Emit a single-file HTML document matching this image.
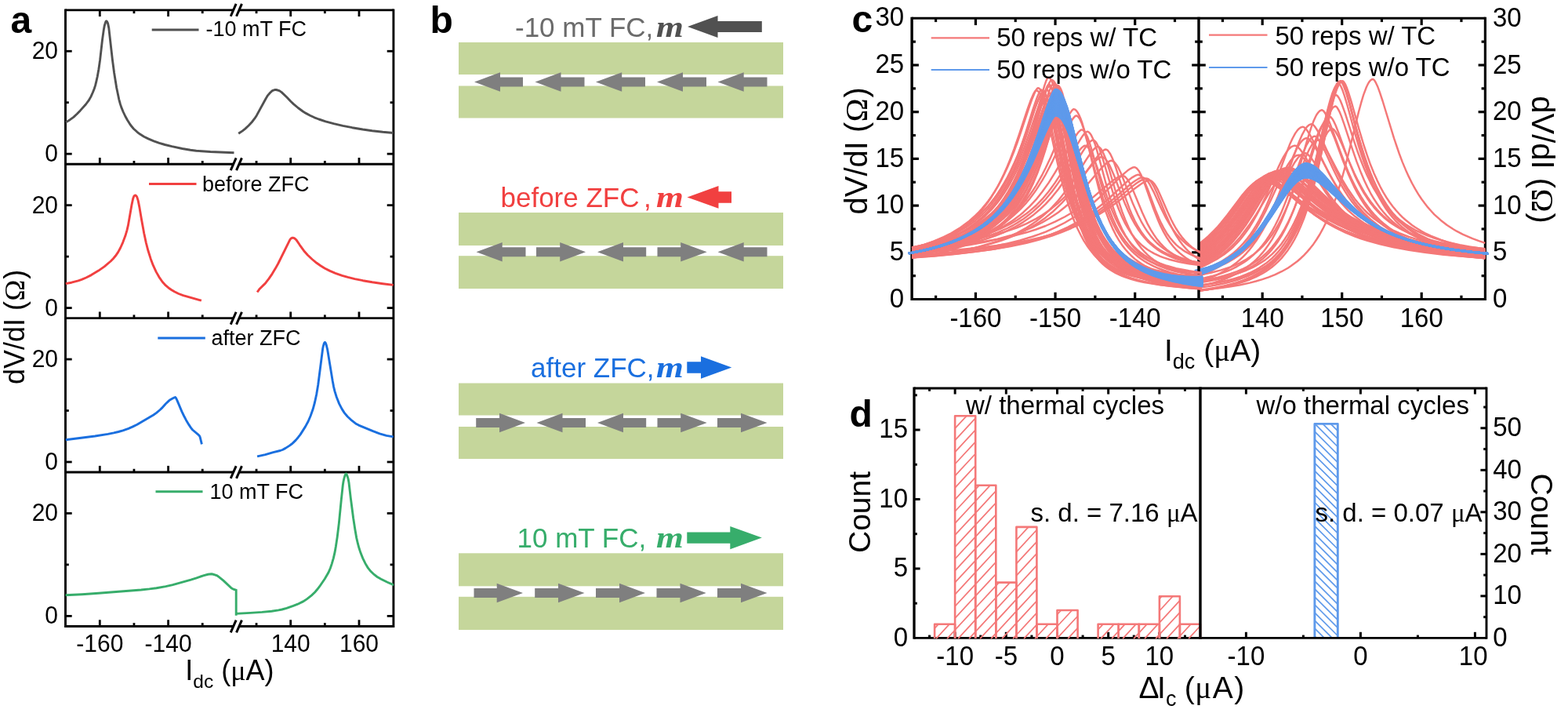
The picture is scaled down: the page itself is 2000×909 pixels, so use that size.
<!DOCTYPE html>
<html lang="en">
<head>
<meta charset="utf-8">
<title>Figure</title>
<style>
html,body{margin:0;padding:0;background:#fff;}
body{width:2000px;height:909px;overflow:hidden;}
svg{display:block;}
path{fill:none;}
</style>
</head>
<body>
<svg width="2000" height="909" viewBox="0 0 2000 909" font-family='"Liberation Sans", sans-serif'>
<rect x="0" y="0" width="2000" height="909" fill="#ffffff"/>
<g id="panel-a">
<line x1="83.50" y1="11.42" x2="83.50" y2="799.92" stroke="#000" stroke-width="2.9" stroke-linecap="butt" />
<line x1="501.90" y1="11.42" x2="501.90" y2="799.92" stroke="#000" stroke-width="2.9" stroke-linecap="butt" />
<line x1="83.50" y1="12.87" x2="297.70" y2="12.87" stroke="#000" stroke-width="2.9" stroke-linecap="butt" />
<line x1="305.00" y1="12.87" x2="501.90" y2="12.87" stroke="#000" stroke-width="2.9" stroke-linecap="butt" />
<line x1="294.25" y1="20.77" x2="301.15" y2="4.97" stroke="#000" stroke-width="3.0" stroke-linecap="butt" />
<line x1="301.55" y1="20.77" x2="308.45" y2="4.97" stroke="#000" stroke-width="3.0" stroke-linecap="butt" />
<line x1="83.50" y1="209.27" x2="297.70" y2="209.27" stroke="#000" stroke-width="2.9" stroke-linecap="butt" />
<line x1="305.00" y1="209.27" x2="501.90" y2="209.27" stroke="#000" stroke-width="2.9" stroke-linecap="butt" />
<line x1="294.25" y1="217.17" x2="301.15" y2="201.37" stroke="#000" stroke-width="3.0" stroke-linecap="butt" />
<line x1="301.55" y1="217.17" x2="308.45" y2="201.37" stroke="#000" stroke-width="3.0" stroke-linecap="butt" />
<line x1="83.50" y1="405.67" x2="297.70" y2="405.67" stroke="#000" stroke-width="2.9" stroke-linecap="butt" />
<line x1="305.00" y1="405.67" x2="501.90" y2="405.67" stroke="#000" stroke-width="2.9" stroke-linecap="butt" />
<line x1="294.25" y1="413.57" x2="301.15" y2="397.77" stroke="#000" stroke-width="3.0" stroke-linecap="butt" />
<line x1="301.55" y1="413.57" x2="308.45" y2="397.77" stroke="#000" stroke-width="3.0" stroke-linecap="butt" />
<line x1="83.50" y1="602.07" x2="297.70" y2="602.07" stroke="#000" stroke-width="2.9" stroke-linecap="butt" />
<line x1="305.00" y1="602.07" x2="501.90" y2="602.07" stroke="#000" stroke-width="2.9" stroke-linecap="butt" />
<line x1="294.25" y1="609.97" x2="301.15" y2="594.17" stroke="#000" stroke-width="3.0" stroke-linecap="butt" />
<line x1="301.55" y1="609.97" x2="308.45" y2="594.17" stroke="#000" stroke-width="3.0" stroke-linecap="butt" />
<line x1="83.50" y1="798.47" x2="297.70" y2="798.47" stroke="#000" stroke-width="2.9" stroke-linecap="butt" />
<line x1="305.00" y1="798.47" x2="501.90" y2="798.47" stroke="#000" stroke-width="2.9" stroke-linecap="butt" />
<line x1="294.25" y1="806.37" x2="301.15" y2="790.57" stroke="#000" stroke-width="3.0" stroke-linecap="butt" />
<line x1="301.55" y1="806.37" x2="308.45" y2="790.57" stroke="#000" stroke-width="3.0" stroke-linecap="butt" />
<line x1="127.30" y1="209.27" x2="127.30" y2="201.07" stroke="#000" stroke-width="2.8" stroke-linecap="butt" />
<line x1="214.60" y1="209.27" x2="214.60" y2="201.07" stroke="#000" stroke-width="2.8" stroke-linecap="butt" />
<line x1="370.70" y1="209.27" x2="370.70" y2="201.07" stroke="#000" stroke-width="2.8" stroke-linecap="butt" />
<line x1="458.00" y1="209.27" x2="458.00" y2="201.07" stroke="#000" stroke-width="2.8" stroke-linecap="butt" />
<line x1="170.95" y1="209.27" x2="170.95" y2="204.97" stroke="#000" stroke-width="2.8" stroke-linecap="butt" />
<line x1="258.25" y1="209.27" x2="258.25" y2="204.97" stroke="#000" stroke-width="2.8" stroke-linecap="butt" />
<line x1="327.05" y1="209.27" x2="327.05" y2="204.97" stroke="#000" stroke-width="2.8" stroke-linecap="butt" />
<line x1="414.35" y1="209.27" x2="414.35" y2="204.97" stroke="#000" stroke-width="2.8" stroke-linecap="butt" />
<line x1="83.50" y1="65.24" x2="91.70" y2="65.24" stroke="#000" stroke-width="2.8" stroke-linecap="butt" />
<line x1="501.90" y1="65.24" x2="493.70" y2="65.24" stroke="#000" stroke-width="2.8" stroke-linecap="butt" />
<line x1="83.50" y1="196.18" x2="91.70" y2="196.18" stroke="#000" stroke-width="2.8" stroke-linecap="butt" />
<line x1="501.90" y1="196.18" x2="493.70" y2="196.18" stroke="#000" stroke-width="2.8" stroke-linecap="butt" />
<line x1="83.50" y1="130.71" x2="87.80" y2="130.71" stroke="#000" stroke-width="2.8" stroke-linecap="butt" />
<line x1="501.90" y1="130.71" x2="497.60" y2="130.71" stroke="#000" stroke-width="2.8" stroke-linecap="butt" />
<text font-size="30" text-anchor="end" transform="translate(74.00,75.24) scale(1,1.045)" >20</text>
<text font-size="30" text-anchor="end" transform="translate(74.00,206.18) scale(1,1.045)" >0</text>
<line x1="127.30" y1="405.67" x2="127.30" y2="397.47" stroke="#000" stroke-width="2.8" stroke-linecap="butt" />
<line x1="214.60" y1="405.67" x2="214.60" y2="397.47" stroke="#000" stroke-width="2.8" stroke-linecap="butt" />
<line x1="370.70" y1="405.67" x2="370.70" y2="397.47" stroke="#000" stroke-width="2.8" stroke-linecap="butt" />
<line x1="458.00" y1="405.67" x2="458.00" y2="397.47" stroke="#000" stroke-width="2.8" stroke-linecap="butt" />
<line x1="170.95" y1="405.67" x2="170.95" y2="401.37" stroke="#000" stroke-width="2.8" stroke-linecap="butt" />
<line x1="258.25" y1="405.67" x2="258.25" y2="401.37" stroke="#000" stroke-width="2.8" stroke-linecap="butt" />
<line x1="327.05" y1="405.67" x2="327.05" y2="401.37" stroke="#000" stroke-width="2.8" stroke-linecap="butt" />
<line x1="414.35" y1="405.67" x2="414.35" y2="401.37" stroke="#000" stroke-width="2.8" stroke-linecap="butt" />
<line x1="83.50" y1="261.64" x2="91.70" y2="261.64" stroke="#000" stroke-width="2.8" stroke-linecap="butt" />
<line x1="501.90" y1="261.64" x2="493.70" y2="261.64" stroke="#000" stroke-width="2.8" stroke-linecap="butt" />
<line x1="83.50" y1="392.58" x2="91.70" y2="392.58" stroke="#000" stroke-width="2.8" stroke-linecap="butt" />
<line x1="501.90" y1="392.58" x2="493.70" y2="392.58" stroke="#000" stroke-width="2.8" stroke-linecap="butt" />
<line x1="83.50" y1="327.11" x2="87.80" y2="327.11" stroke="#000" stroke-width="2.8" stroke-linecap="butt" />
<line x1="501.90" y1="327.11" x2="497.60" y2="327.11" stroke="#000" stroke-width="2.8" stroke-linecap="butt" />
<text font-size="30" text-anchor="end" transform="translate(74.00,271.64) scale(1,1.045)" >20</text>
<text font-size="30" text-anchor="end" transform="translate(74.00,402.58) scale(1,1.045)" >0</text>
<line x1="127.30" y1="602.07" x2="127.30" y2="593.87" stroke="#000" stroke-width="2.8" stroke-linecap="butt" />
<line x1="214.60" y1="602.07" x2="214.60" y2="593.87" stroke="#000" stroke-width="2.8" stroke-linecap="butt" />
<line x1="370.70" y1="602.07" x2="370.70" y2="593.87" stroke="#000" stroke-width="2.8" stroke-linecap="butt" />
<line x1="458.00" y1="602.07" x2="458.00" y2="593.87" stroke="#000" stroke-width="2.8" stroke-linecap="butt" />
<line x1="170.95" y1="602.07" x2="170.95" y2="597.77" stroke="#000" stroke-width="2.8" stroke-linecap="butt" />
<line x1="258.25" y1="602.07" x2="258.25" y2="597.77" stroke="#000" stroke-width="2.8" stroke-linecap="butt" />
<line x1="327.05" y1="602.07" x2="327.05" y2="597.77" stroke="#000" stroke-width="2.8" stroke-linecap="butt" />
<line x1="414.35" y1="602.07" x2="414.35" y2="597.77" stroke="#000" stroke-width="2.8" stroke-linecap="butt" />
<line x1="83.50" y1="458.04" x2="91.70" y2="458.04" stroke="#000" stroke-width="2.8" stroke-linecap="butt" />
<line x1="501.90" y1="458.04" x2="493.70" y2="458.04" stroke="#000" stroke-width="2.8" stroke-linecap="butt" />
<line x1="83.50" y1="588.98" x2="91.70" y2="588.98" stroke="#000" stroke-width="2.8" stroke-linecap="butt" />
<line x1="501.90" y1="588.98" x2="493.70" y2="588.98" stroke="#000" stroke-width="2.8" stroke-linecap="butt" />
<line x1="83.50" y1="523.51" x2="87.80" y2="523.51" stroke="#000" stroke-width="2.8" stroke-linecap="butt" />
<line x1="501.90" y1="523.51" x2="497.60" y2="523.51" stroke="#000" stroke-width="2.8" stroke-linecap="butt" />
<text font-size="30" text-anchor="end" transform="translate(74.00,468.04) scale(1,1.045)" >20</text>
<text font-size="30" text-anchor="end" transform="translate(74.00,598.98) scale(1,1.045)" >0</text>
<line x1="127.30" y1="798.47" x2="127.30" y2="790.27" stroke="#000" stroke-width="2.8" stroke-linecap="butt" />
<line x1="214.60" y1="798.47" x2="214.60" y2="790.27" stroke="#000" stroke-width="2.8" stroke-linecap="butt" />
<line x1="370.70" y1="798.47" x2="370.70" y2="790.27" stroke="#000" stroke-width="2.8" stroke-linecap="butt" />
<line x1="458.00" y1="798.47" x2="458.00" y2="790.27" stroke="#000" stroke-width="2.8" stroke-linecap="butt" />
<line x1="170.95" y1="798.47" x2="170.95" y2="794.17" stroke="#000" stroke-width="2.8" stroke-linecap="butt" />
<line x1="258.25" y1="798.47" x2="258.25" y2="794.17" stroke="#000" stroke-width="2.8" stroke-linecap="butt" />
<line x1="327.05" y1="798.47" x2="327.05" y2="794.17" stroke="#000" stroke-width="2.8" stroke-linecap="butt" />
<line x1="414.35" y1="798.47" x2="414.35" y2="794.17" stroke="#000" stroke-width="2.8" stroke-linecap="butt" />
<line x1="83.50" y1="654.44" x2="91.70" y2="654.44" stroke="#000" stroke-width="2.8" stroke-linecap="butt" />
<line x1="501.90" y1="654.44" x2="493.70" y2="654.44" stroke="#000" stroke-width="2.8" stroke-linecap="butt" />
<line x1="83.50" y1="785.38" x2="91.70" y2="785.38" stroke="#000" stroke-width="2.8" stroke-linecap="butt" />
<line x1="501.90" y1="785.38" x2="493.70" y2="785.38" stroke="#000" stroke-width="2.8" stroke-linecap="butt" />
<line x1="83.50" y1="719.91" x2="87.80" y2="719.91" stroke="#000" stroke-width="2.8" stroke-linecap="butt" />
<line x1="501.90" y1="719.91" x2="497.60" y2="719.91" stroke="#000" stroke-width="2.8" stroke-linecap="butt" />
<text font-size="30" text-anchor="end" transform="translate(74.00,664.44) scale(1,1.045)" >20</text>
<text font-size="30" text-anchor="end" transform="translate(74.00,795.38) scale(1,1.045)" >0</text>
<line x1="127.30" y1="12.87" x2="127.30" y2="21.07" stroke="#000" stroke-width="2.8" stroke-linecap="butt" />
<line x1="214.60" y1="12.87" x2="214.60" y2="21.07" stroke="#000" stroke-width="2.8" stroke-linecap="butt" />
<line x1="370.70" y1="12.87" x2="370.70" y2="21.07" stroke="#000" stroke-width="2.8" stroke-linecap="butt" />
<line x1="458.00" y1="12.87" x2="458.00" y2="21.07" stroke="#000" stroke-width="2.8" stroke-linecap="butt" />
<line x1="170.95" y1="12.87" x2="170.95" y2="17.17" stroke="#000" stroke-width="2.8" stroke-linecap="butt" />
<line x1="258.25" y1="12.87" x2="258.25" y2="17.17" stroke="#000" stroke-width="2.8" stroke-linecap="butt" />
<line x1="327.05" y1="12.87" x2="327.05" y2="17.17" stroke="#000" stroke-width="2.8" stroke-linecap="butt" />
<line x1="414.35" y1="12.87" x2="414.35" y2="17.17" stroke="#000" stroke-width="2.8" stroke-linecap="butt" />
<text font-size="30" text-anchor="middle" transform="translate(127.30,831.00) scale(1,1.045)" >-160</text>
<text font-size="30" text-anchor="middle" transform="translate(214.60,831.00) scale(1,1.045)" >-140</text>
<text font-size="30" text-anchor="middle" transform="translate(370.70,831.00) scale(1,1.045)" >140</text>
<text font-size="30" text-anchor="middle" transform="translate(458.00,831.00) scale(1,1.045)" >160</text>
<clipPath id="clipA"><rect x="83.1" y="0" width="419.2" height="909"/></clipPath>
<g clip-path="url(#clipA)">
<path d="M83.7 156l5.2 -3.1 4.9 -3.5 4.4 -4.1 4.2 -4.4 7.1 -7.9 3.6 -4.8 2.9 -5.1 2.5 -5.6 1.7 -4.3 1.4 -4.3 1.4 -5.8 1.3 -5.8 1.6 -9 1.7 -11.9 2.9 -25.5 1.9 -13.5 0.8 -4.4 1.4 -4.7 0.7 -1.4 0.8 0 0.8 1.3 0.7 1.7 1.2 5.7 4.6 40.6 2.2 16.5 3.1 19.3 3.1 14.8 1.6 5.8 1.4 4.3 2.3 5.6 2.6 5.5 2.9 5.2 2.4 3.9 2.6 3.7 2.9 3.4 4.5 4.1 3.6 2.8 5.1 3.1 5.4 2.7 7 2.9 7.1 2.5 7.2 2.2 8.8 2.2 13.3 2.8 10.4 1.8 7.5 0.9 18 1.3 30.1 1.2" stroke="#515151" stroke-width="2.9" stroke-linejoin="round" stroke-linecap="butt" />
<path d="M304.2 170.3l5.1 -3.4 3.5 -2.8 4.4 -4.1 4.2 -4.5 3.7 -4.8 2.4 -3.8 11.7 -21.4 2.4 -3.9 2.9 -3.4 2.3 -2.1 1.3 -0.8 2.8 -0.9 1.5 0.1 3 0.9 1.3 0.5 2.5 1.7 6.7 6.4 5.2 5.5 3.3 3.1 5.8 4.9 6.1 4.5 3.9 2.4 5.3 2.8 5.5 2.6 5.7 2.2 8.6 2.8 10.3 2.8 11.7 2.7 11.9 2.4 13.5 2.3 12 1.7 13.5 1.6 13.6 1.2" stroke="#515151" stroke-width="2.9" stroke-linejoin="round" stroke-linecap="butt" />
<path d="M83.7 361.6l7.5 -1.4 8.7 -2.3 4.3 -1.5 5.6 -2.4 6.7 -3.4 9.1 -5.5 7.5 -5.2 8.1 -6.9 3.2 -3.3 2.9 -3.4 3.4 -4.9 2.9 -5.4 3.1 -6.9 3.2 -8.5 2.1 -7.3 1.4 -5.9 4.7 -26.8 1.6 -7.5 1.1 -2.8 1 -1.2 1.2 -0.1 1.2 1.2 0.7 1.4 1.3 4.3 1.8 9 2.5 14.9 3.3 17.9 2.5 11.8 2.7 10.3 3.2 10.1 3.2 8.5 3.8 8.2 3.8 6.7 4.3 6.2 4.1 4.4 4.7 3.9 2.5 1.7 3.8 2.3 5.5 2.7 5.7 2.2 23.3 6.5" stroke="#F14040" stroke-width="2.9" stroke-linejoin="round" stroke-linecap="butt" />
<path d="M328.1 372.5l2.6 -3.7 6.5 -6.4 2 -2.2 3.7 -4.8 4.3 -6.3 3.9 -6.5 3.7 -6.6 14.9 -30.1 0.8 -1.2 0.9 -0.9 1.5 -0.6 1.4 0 1.4 0.7 2.3 2 4.3 6.4 6.2 8.5 4 4.5 5.6 5.2 5.8 4.8 5 3.5 5.2 3.2 6.7 3.4 7 2.9 8.6 3 7.2 2.1 8.9 2.2 10.4 2.1 11.9 2.1 13.5 1.9 13.5 1.7" stroke="#F14040" stroke-width="2.9" stroke-linejoin="round" stroke-linecap="butt" />
<path d="M83.7 560.8l37.5 -4.8 16.5 -2.6 7.4 -1.5 5.9 -1.4 5.8 -1.7 7.1 -2.5 5.6 -2.4 5.4 -2.7 20.9 -12.2 3.7 -2.6 4.6 -3.9 2.2 -2.1 5.1 -5.6 4.4 -4.2 1.2 -0.9 2.6 -1.5 2.9 -1.4 1.2 -0.3 0.9 1.2 1.4 2.9 5.9 14 2.6 5.4 2.8 5.4 3.9 6.5 2.5 3.8 1.9 2.3 7 5.9 1.2 1.1 0.9 1.1 0.5 1.3 2.2 8.9" stroke="#1A6FDF" stroke-width="2.9" stroke-linejoin="round" stroke-linecap="butt" />
<path d="M328.1 581.9l10.3 -2.2 10.2 -3 8.8 -2.2 2.9 -1 3.9 -2.1 5.1 -3.3 2.5 -1.8 2.2 -1.9 3.3 -3.3 2.9 -3.4 2.8 -3.6 6.5 -10.2 3.6 -6.6 3 -7 3 -8.5 2.4 -8.8 2.2 -10.3 2 -12 6 -46.5 0.6 -2.9 1 -3.3 0.7 -1.4 0.7 -0.2 0.7 1.2 0.7 1.7 1.5 6 6.6 40.3 1.4 7.5 1.4 5.8 2.3 7.3 3.3 8.4 3.5 6.8 3.2 5 3.9 4.6 5.6 5.2 4.8 3.7 3.9 2.2 18.2 7.6 8.5 3.1 8.7 2.6 8.9 1.5" stroke="#1A6FDF" stroke-width="2.9" stroke-linejoin="round" stroke-linecap="butt" />
<path d="M83.5 758.8l21.1 -1.1 21.1 -1.4 54.3 -4.3 10.5 -1.1 9 -1.2 11.9 -2 8.9 -2 23.2 -6.6 7.2 -2.3 8.6 -3 5.9 -1.5 4.5 -0.5 1.5 0.2 2.9 0.8 2.8 1.1 1.2 0.8 7.1 5.7 10 9.5 2.5 1.3 3.5 1.1 0 32.4 0 -2.4 18.1 -0.9 15 -1 12.1 -1.2 8.9 -1.3 4.4 -0.9 5.9 -1.7 8.5 -2.9 5.7 -2.2 6.7 -3.3 5.1 -3.3 6 -4.7 4.3 -4.1 2.9 -3.5 2.8 -3.6 6.8 -10 4.6 -7.9 2.4 -5.5 1.9 -5.7 2.1 -7.3 1.7 -7.4 1.3 -7.4 1.8 -11.9 2.2 -18 2.8 -28.5 2.1 -19.6 0.7 -4.5 1 -4.5 1.1 -3.6 0.7 -1.3 0.6 -0.6 0.6 0.4 1.2 3 1 3.5 0.8 4.4 2.3 19.6 3.3 25.4 2.3 14.9 1.8 10.4 1.7 7.4 1.6 5.8 1.9 5.8 2.8 7 3.3 6.8 3.1 5.2 3.7 4.7 4.4 4.2 3.6 2.7 5.2 3 8.1 4.1 8.4 3.5" stroke="#37AD6B" stroke-width="2.9" stroke-linejoin="miter" stroke-linecap="butt" />
</g>
<text x="236.3" y="867" font-family='"Liberation Sans", sans-serif' font-size="36" fill="#000">I<tspan font-size="24.5" dy="9.5">dc</tspan><tspan dy="-9.5" font-size="36"> (</tspan><tspan font-family='"Liberation Serif", serif' font-size="36">μ</tspan><tspan>A)</tspan></text>
<text transform="translate(31,490) rotate(-90)" font-size="36">dV/dI (<tspan font-family='"Liberation Serif", serif' dx="0.5">Ω</tspan><tspan dx="1">)</tspan></text>
<line x1="193.70" y1="38.00" x2="253.50" y2="38.00" stroke="#515151" stroke-width="3.0" stroke-linecap="butt" />
<text font-size="27" x="262.50" y="46.20" >-10 mT FC</text>
<line x1="190.00" y1="234.60" x2="250.50" y2="234.60" stroke="#F14040" stroke-width="3.0" stroke-linecap="butt" />
<text font-size="27" x="258.00" y="243.50" >before ZFC</text>
<line x1="201.30" y1="430.90" x2="261.80" y2="430.90" stroke="#1A6FDF" stroke-width="3.0" stroke-linecap="butt" />
<text font-size="27" x="269.50" y="440.00" >after ZFC</text>
<line x1="198.50" y1="626.80" x2="258.50" y2="626.80" stroke="#37AD6B" stroke-width="3.0" stroke-linecap="butt" />
<text font-size="27" x="267.50" y="636.00" >10 mT FC</text>
<text font-size="48" font-weight="bold" x="13.50" y="41.80" >a</text>
</g>
<g id="panel-b">
<rect x="585.00" y="54.00" width="414.00" height="41.00" fill="#C5D69B" stroke="none" stroke-width="0" />
<rect x="585.00" y="109.50" width="414.00" height="41.00" fill="#C5D69B" stroke="none" stroke-width="0" />
<polygon points="667.00,98.55 638.00,98.55 638.00,92.30 605.00,104.50 638.00,116.70 638.00,110.45 667.00,110.45" fill="#7F7F7F"/>
<polygon points="745.50,98.55 715.50,98.55 715.50,92.30 682.50,104.50 715.50,116.70 715.50,110.45 745.50,110.45" fill="#7F7F7F"/>
<polygon points="823.00,98.55 793.20,98.55 793.20,92.30 760.00,104.50 793.20,116.70 793.20,110.45 823.00,110.45" fill="#7F7F7F"/>
<polygon points="901.00,98.55 871.00,98.55 871.00,92.30 838.00,104.50 871.00,116.70 871.00,110.45 901.00,110.45" fill="#7F7F7F"/>
<polygon points="978.50,98.55 948.70,98.55 948.70,92.30 915.50,104.50 948.70,116.70 948.70,110.45 978.50,110.45" fill="#7F7F7F"/>
<rect x="585.00" y="271.00" width="414.00" height="42.00" fill="#C5D69B" stroke="none" stroke-width="0" />
<rect x="585.00" y="326.20" width="414.00" height="41.80" fill="#C5D69B" stroke="none" stroke-width="0" />
<polygon points="670.50,315.35 640.70,315.35 640.70,309.10 607.50,321.30 640.70,333.50 640.70,327.25 670.50,327.25" fill="#7F7F7F"/>
<polygon points="684.00,315.35 714.20,315.35 714.20,309.10 747.00,321.30 714.20,333.50 714.20,327.25 684.00,327.25" fill="#7F7F7F"/>
<polygon points="824.20,315.35 795.00,315.35 795.00,309.10 762.00,321.30 795.00,333.50 795.00,327.25 824.20,327.25" fill="#7F7F7F"/>
<polygon points="838.50,315.35 868.20,315.35 868.20,309.10 901.70,321.30 868.20,333.50 868.20,327.25 838.50,327.25" fill="#7F7F7F"/>
<polygon points="978.50,315.35 948.70,315.35 948.70,309.10 915.50,321.30 948.70,333.50 948.70,327.25 978.50,327.25" fill="#7F7F7F"/>
<rect x="585.00" y="488.50" width="414.00" height="41.00" fill="#C5D69B" stroke="none" stroke-width="0" />
<rect x="585.00" y="544.00" width="414.00" height="41.00" fill="#C5D69B" stroke="none" stroke-width="0" />
<polygon points="607.20,533.05 637.00,533.05 637.00,526.80 670.00,539.00 637.00,551.20 637.00,544.95 607.20,544.95" fill="#7F7F7F"/>
<polygon points="747.00,533.05 717.50,533.05 717.50,526.80 684.50,539.00 717.50,551.20 717.50,544.95 747.00,544.95" fill="#7F7F7F"/>
<polygon points="824.20,533.05 795.00,533.05 795.00,526.80 762.00,539.00 795.00,551.20 795.00,544.95 824.20,544.95" fill="#7F7F7F"/>
<polygon points="838.50,533.05 868.20,533.05 868.20,526.80 901.70,539.00 868.20,551.20 868.20,544.95 838.50,544.95" fill="#7F7F7F"/>
<polygon points="915.00,533.05 945.00,533.05 945.00,526.80 978.50,539.00 945.00,551.20 945.00,544.95 915.00,544.95" fill="#7F7F7F"/>
<rect x="585.00" y="705.30" width="414.00" height="42.00" fill="#C5D69B" stroke="none" stroke-width="0" />
<rect x="585.00" y="760.80" width="414.00" height="42.20" fill="#C5D69B" stroke="none" stroke-width="0" />
<polygon points="604.50,750.05 633.70,750.05 633.70,743.80 667.00,756.00 633.70,768.20 633.70,761.95 604.50,761.95" fill="#7F7F7F"/>
<polygon points="682.20,750.05 712.00,750.05 712.00,743.80 745.50,756.00 712.00,768.20 712.00,761.95 682.20,761.95" fill="#7F7F7F"/>
<polygon points="760.00,750.05 790.00,750.05 790.00,743.80 823.00,756.00 790.00,768.20 790.00,761.95 760.00,761.95" fill="#7F7F7F"/>
<polygon points="837.50,750.05 867.50,750.05 867.50,743.80 900.70,756.00 867.50,768.20 867.50,761.95 837.50,761.95" fill="#7F7F7F"/>
<polygon points="915.00,750.05 945.00,750.05 945.00,743.80 978.50,756.00 945.00,768.20 945.00,761.95 915.00,761.95" fill="#7F7F7F"/>
<polygon points="971.80,27.10 915.50,27.10 915.50,20.00 877.00,34.00 915.50,48.00 915.50,40.90 971.80,40.90" fill="#515151"/>
<polygon points="933.00,244.15 916.50,244.15 916.50,237.00 876.50,251.40 916.50,265.80 916.50,258.65 933.00,258.65" fill="#F14040"/>
<polygon points="876.30,461.35 894.00,461.35 894.00,454.25 933.30,468.50 894.00,482.75 894.00,475.65 876.30,475.65" fill="#1A6FDF"/>
<polygon points="876.30,678.45 931.30,678.45 931.30,671.00 971.80,685.60 931.30,700.20 931.30,692.75 876.30,692.75" fill="#37AD6B"/>
<text font-size="35" fill="#6B6B6B" x="657.00" y="46.50" >-10 mT FC,</text>
<text transform="translate(837.0,46.5) scale(1.12,0.95)" font-size="40" font-weight="bold" font-style="italic" fill="#515151" font-family='"Liberation Serif", serif'>m</text>
<text font-size="35" fill="#F14040" x="638.50" y="264.00" >before ZFC<tspan dx="5.5">,</tspan></text>
<text transform="translate(837.0,264.0) scale(1.12,0.95)" font-size="40" font-weight="bold" font-style="italic" fill="#F14040" font-family='"Liberation Serif", serif'>m</text>
<text font-size="35" fill="#1A6FDF" x="677.00" y="481.00" >after ZFC,</text>
<text transform="translate(837.0,481.0) scale(1.12,0.95)" font-size="40" font-weight="bold" font-style="italic" fill="#1A6FDF" font-family='"Liberation Serif", serif'>m</text>
<text font-size="35" fill="#37AD6B" x="659.50" y="698.30" >10 mT FC,</text>
<text transform="translate(837.0,698.3) scale(1.12,0.95)" font-size="40" font-weight="bold" font-style="italic" fill="#37AD6B" font-family='"Liberation Serif", serif'>m</text>
<text font-size="48" font-weight="bold" x="548.50" y="41.50" >b</text>
</g>
<g id="panel-c">
<clipPath id="clipCL"><rect x="1157.1" y="23.3" width="377.1000000000001" height="358.2"/></clipPath>
<clipPath id="clipCR"><rect x="1523.8" y="23.3" width="376.6000000000001" height="358.2"/></clipPath>
<line x1="1163.10" y1="21.85" x2="1163.10" y2="382.95" stroke="#000" stroke-width="3.4" stroke-linecap="butt" />
<line x1="1894.40" y1="21.85" x2="1894.40" y2="382.95" stroke="#000" stroke-width="3.2" stroke-linecap="butt" />
<line x1="1163.10" y1="23.30" x2="1894.40" y2="23.30" stroke="#000" stroke-width="2.9" stroke-linecap="butt" />
<line x1="1163.10" y1="381.50" x2="1894.40" y2="381.50" stroke="#000" stroke-width="2.9" stroke-linecap="butt" />
<line x1="1193.59" y1="381.50" x2="1193.59" y2="376.70" stroke="#000" stroke-width="3.2" stroke-linecap="butt" />
<line x1="1193.59" y1="23.30" x2="1193.59" y2="28.10" stroke="#000" stroke-width="3.2" stroke-linecap="butt" />
<line x1="1244.41" y1="381.50" x2="1244.41" y2="372.70" stroke="#000" stroke-width="3.2" stroke-linecap="butt" />
<line x1="1244.41" y1="23.30" x2="1244.41" y2="32.10" stroke="#000" stroke-width="3.2" stroke-linecap="butt" />
<line x1="1295.23" y1="381.50" x2="1295.23" y2="376.70" stroke="#000" stroke-width="3.2" stroke-linecap="butt" />
<line x1="1295.23" y1="23.30" x2="1295.23" y2="28.10" stroke="#000" stroke-width="3.2" stroke-linecap="butt" />
<line x1="1346.05" y1="381.50" x2="1346.05" y2="372.70" stroke="#000" stroke-width="3.2" stroke-linecap="butt" />
<line x1="1346.05" y1="23.30" x2="1346.05" y2="32.10" stroke="#000" stroke-width="3.2" stroke-linecap="butt" />
<line x1="1396.87" y1="381.50" x2="1396.87" y2="376.70" stroke="#000" stroke-width="3.2" stroke-linecap="butt" />
<line x1="1396.87" y1="23.30" x2="1396.87" y2="28.10" stroke="#000" stroke-width="3.2" stroke-linecap="butt" />
<line x1="1447.69" y1="381.50" x2="1447.69" y2="372.70" stroke="#000" stroke-width="3.2" stroke-linecap="butt" />
<line x1="1447.69" y1="23.30" x2="1447.69" y2="32.10" stroke="#000" stroke-width="3.2" stroke-linecap="butt" />
<line x1="1498.51" y1="381.50" x2="1498.51" y2="376.70" stroke="#000" stroke-width="3.2" stroke-linecap="butt" />
<line x1="1498.51" y1="23.30" x2="1498.51" y2="28.10" stroke="#000" stroke-width="3.2" stroke-linecap="butt" />
<line x1="1559.45" y1="381.50" x2="1559.45" y2="376.70" stroke="#000" stroke-width="3.2" stroke-linecap="butt" />
<line x1="1559.45" y1="23.30" x2="1559.45" y2="28.10" stroke="#000" stroke-width="3.2" stroke-linecap="butt" />
<line x1="1610.20" y1="381.50" x2="1610.20" y2="372.70" stroke="#000" stroke-width="3.2" stroke-linecap="butt" />
<line x1="1610.20" y1="23.30" x2="1610.20" y2="32.10" stroke="#000" stroke-width="3.2" stroke-linecap="butt" />
<line x1="1660.95" y1="381.50" x2="1660.95" y2="376.70" stroke="#000" stroke-width="3.2" stroke-linecap="butt" />
<line x1="1660.95" y1="23.30" x2="1660.95" y2="28.10" stroke="#000" stroke-width="3.2" stroke-linecap="butt" />
<line x1="1711.70" y1="381.50" x2="1711.70" y2="372.70" stroke="#000" stroke-width="3.2" stroke-linecap="butt" />
<line x1="1711.70" y1="23.30" x2="1711.70" y2="32.10" stroke="#000" stroke-width="3.2" stroke-linecap="butt" />
<line x1="1762.45" y1="381.50" x2="1762.45" y2="376.70" stroke="#000" stroke-width="3.2" stroke-linecap="butt" />
<line x1="1762.45" y1="23.30" x2="1762.45" y2="28.10" stroke="#000" stroke-width="3.2" stroke-linecap="butt" />
<line x1="1813.20" y1="381.50" x2="1813.20" y2="372.70" stroke="#000" stroke-width="3.2" stroke-linecap="butt" />
<line x1="1813.20" y1="23.30" x2="1813.20" y2="32.10" stroke="#000" stroke-width="3.2" stroke-linecap="butt" />
<line x1="1863.95" y1="381.50" x2="1863.95" y2="376.70" stroke="#000" stroke-width="3.2" stroke-linecap="butt" />
<line x1="1863.95" y1="23.30" x2="1863.95" y2="28.10" stroke="#000" stroke-width="3.2" stroke-linecap="butt" />
<line x1="1163.10" y1="351.65" x2="1167.90" y2="351.65" stroke="#000" stroke-width="3.2" stroke-linecap="butt" />
<line x1="1894.40" y1="351.65" x2="1889.60" y2="351.65" stroke="#000" stroke-width="3.2" stroke-linecap="butt" />
<line x1="1163.10" y1="321.80" x2="1171.90" y2="321.80" stroke="#000" stroke-width="3.2" stroke-linecap="butt" />
<line x1="1894.40" y1="321.80" x2="1885.60" y2="321.80" stroke="#000" stroke-width="3.2" stroke-linecap="butt" />
<line x1="1163.10" y1="291.95" x2="1167.90" y2="291.95" stroke="#000" stroke-width="3.2" stroke-linecap="butt" />
<line x1="1894.40" y1="291.95" x2="1889.60" y2="291.95" stroke="#000" stroke-width="3.2" stroke-linecap="butt" />
<line x1="1163.10" y1="262.10" x2="1171.90" y2="262.10" stroke="#000" stroke-width="3.2" stroke-linecap="butt" />
<line x1="1894.40" y1="262.10" x2="1885.60" y2="262.10" stroke="#000" stroke-width="3.2" stroke-linecap="butt" />
<line x1="1163.10" y1="232.25" x2="1167.90" y2="232.25" stroke="#000" stroke-width="3.2" stroke-linecap="butt" />
<line x1="1894.40" y1="232.25" x2="1889.60" y2="232.25" stroke="#000" stroke-width="3.2" stroke-linecap="butt" />
<line x1="1163.10" y1="202.40" x2="1171.90" y2="202.40" stroke="#000" stroke-width="3.2" stroke-linecap="butt" />
<line x1="1894.40" y1="202.40" x2="1885.60" y2="202.40" stroke="#000" stroke-width="3.2" stroke-linecap="butt" />
<line x1="1163.10" y1="172.55" x2="1167.90" y2="172.55" stroke="#000" stroke-width="3.2" stroke-linecap="butt" />
<line x1="1894.40" y1="172.55" x2="1889.60" y2="172.55" stroke="#000" stroke-width="3.2" stroke-linecap="butt" />
<line x1="1163.10" y1="142.70" x2="1171.90" y2="142.70" stroke="#000" stroke-width="3.2" stroke-linecap="butt" />
<line x1="1894.40" y1="142.70" x2="1885.60" y2="142.70" stroke="#000" stroke-width="3.2" stroke-linecap="butt" />
<line x1="1163.10" y1="112.85" x2="1167.90" y2="112.85" stroke="#000" stroke-width="3.2" stroke-linecap="butt" />
<line x1="1894.40" y1="112.85" x2="1889.60" y2="112.85" stroke="#000" stroke-width="3.2" stroke-linecap="butt" />
<line x1="1163.10" y1="83.00" x2="1171.90" y2="83.00" stroke="#000" stroke-width="3.2" stroke-linecap="butt" />
<line x1="1894.40" y1="83.00" x2="1885.60" y2="83.00" stroke="#000" stroke-width="3.2" stroke-linecap="butt" />
<line x1="1163.10" y1="53.15" x2="1167.90" y2="53.15" stroke="#000" stroke-width="3.2" stroke-linecap="butt" />
<line x1="1894.40" y1="53.15" x2="1889.60" y2="53.15" stroke="#000" stroke-width="3.2" stroke-linecap="butt" />
<line x1="1529.00" y1="351.65" x2="1533.80" y2="351.65" stroke="#000" stroke-width="3.2" stroke-linecap="butt" />
<line x1="1529.00" y1="321.80" x2="1537.80" y2="321.80" stroke="#000" stroke-width="3.2" stroke-linecap="butt" />
<line x1="1529.00" y1="291.95" x2="1533.80" y2="291.95" stroke="#000" stroke-width="3.2" stroke-linecap="butt" />
<line x1="1529.00" y1="262.10" x2="1537.80" y2="262.10" stroke="#000" stroke-width="3.2" stroke-linecap="butt" />
<line x1="1529.00" y1="232.25" x2="1533.80" y2="232.25" stroke="#000" stroke-width="3.2" stroke-linecap="butt" />
<line x1="1529.00" y1="202.40" x2="1537.80" y2="202.40" stroke="#000" stroke-width="3.2" stroke-linecap="butt" />
<line x1="1529.00" y1="172.55" x2="1533.80" y2="172.55" stroke="#000" stroke-width="3.2" stroke-linecap="butt" />
<line x1="1529.00" y1="142.70" x2="1537.80" y2="142.70" stroke="#000" stroke-width="3.2" stroke-linecap="butt" />
<line x1="1529.00" y1="112.85" x2="1533.80" y2="112.85" stroke="#000" stroke-width="3.2" stroke-linecap="butt" />
<line x1="1529.00" y1="83.00" x2="1537.80" y2="83.00" stroke="#000" stroke-width="3.2" stroke-linecap="butt" />
<line x1="1529.00" y1="53.15" x2="1533.80" y2="53.15" stroke="#000" stroke-width="3.2" stroke-linecap="butt" />
<g stroke="#F47878" stroke-width="2.45" stroke-linecap="butt" stroke-linejoin="round" clip-path="url(#clipCR)">
<path d="M1529 342.1l8.1 -3.9 4.1 -2.1 8.1 -4.9 4.1 -2.7 8.1 -6.1 4 -3.5 8.2 -7.7 8.1 -9 4 -5.1 8.2 -11.1 8.1 -12.4 19.4 -31.9 4.8 -7.3 3.7 -4.9 4.6 -5.1 4 -3.4 2.3 -1.4 1.8 -0.7 1.9 -0.6 2.1 -0.2 2.8 0.5 3.6 1.7 3.7 2.4 3.6 2.9 7.3 6.7 15.6 15.7 8.1 7.9 12.2 10.8 8.1 6.4 8.1 5.8 4.1 2.6 8.1 4.9 8.1 4.3 12.2 5.7 12.2 4.8 8.1 2.8 8.1 2.5 16.3 4.3 16.2 3.5 16.2 3 20.3 3 20.3 2.4 24.4 2.4"/>
<path d="M1529 341l8.1 -4.3 4.1 -2.3 8.1 -5.4 4.1 -3 8.1 -6.8 4 -3.8 8.2 -8.6 8.1 -9.9 8.1 -11.2 8.1 -12.7 20.3 -34.1 4.1 -6.4 4 -5.6 4.5 -5.3 2.5 -2.4 2.4 -1.9 2.4 -1.5 2.5 -1 2 -0.5 1.6 -0.1 2.5 0.5 4 1.8 4.1 2.7 4.1 3.3 8 7.4 24.4 24.3 12.2 10.9 8.1 6.6 8.1 5.9 12.2 7.9 8.1 4.7 12.2 6 12.2 5.3 8.1 3 8.1 2.8 16.3 4.7 16.2 4 16.2 3.3 20.3 3.4 20.3 2.8 24.4 2.7"/>
<path d="M1529 340l8.1 -4.7 4.1 -2.5 8.1 -5.8 8.1 -6.6 4.1 -3.7 8.1 -8.2 8.1 -9.4 4.1 -5.1 8.1 -11.2 8.1 -12.2 17.5 -27.7 4.9 -7.2 4.9 -6.4 4.8 -5.5 2.5 -2.2 2.4 -1.9 2.4 -1.5 2.5 -1.1 2.4 -0.6 2.5 -0.2 2.4 0.4 3.6 1.6 4.1 2.3 4.5 3.3 7.6 6.6 20.3 19 8.2 7.2 8.1 6.8 8.1 6.2 8.1 5.6 12.2 7.5 8.1 4.4 12.2 5.8 12.2 4.9 8.1 3 8.1 2.6 16.3 4.5 16.2 3.8 16.2 3.2 20.3 3.3 20.3 2.6 24.4 2.7"/>
<path d="M1529 338.9l8.1 -4.9 4.1 -2.8 8.1 -6.1 8.1 -7 8.1 -8 8.2 -9.1 4 -5.1 8.1 -10.9 8.2 -12 21 -33.3 4.9 -7.1 4.8 -6.4 4.9 -5.3 2.5 -2.2 2.5 -1.9 2.3 -1.4 2.5 -1 2.4 -0.7 2.4 -0.2 2.5 0.5 4.1 1.7 4.4 2.7 4.9 3.6 8.5 7.5 18.7 17.9 8.2 7.5 12.1 10.5 8.2 6.3 8.1 5.8 12.2 7.8 8.1 4.6 12.2 6.1 12.1 5.3 8.2 3.2 8.1 2.8 16.2 5 16.3 4.2 16.2 3.5 20.3 3.7 20.3 3 20.3 2.5"/>
<path d="M1529 337.8l8.1 -5.3 8.1 -6.2 8.2 -7.1 8.1 -8.1 8.1 -9.3 4.1 -5 8.1 -11 8.1 -12.1 19.2 -30 4.9 -7.1 4.3 -5.6 5.4 -5.9 2.5 -2.2 2.4 -1.8 2.4 -1.5 2.5 -1 2.4 -0.7 2.4 -0.2 2.5 0.5 3.6 1.5 3.7 2.1 4.9 3.5 8.5 7.2 17.7 16.3 8.1 7.2 12.2 9.9 8.1 5.9 8.2 5.4 12.1 7.1 8.2 4.2 12.1 5.5 12.2 4.7 8.1 2.8 8.2 2.5 16.2 4.3 16.2 3.6 20.3 3.7 20.3 3 20.3 2.4 24.4 2.4"/>
<path d="M1529 336.7l8.1 -5.2 4.1 -2.9 8.1 -6.5 8.1 -7.4 8.1 -8.5 8.2 -9.7 8.1 -10.8 8.1 -12 21.1 -33.1 4.9 -7.1 3.7 -4.8 2.8 -3.3 3.2 -3.4 2.5 -2.2 2.4 -1.8 2.5 -1.5 2.4 -1 2.4 -0.7 2.5 -0.2 2.4 0.5 4 1.7 4.1 2.4 4.1 2.9 8.5 7.1 19.9 18.3 8.1 7.1 12.2 9.8 8.1 5.8 8.1 5.4 12.2 7 8.1 4.2 12.2 5.5 12.2 4.7 8.1 2.7 8.1 2.5 16.3 4.4 16.2 3.6 16.2 3.1 20.3 3.1 20.3 2.6 24.4 2.6"/>
<path d="M1529 335.7l8.1 -4.9 4.1 -2.7 8.1 -6.1 8.1 -6.9 8.1 -8 8.2 -9.1 8.1 -10.3 8.1 -11.2 21.7 -32.5 4.9 -6.6 3.7 -4.5 4.8 -5.1 2.5 -2.1 3 -2.1 1.8 -1 2.5 -1.1 2.4 -0.6 2.5 -0.2 3 0.6 4 1.6 4.1 2.3 4.7 3.1 8.5 6.7 19.3 16.3 8.1 6.6 12.2 9.2 8.1 5.5 8.1 5 12.2 6.8 8.1 3.9 12.2 5.3 12.2 4.6 16.2 5.1 16.3 4.3 16.2 3.5 16.2 3 20.3 3.2 20.3 2.6 24.4 2.5"/>
<path d="M1529 334.6l8.1 -5.1 8.1 -5.8 8.2 -6.7 8.1 -7.6 8.1 -8.7 4.1 -4.8 8.1 -10.3 8.1 -11.3 19.8 -29.1 4.6 -6.1 4 -5 3.6 -3.9 2.4 -2.3 2.5 -2 2.4 -1.7 2.4 -1.3 2.5 -1 2.4 -0.6 2.1 -0.2 1.6 0.1 2.4 0.6 3.7 1.4 4.5 2.3 5.2 3.2 8.5 6.2 18.8 14.7 12.2 9.2 12.1 8.4 8.2 5.2 8.1 4.7 12.2 6.3 8.1 3.8 12.2 5.1 12.1 4.4 16.3 5 16.2 4.2 16.3 3.5 16.2 3.1 20.3 3.1 20.3 2.7 20.3 2.2"/>
<path d="M1529 333.5l8.1 -5.4 4.1 -3 8.1 -6.7 8.1 -7.7 8.1 -8.8 8.2 -9.9 8.1 -11.1 8.1 -12 18.6 -28.5 5.8 -7.9 5.1 -6.1 4.9 -4.6 3.6 -2.5 2.5 -1.3 2.4 -0.8 3.7 -0.5 1.2 0.2 2.4 0.6 3.7 1.6 4.8 2.8 4.9 3.5 8.5 7 21.3 18.7 8.1 6.8 12.2 9.5 8.1 5.8 8.1 5.3 12.2 7 8.1 4.2 12.2 5.6 12.2 4.9 16.2 5.6 16.3 4.6 16.2 3.9 16.2 3.3 20.3 3.4 20.3 2.9 24.4 2.8"/>
<path d="M1529 332.5l8.1 -5 8.1 -5.8 8.2 -6.7 8.1 -7.8 8.1 -8.9 8.1 -10.1 8.1 -11.2 21.3 -31.7 4.9 -6.6 3.7 -4.4 4.8 -5 2.5 -2 2.4 -1.6 2.5 -1.3 2.4 -0.8 3.6 -0.5 3.7 0.7 3.6 1.5 3.7 2 4.9 3.2 9.1 6.9 20.3 16.9 8.1 6.5 12.2 8.9 8.1 5.4 8.2 5 12.1 6.7 8.2 3.9 12.1 5.3 12.2 4.5 16.3 5.2 16.2 4.3 16.2 3.6 20.3 3.7 20.3 3.1 20.3 2.5 24.4 2.5"/>
<path d="M1529 331.4l8.1 -4.4 4.1 -2.5 8.1 -5.6 8.1 -6.6 8.1 -7.7 8.2 -8.9 8.1 -10.3 8.1 -11.4 18.3 -27.9 4.8 -6.8 3.7 -4.5 4.9 -5.1 3.6 -2.8 2.4 -1.4 2.5 -1 3.6 -0.5 3.7 0.7 3.6 1.4 3.7 1.9 4.9 3 9.3 6.7 20.3 16 8.1 6.1 12.2 8.5 8.1 5.2 8.2 4.7 12.1 6.3 8.2 3.8 12.1 5 12.2 4.3 16.3 5 16.2 4.1 16.2 3.4 20.3 3.6 20.3 2.9 20.3 2.5 24.4 2.4"/>
<path d="M1529 330.3l8.1 -4.9 8.1 -5.8 8.2 -6.7 8.1 -7.9 8.1 -9.2 8.1 -10.5 8.1 -11.7 18.9 -29.3 4.9 -6.9 3.7 -4.6 4.8 -5.1 2.5 -2.1 1.8 -1.2 1.8 -1 2.2 -0.9 1.5 -0.4 2.4 -0.2 2.4 0.5 3.7 1.5 3.7 2.1 3.6 2.6 7.3 5.9 20.1 18.1 8.1 6.9 12.2 9.4 8.1 5.6 8.1 5 12.2 6.6 8.1 3.8 12.2 5 12.2 4.3 16.2 4.7 16.3 3.9 20.3 3.9 20.3 3.1 20.3 2.5 24.3 2.4 24.4 2"/>
<path d="M1529 329.3l8.1 -5.5 4.1 -3.1 8.1 -6.8 8.1 -7.8 8.1 -9 4.1 -5 8.1 -10.7 8.1 -11.7 17.8 -26.8 6 -8.3 4.9 -5.7 4.9 -4.7 3.6 -2.5 2.5 -1.3 2.4 -0.8 3.7 -0.5 3 0.5 4.3 1.6 4.8 2.6 4.9 3.1 8.5 6.3 22.1 17.8 8.1 6.2 12.2 8.7 8.1 5.2 8.2 4.9 12.1 6.5 8.2 3.8 12.1 5.2 12.2 4.5 16.3 5.2 16.2 4.3 16.2 3.6 20.3 3.8 20.3 3.1 20.3 2.6 24.4 2.5"/>
<path d="M1529 328.2l8.1 -5.1 8.1 -6 8.2 -7.1 8.1 -8.1 8.1 -9.5 8.1 -10.7 8.1 -12 17.6 -27.7 4.9 -7.1 3.6 -4.9 4.9 -5.4 2.4 -2.2 2.5 -1.9 2.4 -1.4 2.3 -0.9 1.4 -0.3 2.4 -0.2 1.2 0.1 2.5 0.7 3.6 1.8 3.7 2.3 4.8 3.6 7.3 6.3 17.8 16.7 12.2 11 12.2 9.9 8.1 5.9 8.1 5.4 12.2 7.2 8.1 4.2 12.2 5.5 12.2 4.8 8.1 2.9 8.1 2.5 16.2 4.5 20.3 4.6 20.3 3.7 20.3 3 20.3 2.5 24.4 2.4"/>
<path d="M1529 327.1l8.1 -5.7 4.1 -3.1 8.1 -7.1 8.1 -8.2 8.1 -9.3 4.1 -5.2 8.1 -11.1 24.3 -36.5 4.1 -5.6 4.4 -5.3 4.9 -4.7 3.7 -2.7 2.4 -1.3 2.4 -0.8 3.7 -0.5 3.6 0.7 3.7 1.5 4.9 2.6 4.8 3.3 8.6 6.5 17.9 14.8 12.2 9.6 12.2 8.8 8.1 5.3 8.1 4.9 12.2 6.6 8.1 3.8 12.2 5.2 12.2 4.5 16.2 5.1 16.2 4.3 20.3 4.4 20.3 3.5 20.3 3 20.3 2.5 24.4 2.4"/>
<path d="M1529 326l8.1 -5.6 8.1 -6.5 8.2 -7.5 8.1 -8.6 4 -4.6 8.2 -10.2 8.1 -11 18.5 -26.1 4.9 -6.3 5 -5.7 4.7 -4.3 2.4 -1.9 2.5 -1.4 2.4 -1.2 2.4 -0.8 3.7 -0.4 3.7 0.7 3.6 1.4 4.9 2.6 4.8 3.2 8.6 6.3 21.3 17.2 8.1 6.3 12.2 8.8 8.1 5.2 8.1 4.9 12.2 6.6 12.2 5.7 12.1 4.9 12.2 4.3 16.3 4.9 16.2 4.1 16.2 3.5 20.3 3.6 20.3 3 20.3 2.5 24.4 2.5"/>
<path d="M1529 325l8.1 -6 8.1 -7 8.2 -8 8.1 -9.2 4 -5 8.2 -11 25.3 -38.1 4.9 -6.5 3.7 -4.3 4.8 -4.8 3.7 -2.6 2.4 -1.3 2.5 -0.9 3.6 -0.5 1.8 0.3 1.9 0.5 3.6 1.5 3.7 2.1 4.8 3.2 8.6 6.5 18 15.1 8.2 6.5 12.1 9 8.2 5.4 8.1 5 12.2 6.6 12.1 5.7 12.2 4.9 12.2 4.2 16.2 4.8 16.3 3.9 20.3 4 20.3 3.3 20.3 2.7 24.3 2.6 24.4 2.2"/>
<path d="M1529 323.9l8.1 -6 8.1 -7 8.2 -8 8.1 -9.2 4 -5 8.2 -10.8 22.9 -33.4 4.9 -6.4 4.6 -5.4 4.1 -3.9 2.2 -1.8 2.4 -1.6 2.5 -1.2 2.4 -0.8 3.7 -0.5 2.4 0.5 3.7 1.6 3.6 2.3 3.7 2.7 7.3 6.2 18.9 17.7 8.1 7.2 12.2 9.7 8.1 5.8 8.1 5.1 12.2 6.8 8.1 3.9 12.2 5 12.2 4.3 8.1 2.5 8.1 2.3 16.3 3.9 20.3 3.9 20.3 3.1 24.3 2.9 24.4 2.3 28.4 2.2"/>
<path d="M1529 322.8l8.1 -5.5 8.1 -6.4 8.2 -7.4 8.1 -8.3 4 -4.6 8.2 -9.9 8.1 -10.9 17.8 -24.7 4.9 -6.1 4.9 -5.4 4.9 -4.5 2.4 -1.8 2.4 -1.4 2.4 -1.2 2.5 -0.7 3.6 -0.4 2.9 0.5 4.1 1.6 4 2.3 4.9 3.3 8.5 6.7 19.1 16.4 8.1 6.6 12.2 9.2 8.1 5.5 8.1 5 12.2 6.7 12.2 5.8 12.2 4.9 12.2 4.3 16.2 4.8 16.2 4 20.3 4.1 20.3 3.3 20.3 2.8 20.3 2.2 24.4 2.3"/>
<path d="M1529 321.8l8.1 -5.9 8.1 -6.9 8.2 -7.8 8.1 -9 4 -5 8.2 -10.7 23.8 -34.1 4.6 -5.9 3.9 -4.4 4.2 -4 4.3 -3 3.8 -1.8 2.3 -0.5 2.4 -0.3 2.5 0.5 3.6 1.5 3.7 2.1 4.9 3.4 7.3 6.1 22 20.1 8.2 6.9 12.1 9.6 8.2 5.7 8.1 5.2 12.2 6.9 8.1 4 12.2 5.3 12.1 4.5 16.3 5.1 16.2 4.2 20.3 4.3 20.3 3.5 20.3 2.8 24.4 2.7 28.4 2.5"/>
<path d="M1529 320.7l8.1 -5.5 8.1 -6.5 8.2 -7.4 8.1 -8.6 4 -4.7 8.2 -10.3 8.1 -11.2 16.6 -23.9 4.8 -6.4 4.9 -5.6 4.9 -4.5 3.6 -2.5 2.5 -1.2 2.4 -0.9 3.7 -0.4 2.4 0.4 3.7 1.7 3.3 2 4 3 8.1 7.1 16.3 15.6 8.1 7.6 12.2 10.3 8.1 6.1 8.1 5.5 12.2 7.3 12.2 6.1 12.2 5.2 12.1 4.5 8.2 2.6 8.1 2.3 16.2 4 20.3 4.1 20.3 3.2 20.3 2.7 24.4 2.5 28.4 2.4"/>
<path d="M1529 319.6l8.1 -6.1 8.1 -7.1 8.2 -8.2 4 -4.5 4.1 -4.8 8.1 -10.5 8.1 -11.4 15.8 -22.9 4.8 -6.4 4.9 -5.6 4.9 -4.6 3.6 -2.6 2.5 -1.2 2.4 -0.8 3.7 -0.5 2.4 0.4 3.7 1.5 4.1 2.2 4.4 2.9 7.3 5.7 20.8 17.7 8.1 6.5 12.2 8.9 8.1 5.3 8.1 4.8 12.2 6.4 12.2 5.4 12.2 4.6 12.1 4 16.3 4.4 16.2 3.7 20.3 3.7 20.3 3 20.3 2.4 24.4 2.4 28.4 2.2"/>
<path d="M1529 318.5l8.1 -5.9 8.1 -6.9 8.2 -8.1 4 -4.5 4.1 -4.9 8.1 -10.5 8.1 -11.5 14.1 -20.6 4.8 -6.5 4.9 -5.7 4.6 -4.3 3.9 -2.6 3.7 -1.5 3.7 -0.5 3.6 0.7 3.7 1.4 3.6 1.8 4.9 2.9 8.5 5.9 21.3 16.3 8.1 5.9 12.2 8.3 8.1 4.9 8.1 4.6 12.2 6.1 12.2 5.3 12.2 4.6 12.1 4 16.3 4.6 16.2 3.8 20.3 3.9 20.3 3.1 20.3 2.6 24.4 2.6 28.4 2.4"/>
<path d="M1529 317.5l8.1 -6.7 4.1 -3.7 8.1 -8.2 4.1 -4.5 4 -4.8 8.1 -10.2 22.7 -30.8 4.8 -6 3.7 -4 4.9 -4.5 4.5 -3.1 4.1 -1.8 2.3 -0.5 2.5 -0.2 2.4 0.4 3.7 1.4 3.6 2 4.9 3.3 7.3 5.7 18 15.4 12.1 9.9 12.2 8.9 8.1 5.3 8.2 4.7 12.1 6.3 12.2 5.4 12.2 4.6 12.2 3.9 16.2 4.4 16.3 3.7 20.3 3.7 20.3 2.9 24.3 2.9 24.4 2.3 28.4 2.1"/>
<path d="M1529 316.4l8.1 -6.7 8.1 -7.6 4.1 -4.3 8.1 -9.2 4.1 -5.1 8.1 -10.7 18.5 -25.6 4.9 -6.2 4.9 -5.5 4.8 -4.5 2.5 -1.8 2.4 -1.5 2.4 -1.1 2.5 -0.8 3.6 -0.4 2.5 0.5 3.6 1.5 3.7 2.3 3.6 2.6 7.3 6.2 18.1 16.8 8.1 7.2 12.2 9.9 8.1 5.9 8.1 5.3 12.2 6.9 12.2 5.9 12.1 5 8.2 2.9 8.1 2.6 16.2 4.5 16.3 3.7 20.3 3.7 20.3 3 24.3 2.9 24.4 2.2 28.4 2.1"/>
<path d="M1529 315.3l8.1 -6.1 8.1 -7.1 8.2 -8.1 4 -4.4 4.1 -4.7 8.1 -10.1 19.7 -26.1 4.7 -5.7 4 -4.3 4.6 -4.2 2.5 -1.8 2.4 -1.4 2.5 -1.2 2.4 -0.7 3.6 -0.5 2.5 0.5 3.9 1.4 4 2.2 4.3 2.8 7.9 6.1 20.3 17 8.1 6.5 12.2 8.9 8.1 5.3 8.2 4.8 12.1 6.5 12.2 5.5 12.2 4.7 8.1 2.8 8.1 2.5 16.3 4.3 16.2 3.6 20.3 3.7 20.3 3 20.3 2.4 24.4 2.4 28.4 2.2"/>
<path d="M1529 314.3l8.1 -6 8.1 -7.1 8.2 -8.1 4 -4.5 4.1 -4.8 8.1 -10.4 19.9 -27.2 3.7 -4.5 3.7 -4.1 4.8 -4.5 3.7 -2.5 2.4 -1.3 2.4 -0.8 3.7 -0.5 2.4 0.5 3.7 1.4 3.6 2 4.9 3.3 7.3 5.7 19.1 16.2 8.1 6.6 12.2 8.9 8.1 5.3 8.1 4.8 12.2 6.3 12.2 5.4 12.1 4.5 8.2 2.7 8.1 2.4 16.2 4.1 16.3 3.4 20.3 3.5 20.3 2.7 24.3 2.7 24.4 2.1 28.4 2"/>
<path d="M1529 313.2l8.1 -6.8 4.1 -3.7 4 -4 8.2 -8.7 4 -4.8 8.1 -10.1 21 -27.8 4.9 -5.9 3.6 -4 4.9 -4.5 2.4 -1.9 2.5 -1.5 2.4 -1.3 2.5 -0.9 2.4 -0.5 2.4 -0.2 3.7 0.7 3.6 1.5 3.7 1.9 4.9 3.1 8.2 6.1 20.3 16.3 8.1 6.2 12.2 8.6 8.1 5.2 8.2 4.7 12.1 6.3 12.2 5.4 12.2 4.7 8.1 2.7 8.1 2.5 16.3 4.4 16.2 3.6 20.3 3.7 20.3 3.1 20.3 2.4 24.4 2.5 28.4 2.3"/>
<path d="M1529 312.1l8.1 -6.2 4.1 -3.5 8.1 -7.7 4.1 -4.1 4 -4.5 8.1 -9.4 21.4 -26.7 4.9 -5.6 3.7 -3.7 4.8 -4.3 4.9 -3.2 2.4 -1.2 2.5 -0.9 2.4 -0.5 2.4 -0.2 3.4 0.6 4.1 1.4 4.7 2.3 4.9 2.8 8.5 5.6 18.4 13.2 12.2 8.4 12.2 7.7 8.1 4.6 8.1 4.3 12.2 5.7 12.2 5 12.2 4.4 12.1 3.8 16.3 4.3 16.2 3.6 20.3 3.7 20.3 3.1 20.3 2.5 24.4 2.5 28.4 2.3"/>
<path d="M1529 311.1l8.1 -6.4 4.1 -3.6 8.1 -7.9 4.1 -4.4 4 -4.7 8.1 -10.1 18.8 -24.9 4.9 -5.8 3.7 -3.9 4.8 -4.3 3.7 -2.5 2.4 -1.1 2.3 -0.8 3.8 -0.5 3.7 0.6 3.6 1.2 4.9 2.2 4.9 2.7 8.5 5.4 19.4 13.4 12.1 8.1 12.2 7.4 12.2 6.6 8.1 3.9 12.2 5.4 12.2 4.6 12.2 4.1 12.1 3.5 16.3 4 16.2 3.5 20.3 3.5 20.3 2.9 24.4 2.8 24.3 2.3 24.4 1.9"/>
<path d="M1529 341l8.1 -3.2 8.1 -3.8 8.2 -4.4 8.1 -5.4 8.1 -6.4 4.1 -3.8 4 -4 4.1 -4.5 4 -5 4.1 -5.4 4.1 -5.9 4 -6.6 4.1 -7.1 4 -7.6 8.2 -17.1 16.8 -38.7 3.5 -7.2 2.6 -5 3.7 -5.9 1.8 -2.5 1.8 -2 2.2 -2 1.5 -0.9 2.4 -0.8 1.2 -0.1 1.2 0.3 2.5 1.7 2.4 2.4 3.7 4.7 5.4 8.5 12.8 21.6 7.5 12.1 8.2 11.8 8.1 10.3 8.1 8.9 4.1 4 8.1 7.2 8.1 6.1 4.1 2.7 8.1 4.9 4 2.2 8.2 4 8.1 3.4 8.1 3.1 8.1 2.6 8.1 2.4 16.3 3.9 8.1 1.7 12.2 2.2 20.3 3 24.3 2.8 24.4 2.1"/>
<path d="M1529 351.9l8.1 -3.1 8.1 -3.6 8.2 -4.2 8.1 -5 8.1 -6 4.1 -3.4 4 -3.8 4.1 -4.1 4 -4.5 4.1 -4.9 4.1 -5.4 4 -5.9 4.1 -6.4 4 -6.9 8.2 -15.5 8.1 -17.2 12.2 -26.8 4 -8.1 3.7 -6.5 3.6 -5.5 3.7 -4.1 2.4 -1.8 1.2 -0.7 1.7 -0.6 2 -0.3 2 0.8 1.6 1.2 2.5 2.5 3.6 4.7 4.5 6.7 12.6 20.6 7.7 11.9 8.1 11.2 8.1 9.7 8.2 8.3 8.1 7.1 8.1 6 4.1 2.7 8.1 4.7 4 2.1 8.2 3.8 12.1 4.8 8.2 2.6 8.1 2.4 16.2 3.8 8.1 1.7 12.2 2.1 20.3 2.8 24.4 2.6 28.4 2.3"/>
<path d="M1529 346.2l12.2 -4.5 8.1 -3.7 8.1 -4.3 8.1 -5.3 8.2 -6.2 4 -3.6 4.1 -4 4 -4.4 4.1 -4.8 4.1 -5.3 4 -5.9 4.1 -6.5 4 -7.1 4.1 -7.8 4.1 -8.6 4 -9.2 4.1 -10 4 -10.6 14.9 -40.6 3.6 -9.2 3.7 -8.1 3.6 -6.6 2.5 -3.5 1.2 -1.4 1.2 -1.1 1.8 -1.3 1.8 -0.7 1.3 -0.1 1.2 0.4 2.4 2.1 2.5 3.2 3 4.8 5.5 10.4 12.2 25.5 6.7 13.2 8.1 14.6 4 6.5 4.1 6.1 4.1 5.7 4 5.2 4.1 4.8 4 4.4 8.2 7.9 4 3.5 8.1 6.2 4.1 2.7 8.1 5 4.1 2.2 8.1 4 8.1 3.5 8.1 3 8.2 2.7 8.1 2.4 8.1 2.1 12.2 2.8 20.3 3.7 24.3 3.4 24.4 2.6"/>
<path d="M1529 359.2l12.2 -4.1 8.1 -3.3 8.1 -3.9 4.1 -2.3 8.1 -5.1 8.1 -6.1 4.1 -3.5 4 -3.8 4.1 -4.3 4.1 -4.7 4 -5.2 4.1 -5.6 4 -6.3 4.1 -6.9 4.1 -7.6 4 -8.2 4.1 -8.9 8.1 -19.9 16.2 -43.3 3.3 -7.9 3.6 -7.9 3.7 -6.5 1.6 -2.3 2.1 -2.4 2 -1.7 1.6 -0.9 1.2 -0.3 1.2 -0.2 1.3 0.4 1.2 0.8 1.6 1.6 3.2 4 2.5 3.8 4.9 8.5 12.1 23.1 5.7 10.3 8.1 13.5 4.1 6 4.1 5.7 4 5.2 4.1 4.9 8.1 8.6 8.1 7.3 4.1 3.2 8.1 5.8 4.1 2.6 8.1 4.6 4 2 8.2 3.7 8.1 3.3 8.1 2.8 8.1 2.5 8.1 2.2 16.3 3.7 20.3 3.6 24.3 3.3 24.4 2.5"/>
<path d="M1529 347.9l12.2 -3.5 12.2 -4.3 8.1 -3.5 4 -2 8.2 -4.6 8.1 -5.6 4 -3.2 4.1 -3.6 4.1 -3.9 4 -4.3 4.1 -4.8 4 -5.3 4.1 -5.9 4.1 -6.5 4 -7.2 4.1 -7.9 4 -8.7 4.1 -9.5 4.1 -10.3 4 -11 15 -42.9 3.7 -9.5 3.7 -8.3 3.6 -6.6 2.4 -3.3 2.5 -2.2 1.2 -0.7 1.2 -0.4 1.2 -0.2 1.2 0.5 0.9 0.6 1.6 1.7 2.4 3.5 2.5 4.2 5.6 11.6 11.4 25.4 4.9 10.5 8.1 15.9 4.1 7.2 4 6.6 4.1 6.1 4 5.7 4.1 5.2 4.1 4.7 4 4.4 4.1 4 4 3.7 8.2 6.6 4 2.9 8.1 5.2 4.1 2.3 8.1 4.1 12.2 5.2 8.1 2.9 8.1 2.6 8.2 2.3 8.1 2 8.1 1.8 12.2 2.4 12.2 2 12.1 1.7 24.4 2.8"/>
<path d="M1529 356.1l8.1 -1.8 8.1 -2 12.2 -3.7 8.1 -3 4.1 -1.8 8.1 -4 8.1 -4.8 4.1 -2.8 4.1 -3.2 4 -3.4 4.1 -3.9 4 -4.2 4.1 -4.8 4.1 -5.3 4 -6 4.1 -6.6 4 -7.3 4.1 -8.2 4.1 -9 4 -9.9 4.1 -10.6 17.4 -49.9 2.9 -7.2 3.2 -7.2 3.7 -6.4 2.4 -2.9 2.5 -1.8 1.2 -0.5 1.2 -0.2 1.2 0.5 0.8 0.7 1.6 1.7 3.7 5.6 4.9 9.4 10.9 23.7 6.1 12.4 5.3 9.8 4.1 6.8 4 6.3 4.1 5.8 4 5.2 4.1 4.8 4.1 4.3 4 4 4.1 3.6 4 3.3 8.2 5.7 4 2.5 8.1 4.4 4.1 2 8.1 3.5 12.2 4.3 8.1 2.4 8.1 2.1 16.3 3.5 20.3 3.3 24.3 2.9 24.4 2.2"/>
<path d="M1529 365.2l8.1 -1.8 8.1 -2.1 12.2 -3.8 8.1 -3 4.1 -1.8 8.1 -4 4.1 -2.2 8.1 -5.3 4.1 -3 4 -3.4 4.1 -3.7 4 -4.1 4.1 -4.6 4.1 -5.1 4 -5.7 4.1 -6.3 4 -7.1 4.1 -7.8 4.1 -8.8 4 -9.7 4.1 -10.8 4 -11.8 4.1 -12.7 5.1 -17.2 9.7 -34.8 3.7 -12.3 3.6 -11.2 2.3 -6 2.6 -5.9 1.4 -2.7 2.3 -3.2 1.2 -1.3 1.2 -0.9 1.2 -0.6 1.2 -0.2 1.2 0.7 1.3 1.2 1.2 1.8 2.4 4.4 2.5 5.4 3.6 9.2 11 30.1 6.1 15.9 4.2 10.2 4.1 9 4 8.2 4.1 7.6 4.1 6.9 4 6.2 4.1 5.7 4 5.2 4.1 4.8 4.1 4.3 4 4 4.1 3.6 8.1 6.3 4.1 2.8 8.1 5 4 2.2 8.2 3.9 8.1 3.4 8.1 3 8.1 2.6 8.1 2.2 8.2 2 12.1 2.6 20.3 3.5 24.4 3.2"/>
<path d="M1529 360.5l16.2 -2.8 8.2 -1.7 8.1 -2 12.2 -3.7 8.1 -3 4 -1.8 8.2 -4.1 4 -2.3 4.1 -2.6 4 -3 4.1 -3.2 4.1 -3.6 4 -4.1 4.1 -4.5 4 -5.1 4.1 -5.8 4.1 -6.5 4 -7.3 4.1 -8.2 4 -9.1 4.1 -10.3 4.1 -11.3 4 -12.4 4.5 -14.7 10.9 -37.6 4.9 -14.7 3.7 -8.8 2.4 -4.5 2 -2.6 1.7 -1.4 1.2 -0.6 1.2 -0.2 1.2 0.7 1.2 1.3 1.3 1.7 1.2 2.1 2.4 5 3.7 8.8 10.9 29.1 6.1 15.2 4.5 10.1 4 8.4 4.1 7.7 4.1 6.9 4 6.3 4.1 5.7 4 5.1 4.1 4.7 4.1 4.2 4 3.8 4.1 3.5 8.1 6 4.1 2.7 8.1 4.6 4 2 8.2 3.6 8.1 3.1 8.1 2.7 8.1 2.3 8.1 2.1 8.2 1.7 12.1 2.3 20.3 3.1 24.4 2.7"/>
<path d="M1529 358.5l16.2 -3 8.2 -1.8 8.1 -2.2 8.1 -2.5 8.1 -2.9 8.1 -3.5 4.1 -2 8.1 -4.6 4.1 -2.7 4 -2.9 4.1 -3.3 4.1 -3.6 4 -4 4.1 -4.4 4 -5 4.1 -5.5 4.1 -6.2 4 -6.9 4.1 -7.6 4 -8.6 4.1 -9.4 4.1 -10.4 4 -11.4 7.1 -22 12.2 -40 5.1 -14.6 3.4 -8.2 2.5 -4.5 1.2 -1.8 2.4 -2.8 1.2 -0.8 1.3 -0.6 1.2 -0.1 1.2 0.7 1.8 2.3 1.8 3.2 2.3 4.8 3.8 9.8 9.8 27.1 6.1 15.8 4.6 11 4.1 8.6 4.1 7.8 4 7.1 4.1 6.3 4 5.8 4.1 5.1 4.1 4.6 4 4.2 4.1 3.8 4 3.4 4.1 3.1 4.1 2.8 8.1 4.9 4 2.2 8.2 3.8 8.1 3.2 8.1 2.7 8.1 2.4 8.1 2.1 8.2 1.8 12.1 2.3 20.3 3 24.4 2.7"/>
<path d="M1529 370.8l12.2 -1.8 8.1 -1.4 8.1 -1.7 8.1 -1.9 8.2 -2.2 8.1 -2.6 8.1 -3.2 4.1 -1.7 8.1 -4.2 4 -2.4 8.2 -5.6 4 -3.2 4.1 -3.7 4 -4.1 4.1 -4.5 4.1 -5.2 4 -5.8 4.1 -6.5 4 -7.4 4.1 -8.4 4.1 -9.5 4 -10.6 4.1 -12.1 4 -13.4 4.1 -14.8 5.5 -22.1 12.2 -52.3 2.6 -10.2 2.2 -7.8 2.5 -7.3 1.2 -3 2.2 -4.6 1.4 -2.1 1.3 -1.3 1.2 -0.7 1.2 -0.3 1.2 0.8 1.8 2.5 1.9 3.5 2.4 5.8 3.9 10.9 10.7 33.5 5.5 16.1 4.1 10.9 4 10.1 4.1 9.2 4 8.3 4.1 7.5 4.1 6.8 4 6.2 4.1 5.6 4 5 4.1 4.6 4.1 4.2 4 3.7 4.1 3.5 8.1 6 4.1 2.7 8.1 4.7 8.1 3.9 8.1 3.5 8.1 2.9 8.2 2.6 8.1 2.3 8.1 1.9 8.1 1.8 12.2 2.3 20.3 3"/>
<path d="M1529 370l12.2 -1.7 8.1 -1.4 12.2 -2.5 8.1 -2 8.1 -2.3 8.1 -2.8 8.2 -3.3 4 -1.9 8.1 -4.4 4.1 -2.5 4.1 -2.9 4 -3.1 4.1 -3.5 4 -3.9 4.1 -4.3 4.1 -4.9 4 -5.5 4.1 -6.2 4 -7.1 4.1 -7.9 4.1 -9.1 4 -10.2 4.1 -11.5 4 -13 4.1 -14.5 4.1 -16 5.6 -24.6 10.6 -48.4 2.8 -11.9 2.5 -9.1 2.8 -8.9 2.1 -5.1 1.2 -2.4 1.2 -1.9 1.2 -1.3 1.2 -0.8 1.2 -0.3 1.3 0.9 1.2 1.9 1.2 2.5 1.2 2.9 2.4 7.1 3.7 12.3 9.3 34.2 5.3 18.1 3.7 11.6 3.2 9.5 4.1 10.9 4 9.8 4.1 8.8 4.1 8 4 7.1 4.1 6.3 4 5.8 4.1 5.1 4.1 4.7 4 4.2 4.1 3.8 8.1 6.7 4.1 2.9 8.1 5.1 4 2.2 8.2 4 8.1 3.4 8.1 2.9 8.1 2.5 8.1 2.3 8.2 1.9 12.1 2.5 12.2 2.2 12.2 1.8"/>
<path d="M1529 366.9l12.2 -1.8 8.1 -1.4 12.2 -2.4 8.1 -2 8.1 -2.3 8.1 -2.8 8.2 -3.2 4 -1.9 8.1 -4.3 4.1 -2.5 4.1 -2.7 4 -3.1 4.1 -3.3 4 -3.8 4.1 -4.2 4.1 -4.7 4 -5.3 4.1 -6 4 -6.7 4.1 -7.6 4.1 -8.6 4 -9.8 4.1 -10.9 4 -12.3 4.1 -13.8 4.1 -15.3 6.5 -27.2 12.1 -54.8 2.5 -9.9 2.4 -8.9 2.4 -7.6 1.3 -3.2 2.4 -5.1 1.2 -1.8 1.2 -1.3 1.3 -0.8 1.2 -0.3 1.2 0.9 0.8 1.1 1.6 3.1 1.2 2.9 2.5 6.9 3.6 12 11 39.8 4.9 16.7 3.6 11.5 4.1 11.9 4 10.7 4.1 9.8 4.1 8.8 4 8 4.1 7.1 4 6.5 4.1 5.9 4.1 5.3 4 4.8 4.1 4.4 4 3.9 8.2 7 4 3 8.1 5.4 4.1 2.3 8.1 4.2 8.1 3.7 8.2 3.1 8.1 2.7 8.1 2.4 8.1 2.1 12.2 2.8 20.3 3.6"/>
<path d="M1529 370.8l12.2 -1.8 8.1 -1.4 12.2 -2.4 8.1 -2 8.1 -2.3 8.1 -2.7 8.2 -3.3 8.1 -3.8 8.1 -4.7 4.1 -2.7 4 -3 4.1 -3.4 4 -3.7 4.1 -4.1 4.1 -4.7 4 -5.2 4.1 -5.9 4 -6.6 4.1 -7.5 4.1 -8.4 4 -9.6 4.1 -10.8 4 -12.1 4.1 -13.6 4.1 -15.1 4 -16.6 4.7 -20.5 9.7 -44.8 3.7 -15.3 2.2 -8.4 1.4 -4.7 2.5 -6.9 2.4 -5.2 1.2 -1.9 1.2 -1.3 1.3 -0.8 1.2 -0.3 1 0.7 1.4 2.3 1.2 2.6 2.5 6.7 3.6 12.3 11 41.5 4.9 17.3 3.8 12.5 4.1 12 4 10.8 4.1 9.7 4.1 8.7 4 7.7 4.1 7 4 6.2 4.1 5.6 4.1 5.1 4 4.5 4.1 4.1 4 3.7 8.2 6.5 4 2.8 8.1 5 4.1 2.1 8.1 3.9 8.1 3.3 8.2 2.8 8.1 2.5 8.1 2.1 8.1 1.9 12.2 2.4 20.3 3.3"/>
<path d="M1529 370.8l20.3 -2.9 12.2 -2.2 8.1 -1.8 8.1 -2.1 8.1 -2.4 8.2 -2.9 8.1 -3.5 8.1 -4.3 4.1 -2.4 4 -2.8 4.1 -3 4 -3.4 4.1 -3.8 4.1 -4.2 4 -4.8 4.1 -5.4 4 -6.1 4.1 -6.9 4.1 -7.9 4 -8.9 4.1 -10.1 4 -11.5 4.1 -13 4.1 -14.6 4 -16.2 5.7 -25.2 11 -51.9 4.8 -20.2 2.9 -9.4 2 -5.4 1.2 -2.5 1.2 -2 1.3 -1.4 1.2 -0.9 1.2 -0.3 1.2 1.1 1.2 2.2 1.7 4.1 2 6.3 3.6 13.6 9.8 39.9 4.9 18.4 4.8 16.5 3.3 9.9 4 11.2 4.1 9.9 4.1 8.8 4 7.8 4.1 6.9 4 6.2 4.1 5.5 4.1 5 4 4.4 4.1 4 4 3.5 8.2 6.2 4 2.7 8.1 4.7 4.1 2.1 8.1 3.6 8.1 3.1 8.2 2.6 8.1 2.3 8.1 2 8.1 1.8 12.2 2.2 20.3 3"/>
<path d="M1529 363.8l20.3 -2.8 12.2 -2.2 8.1 -1.8 8.1 -2.1 8.1 -2.5 8.2 -2.9 8.1 -3.5 8.1 -4.2 4.1 -2.4 4 -2.7 4.1 -3 4 -3.4 4.1 -3.7 4.1 -4.2 4 -4.7 4.1 -5.2 4 -6 4.1 -6.7 4.1 -7.6 4 -8.6 4.1 -9.8 4 -11.1 4.1 -12.4 4.1 -13.9 4 -15.5 5.5 -23 12.2 -55 2.6 -10.8 2.3 -8.3 2.4 -7.7 1.2 -3.3 2.2 -4.8 1.5 -2.3 1.2 -1.3 1.2 -0.8 1.2 -0.3 1.2 0.9 1.9 2.9 1.8 4.1 2.2 6.2 3.9 12.5 9.7 34.7 6.1 20.4 4.7 14.1 4 11.2 4.1 10.1 4.1 9.2 4 8.2 4.1 7.5 4 6.7 4.1 6 4.1 5.4 4 4.9 4.1 4.5 4 4.1 4.1 3.6 8.1 6.5 4.1 2.8 8.1 5 4.1 2.2 8.1 3.9 12.2 4.8 8.1 2.7 8.1 2.4 8.1 2.1 12.2 2.7 20.3 3.6"/>
<path d="M1529 364.2l12.2 -1.8 8.1 -1.4 8.1 -1.6 8.1 -1.8 8.2 -2.2 8.1 -2.6 8.1 -3.1 4.1 -1.7 8.1 -4.1 4 -2.3 8.2 -5.5 4 -3.2 4.1 -3.6 4 -4 4.1 -4.4 4.1 -5.1 4 -5.6 4.1 -6.4 4 -7.1 4.1 -8.1 4.1 -9.1 4 -10.2 4.1 -11.4 4 -12.6 4.1 -13.9 4.5 -16.4 10.9 -42.3 4.9 -16.7 3.7 -10 2.4 -5 2 -3 1.6 -1.6 1.3 -0.6 1.2 -0.3 1.2 0.8 1.2 1.5 1.2 2.1 1.3 2.4 2.4 5.8 3.6 10.3 9.8 29.8 6.1 17.7 5.7 14.7 4 9.4 4.1 8.6 4 7.7 4.1 7 4.1 6.2 4 5.7 4.1 5.1 4 4.6 4.1 4.2 4.1 3.8 4 3.4 4.1 3.1 8.1 5.5 4.1 2.4 8.1 4.2 8.1 3.6 8.1 3.1 8.1 2.7 8.2 2.3 16.2 3.8 8.1 1.6 12.2 2.1 20.3 2.7"/>
<path d="M1529 350.7l16.2 -3.2 12.2 -3.1 12.2 -4.1 8.1 -3.3 4.1 -1.9 8.1 -4.5 8.1 -5.5 4.1 -3.2 4 -3.6 4.1 -3.9 4.1 -4.5 4 -4.9 4.1 -5.5 4 -6.2 4.1 -6.9 4.1 -7.6 4 -8.5 4.1 -9.2 4 -10.1 17.5 -47.4 2.8 -6.9 3.3 -6.9 3.6 -6.1 2.5 -2.8 2.4 -1.8 1.2 -0.4 1.2 -0.2 1.3 0.4 0.8 0.6 1.6 1.5 2.4 2.9 2.5 3.7 4.8 8.5 11 21 6.1 11.2 8.1 13.5 4.1 6 4 5.6 4.1 5.1 4.1 4.7 4 4.3 4.1 4 8.1 7 8.1 5.8 4.1 2.6 8.1 4.6 4.1 2.1 8.1 3.6 12.2 4.6 8.1 2.6 8.1 2.2 16.2 3.7 20.3 3.6 20.3 2.7 24.4 2.5"/>
<path d="M1529 348l12.2 -3.7 8.1 -3 8.1 -3.6 8.1 -4.2 8.2 -5.1 8.1 -6.1 4 -3.5 4.1 -3.8 4.1 -4.3 4 -4.6 4.1 -5.1 4 -5.6 4.1 -6.1 4.1 -6.7 4 -7.2 8.1 -16.1 17.9 -39 3.7 -7.3 3.6 -6.3 3.7 -5.2 2.4 -2.7 1.2 -1.1 2.5 -1.6 1.2 -0.5 2.4 -0.4 2 0.8 1.7 1.3 2.4 2.5 2.4 3.1 5.7 8.5 11.4 18.8 4.9 7.6 8.1 11.7 4 5.3 4.1 4.9 4.1 4.5 4 4.1 8.1 7.3 8.2 6.2 4 2.7 8.1 4.8 4.1 2.1 8.1 3.8 12.2 4.8 8.1 2.6 8.1 2.3 16.3 3.8 8.1 1.5 12.2 2.1 20.3 2.7 24.3 2.5 24.4 1.9"/>
<path d="M1529 358.8l16.2 -2.4 16.3 -3.1 8.1 -2 8.1 -2.4 8.1 -2.8 4.1 -1.6 8.1 -3.7 4.1 -2.1 8.1 -4.9 4.1 -2.9 4 -3.2 4.1 -3.6 4 -4 4.1 -4.4 4.1 -5 4 -5.7 4.1 -6.3 4 -7 4.1 -8 4.1 -8.8 4 -9.8 4.1 -10.8 4 -11.7 14.2 -44.9 3.7 -10.7 2.4 -6.4 3.7 -8 2.4 -4.1 2.1 -2.4 1.6 -1.2 1.2 -0.5 1.2 -0.2 1.2 0.6 1.3 1.1 1.2 1.5 3.6 6.2 4.9 10.5 9.7 23.2 6.1 13.7 4.5 9.2 4.1 7.6 4 7.1 4.1 6.3 4 5.8 4.1 5.3 4.1 4.8 4 4.3 4.1 3.9 4 3.6 4.1 3.3 8.1 5.6 4.1 2.5 8.1 4.4 4.1 1.9 8.1 3.5 8.1 2.9 8.1 2.5 8.1 2.3 8.2 1.9 16.2 3.2 20.3 3.1 20.3 2.3"/>
<path d="M1529 370.2l16.2 -1.7 12.2 -1.5 12.2 -1.7 12.2 -2.1 12.2 -2.6 8.1 -2.1 8.1 -2.4 8.1 -2.8 8.1 -3.2 8.2 -3.9 8.1 -4.5 4 -2.7 8.2 -6 4 -3.5 4.1 -3.9 4 -4.2 4.1 -4.8 4.1 -5.2 4 -5.9 4.1 -6.5 4 -7.3 4.1 -8.2 4.1 -9 4 -10.1 4.1 -11.3 4 -12.4 4.1 -13.6 4.1 -14.8 4 -15.8 13.2 -53.9 3.1 -11.4 3 -10.1 3.7 -9.9 2.4 -4.9 1.2 -1.9 1.8 -2.1 1.9 -1.2 1.2 -0.2 1.2 0.8 1.2 1.6 1.2 2.1 2.5 5.4 2.4 6.5 3.7 11.2 14.6 47.9 6.7 19.6 4 10.6 4.1 9.8 4.1 9 4 8.1 4.1 7.4 4 6.7 4.1 6.2 4.1 5.5 4 5.1 4.1 4.6 4 4.3 8.2 7.4 8.1 6.3 8.1 5.3 4.1 2.4 8.1 4.2 12.2 5.3 8.1 3 8.1 2.7"/>
</g>
<g stroke="#5F9AEB" stroke-width="2.7" stroke-linecap="butt" stroke-linejoin="round" clip-path="url(#clipCR)">
<path d="M1518.8 348.8l12.2 -3.2 8.2 -2.6 8.1 -3.1 8.1 -3.6 8.1 -4.2 8.1 -5 8.2 -5.8 4 -3.3 8.1 -7.3 4.1 -4 4 -4.3 8.2 -9.6 4 -5.2 8.2 -11.2 19.4 -28.4 4.8 -6.4 3.7 -4.3 4.5 -4.6 4.1 -3.2 4.1 -2.1 1.9 -0.6 2.4 -0.5 3.7 0.2 4.1 1.1 4.4 2 4.9 2.9 4.9 3.6 6.1 5 20.3 18.3 8.1 6.9 12.2 9.5 8.2 5.6 12.1 7.3 8.1 4.3 12.2 5.4 12.2 4.6 12.2 3.9 12.2 3.3 16.2 3.6 16.2 2.9 16.3 2.4 20.3 2.4 18.5 1.8"/>
<path d="M1518.8 352.6l12.2 -3.7 8.2 -2.9 8.1 -3.3 8.1 -3.8 8.1 -4.5 8.1 -5.1 8.2 -6 4 -3.3 8.1 -7.5 4.1 -4.1 8.1 -9.2 4.1 -5 4 -5.3 8.2 -11.5 19.5 -29.2 4.8 -6.5 3.8 -4.6 4.3 -4.5 4.2 -3.3 4 -2.2 2.1 -0.7 2.4 -0.4 3.6 0.1 4 1.1 4.6 2.1 4.9 2.9 4.9 3.6 5.9 4.9 20.3 18.4 8.1 7 12.2 9.5 8.2 5.6 12.1 7.4 8.1 4.2 12.2 5.6 12.2 4.6 12.2 3.9 12.2 3.2 16.2 3.6 16.2 3 16.3 2.4 20.3 2.4 18.5 1.8"/>
<path d="M1518.8 351.6l12.2 -3.2 8.2 -2.7 8.1 -3.2 8.1 -3.7 8.1 -4.3 8.1 -5.1 8.2 -6 4 -3.3 8.1 -7.5 4.1 -4.2 4 -4.4 8.2 -9.9 4 -5.3 8.2 -11.5 19.3 -29.3 4.9 -6.6 3.7 -4.5 4.5 -4.7 4.1 -3.3 4.1 -2.2 1.9 -0.7 2.4 -0.4 3.7 0.2 4.1 1.1 4.4 2 4.9 3 4.8 3.6 6.1 5.1 20.4 18.5 8.1 7 12.2 9.6 8.2 5.6 12.1 7.4 8.1 4.3 12.2 5.5 12.2 4.6 12.2 3.9 12.2 3.2 16.2 3.6 16.2 3 16.3 2.4 20.3 2.4 18.5 1.8"/>
<path d="M1518.8 350.9l12.2 -3.9 8.2 -3 8.1 -3.5 8.1 -3.9 8.1 -4.4 8.1 -5.1 8.2 -6 4 -3.3 8.1 -7.3 4.1 -4.1 8.1 -9.1 4.1 -4.9 4 -5.2 8.2 -11.3 19.5 -28.7 4.8 -6.5 3.7 -4.4 4.4 -4.5 4.1 -3.3 4.1 -2.2 2 -0.6 2.4 -0.5 3.7 0.2 3.6 1 4.5 2 4.1 2.4 4.8 3.5 4.9 3.9 26.8 24.2 8.1 6.8 8.1 6.3 8.2 5.7 4 2.6 8.1 4.8 8.1 4.2 12.2 5.6 12.2 4.6 12.2 3.9 12.2 3.3 16.2 3.6 16.2 2.9 16.3 2.4 20.3 2.4 18.5 1.8"/>
<path d="M1518.8 352.4l12.2 -4 8.2 -3 8.1 -3.5 8.1 -3.9 8.1 -4.5 8.1 -5.2 8.2 -6 4 -3.3 8.1 -7.4 4.1 -4.2 8.1 -9.1 4.1 -5 4 -5.3 8.2 -11.5 19.6 -29.3 4.7 -6.5 3.8 -4.6 4.3 -4.5 4.2 -3.4 4 -2.2 2.1 -0.7 2.4 -0.4 3.6 0.1 3.8 1 4.3 2 4.2 2.5 4.9 3.5 4.8 4 26.7 24.3 8.1 6.8 8.1 6.3 8.2 5.7 4 2.7 8.1 4.8 8.1 4.3 12.2 5.5 12.2 4.7 12.2 3.9 12.2 3.3 16.2 3.6 16.2 2.9 16.3 2.5 20.3 2.4 18.5 1.8"/>
<path d="M1518.8 348.6l12.2 -3 8.2 -2.6 8.1 -3 8.1 -3.6 8.1 -4.2 8.1 -4.9 8.2 -5.8 4 -3.3 8.1 -7.3 4.1 -4.1 8.1 -9 4.1 -5 4 -5.2 8.2 -11.4 20.2 -30.2 4.3 -5.8 3.7 -4.4 4.2 -4.5 4.3 -3.4 3.9 -2.2 2.2 -0.8 2.4 -0.4 3.5 0.2 3.8 1 4.3 1.9 4.3 2.5 4.8 3.6 4.9 4 26.6 24.3 8.1 7 8.1 6.3 8.2 5.7 4 2.7 8.1 4.8 8.1 4.3 12.2 5.6 12.2 4.7 12.2 3.9 12.2 3.3 16.2 3.6 16.2 2.9 16.3 2.4 20.3 2.5 18.5 1.8"/>
<path d="M1518.8 352.9l12.2 -3.7 8.2 -2.9 8.1 -3.4 8.1 -3.9 8.1 -4.5 8.1 -5.2 8.2 -6 4 -3.4 8.1 -7.5 4.1 -4.2 8.1 -9.2 4.1 -5.1 4 -5.4 8.2 -11.7 19.5 -29.8 4.8 -6.7 3.8 -4.7 4.3 -4.6 4.2 -3.4 4 -2.3 2.1 -0.7 2.4 -0.5 3.6 0.2 3.7 1 4.4 2 4.2 2.5 4.8 3.6 4.9 4 26.7 24.6 8.1 6.9 8.1 6.3 8.2 5.8 4 2.6 8.1 4.8 8.1 4.3 12.2 5.6 12.2 4.7 12.2 3.9 12.2 3.3 16.2 3.6 16.2 2.9 16.3 2.4 20.3 2.5 18.5 1.7"/>
<path d="M1518.8 349.8l12.2 -2.9 8.2 -2.5 8.1 -3 8.1 -3.6 8.1 -4.2 8.1 -5 8.2 -5.9 4 -3.3 8.1 -7.4 4.1 -4.1 8.1 -9.2 4.1 -5.1 4 -5.4 8.2 -11.6 20.2 -30.9 4.2 -5.8 3.7 -4.6 4.3 -4.6 4.2 -3.5 4 -2.2 2.1 -0.8 2.4 -0.4 3.6 0.1 3.7 1.1 4.4 1.9 4.2 2.6 4.8 3.6 4.9 4 26.7 24.7 8.1 7 8.1 6.3 8.2 5.8 4 2.6 8.1 4.9 8.1 4.3 12.2 5.6 12.2 4.7 12.2 3.9 12.2 3.3 16.2 3.6 16.2 3 16.3 2.4 20.3 2.4 18.5 1.8"/>
<path d="M1518.8 349.7l12.2 -3.1 8.2 -2.6 8.1 -3 8.1 -3.6 8.1 -4.3 8.1 -5.1 8.2 -5.9 4 -3.3 8.1 -7.5 4.1 -4.2 8.1 -9.2 4.1 -5.1 4 -5.4 8.2 -11.7 19.2 -29.4 4.9 -6.8 3.6 -4.5 4.7 -5 4.1 -3.3 2.2 -1.4 1.9 -0.8 1.7 -0.6 2.5 -0.5 3.6 0.2 3.7 1 4.7 2.2 4 2.5 4.7 3.5 6.1 5.1 21.7 20.4 8.1 7.2 12.2 9.8 8.2 5.7 4 2.6 8.1 4.9 8.1 4.3 12.2 5.5 12.2 4.7 12.2 3.9 12.2 3.3 16.2 3.6 16.2 2.9 16.3 2.4 20.3 2.4 18.5 1.8"/>
<path d="M1518.8 349.1l12.2 -3 8.2 -2.5 8.1 -3 8.1 -3.6 8.1 -4.2 8.1 -5.1 8.2 -5.8 4 -3.3 8.1 -7.5 4.1 -4.1 8.1 -9.2 4.1 -5.1 4 -5.4 8.2 -11.6 20.2 -31 4 -5.5 3.7 -4.6 4.5 -4.8 4.1 -3.4 2.4 -1.4 1.7 -0.8 1.9 -0.7 2.4 -0.5 3.7 0.2 3.7 1.1 4.5 2.1 4 2.5 4.9 3.6 6 5.2 21.6 20.3 8.1 7.3 12.2 9.8 8.2 5.8 4 2.6 8.1 4.9 8.1 4.3 12.2 5.6 12.2 4.7 12.2 3.9 12.2 3.3 16.2 3.6 16.2 2.9 16.3 2.4 20.3 2.4 18.5 1.8"/>
<path d="M1518.8 347.8l12.2 -3 8.2 -2.5 8.1 -3.1 8.1 -3.5 8.1 -4.3 8.1 -4.9 8.2 -5.9 4 -3.3 8.1 -7.3 4.1 -4.1 8.1 -9.2 4.1 -5 4 -5.4 8.2 -11.5 20.2 -30.7 3.9 -5.4 3.7 -4.5 4.6 -4.9 4.1 -3.3 2.3 -1.4 1.8 -0.8 1.8 -0.7 2.4 -0.4 3.7 0.2 3.7 1 4.6 2.2 4 2.5 4.7 3.6 6.1 5.2 21.7 20.5 8.1 7.3 8.2 6.7 4 3.2 8.2 5.8 4 2.6 8.1 4.9 8.1 4.3 12.2 5.6 12.2 4.7 12.2 3.9 12.2 3.3 16.2 3.6 16.2 2.9 16.3 2.4 20.3 2.4 18.5 1.8"/>
<path d="M1518.8 346.8l12.2 -2.7 8.2 -2.3 8.1 -2.8 8.1 -3.5 8.1 -4.1 8.1 -4.8 8.2 -5.8 4 -3.2 8.1 -7.3 4.1 -4.1 8.1 -9.1 4.1 -5.1 4 -5.3 8.2 -11.5 20.2 -30.9 4.3 -5.8 3.9 -4.9 4 -4.3 4.2 -3.5 4 -2.3 2.1 -0.7 2.5 -0.5 3.5 0.2 3.8 1 4.3 2.1 4.2 2.6 4.9 3.7 6.1 5.2 21.3 20.4 8.1 7.3 8.2 6.8 4 3.2 8.2 5.8 4 2.7 8.1 4.9 8.1 4.3 12.2 5.7 12.2 4.7 12.2 3.9 12.2 3.3 16.2 3.6 16.2 3 16.3 2.4 20.3 2.4 18.5 1.8"/>
<path d="M1518.8 347.4l12.2 -2.9 8.2 -2.5 8.1 -3 8.1 -3.5 8.1 -4.2 8.1 -5 8.2 -5.8 4 -3.2 8.1 -7.4 4.1 -4.1 8.1 -9.1 4.1 -5.1 4 -5.3 8.2 -11.6 20.2 -30.9 4.1 -5.6 4.1 -5.1 4 -4.3 4.1 -3.4 4.1 -2.3 2 -0.7 2.4 -0.4 1.2 -0.1 2.5 0.2 3.6 1.1 4.5 2.1 4.1 2.6 4.8 3.7 6.1 5.3 21.5 20.6 8.1 7.4 8.2 6.8 4 3.1 8.2 5.9 8.1 5.2 8.1 4.6 12.2 6 12.2 5 12.1 4.1 12.2 3.5 16.3 3.9 16.2 3.1 16.2 2.5 20.3 2.5 22.6 2.3"/>
<path d="M1518.8 351.1l12.2 -3.9 8.2 -3 8.1 -3.4 8.1 -3.8 8.1 -4.5 8.1 -5.2 8.2 -6.1 4 -3.3 8.1 -7.6 4.1 -4.1 8.1 -9.3 4.1 -5.2 4 -5.4 8.2 -11.7 20.2 -31.2 3.9 -5.4 3.7 -4.7 4.6 -5 4.1 -3.3 2.3 -1.5 1.8 -0.8 1.8 -0.7 2.5 -0.4 1.2 -0.1 2.4 0.3 3.7 1 4.6 2.3 4 2.6 4.8 3.6 6 5.3 25.8 24.7 8.1 7.1 8.1 6.5 8.2 5.8 8.1 5.2 8.1 4.7 12.2 6 12.2 4.9 12.1 4.2 12.2 3.5 16.3 3.8 16.2 3.1 16.2 2.5 20.3 2.6 22.6 2.2"/>
<path d="M1518.8 351.2l12.2 -3.8 8.2 -3 8.1 -3.3 8.1 -3.9 8.1 -4.4 8.1 -5.2 8.2 -6 4 -3.3 8.1 -7.5 4.1 -4.2 8.1 -9.2 4.1 -5.1 4 -5.4 8.2 -11.7 20.2 -31.4 4.4 -6.1 3.8 -4.8 4 -4.4 4.4 -3.8 3.8 -2.2 2.3 -0.8 2.4 -0.5 3.4 0.2 3.9 1.1 4.2 2 4.3 2.7 4.9 3.8 6.1 5.4 21.2 20.6 8.1 7.4 8.2 6.9 4 3.2 8.2 5.9 8.1 5.2 8.1 4.7 12.2 6.1 12.2 5 12.1 4.2 12.2 3.5 16.3 3.9 16.2 3.1 16.2 2.5 20.3 2.6 22.6 2.2"/>
<path d="M1518.8 348.7l12.2 -2.6 8.2 -2.3 8.1 -2.9 8.1 -3.5 8.1 -4.2 8.1 -4.9 8.2 -5.9 4 -3.4 8.1 -7.5 4.1 -4.2 8.1 -9.4 4.1 -5.2 4 -5.6 8.2 -11.9 20.2 -31.9 4.1 -5.8 4.1 -5.3 4 -4.4 4.1 -3.5 2.3 -1.4 1.8 -0.9 1.8 -0.7 2.5 -0.4 1.2 -0.1 2.4 0.3 3.7 1 4.6 2.3 4 2.6 4.8 3.7 6 5.4 25.8 24.9 8.1 7.2 8.1 6.5 8.2 5.9 8.1 5.3 8.1 4.6 12.2 6 12.2 5 12.1 4.2 12.2 3.5 16.3 3.8 16.2 3.1 16.2 2.6 20.3 2.5 22.6 2.2"/>
<path d="M1518.8 351l12.2 -3.1 8.2 -2.6 8.1 -3.1 8.1 -3.7 8.1 -4.4 8.1 -5.1 8.2 -6.1 4 -3.4 8.1 -7.6 4.1 -4.3 8.1 -9.5 4.1 -5.3 4 -5.6 8.2 -12 20.2 -32.2 4.1 -5.9 4.1 -5.2 4.2 -4.6 3.9 -3.4 2.2 -1.4 1.9 -0.9 1.7 -0.6 2.5 -0.5 1.2 -0.1 2.4 0.3 3.7 1.1 4.7 2.3 4 2.7 4.7 3.6 6.1 5.4 17.7 17.5 8.1 7.7 8.1 7.2 8.1 6.5 8.2 5.9 8.1 5.3 8.1 4.7 12.2 6 12.2 5 12.1 4.2 12.2 3.5 16.3 3.8 16.2 3.1 16.2 2.5 20.3 2.5 22.6 2.3"/>
<path d="M1518.8 349.5l12.2 -3.4 8.2 -2.7 8.1 -3.2 8.1 -3.8 8.1 -4.4 8.1 -5.1 8.2 -6 4 -3.3 8.1 -7.6 4.1 -4.2 8.1 -9.4 4.1 -5.2 4 -5.5 8.2 -11.8 20.2 -31.8 4.1 -5.7 4.1 -5.2 4.1 -4.4 4 -3.4 2.1 -1.3 2 -0.9 1.6 -0.6 2.5 -0.5 1.2 0 2.4 0.2 3.7 1.1 3.6 1.7 4.9 3.2 4.9 3.8 6 5.5 17.9 17.6 8.1 7.8 8.1 7.2 8.1 6.6 8.2 5.9 8.1 5.2 8.1 4.7 12.2 6 12.2 5 12.1 4.2 12.2 3.5 16.3 3.8 16.2 3.1 16.2 2.5 20.3 2.6 22.6 2.2"/>
<path d="M1518.8 352.1l12.2 -3.9 8.2 -3.1 12.1 -5.3 8.1 -4.2 8.2 -4.8 8.1 -5.7 8.1 -6.5 4.1 -3.6 8.1 -8.2 4 -4.5 4.1 -4.9 8.1 -10.7 8.2 -11.8 19.7 -31.2 4.6 -6.7 3.9 -5.1 4.2 -4.8 4.3 -3.7 3.9 -2.3 2.2 -0.9 2.4 -0.4 3.5 0.1 3.9 1.1 4.2 2.1 4.3 2.8 4.9 3.9 6 5.5 25.4 25 8.1 7.3 8.1 6.6 8.2 6 8.1 5.3 8.1 4.8 12.2 6.1 12.2 5 12.1 4.2 12.2 3.6 16.3 3.8 16.2 3.2 16.2 2.5 20.3 2.6 22.6 2.2"/>
<path d="M1518.8 350.2l12.2 -3 8.2 -2.6 8.1 -3 8.1 -3.7 8.1 -4.3 8.1 -5.2 8.2 -6 4 -3.4 8.1 -7.6 4.1 -4.3 8.1 -9.6 4.1 -5.3 4 -5.6 8.2 -12.1 20.2 -32.5 4.1 -5.9 4.1 -5.3 4.1 -4.5 4 -3.5 2.1 -1.3 2 -1 1.6 -0.6 2.5 -0.5 1.2 -0.1 2.4 0.3 3.7 1.1 3.6 1.7 4.9 3.2 4.9 3.9 6.1 5.5 17.8 17.8 8.1 7.9 8.1 7.2 8.1 6.6 8.2 6 8.1 5.3 8.1 4.7 12.2 6 12.2 5 12.1 4.2 12.2 3.5 16.3 3.9 16.2 3.1 16.2 2.5 20.3 2.5 22.6 2.2"/>
<path d="M1518.8 351.1l12.2 -3.7 8.2 -2.9 8.1 -3.3 8.1 -3.9 8.1 -4.5 8.1 -5.2 8.2 -6.1 4 -3.4 8.1 -7.7 4.1 -4.2 8.1 -9.5 4.1 -5.3 4 -5.6 8.2 -12 20.2 -32.3 4.1 -5.8 4.1 -5.3 4.1 -4.6 4 -3.4 2.1 -1.3 2 -1 1.7 -0.6 2.4 -0.5 1.2 0 2.4 0.2 3.7 1.1 3.7 1.8 4.8 3.2 4.9 3.9 6.1 5.6 17.8 17.9 8.1 7.8 8.1 7.3 8.1 6.7 8.2 5.9 8.1 5.3 8.1 4.7 12.2 6.1 12.2 5 12.1 4.2 12.2 3.5 16.3 3.9 16.2 3.1 16.2 2.5 20.3 2.5 22.6 2.2"/>
<path d="M1518.8 351.2l12.2 -3.3 8.2 -2.7 8.1 -3.1 8.1 -3.8 8.1 -4.4 8.1 -5.1 8.2 -6 4 -3.4 8.1 -7.7 4.1 -4.3 8.1 -9.5 4.1 -5.3 4 -5.6 8.2 -12.1 20.8 -33.5 3.6 -5.4 4 -5.3 4 -4.6 4.2 -3.7 4 -2.4 2.1 -0.9 2.4 -0.4 1.2 -0.1 2.4 0.3 3.7 1.1 4.4 2.2 4 2.7 5 4 4.9 4.5 18.6 18.7 8.1 7.9 8.1 7.4 8.1 6.7 8.2 6 8.1 5.3 8.1 4.8 12.2 6.1 12.2 5.1 12.1 4.2 12.2 3.5 16.3 3.9 16.2 3.1 16.2 2.5 20.3 2.6 22.6 2.2"/>
<path d="M1518.8 346.9l12.2 -2.6 8.2 -2.4 8.1 -2.9 8.1 -3.5 8.1 -4.1 8.1 -5 8.2 -5.9 4 -3.3 8.1 -7.5 4.1 -4.2 8.1 -9.3 4.1 -5.2 4 -5.6 8.2 -11.9 20.5 -32.8 3.8 -5.4 4.1 -5.3 4 -4.6 4.1 -3.5 2.3 -1.5 1.8 -0.9 1.9 -0.7 2.4 -0.5 1.2 -0.1 2.4 0.3 3.7 1.1 3.7 1.8 4.8 3.2 4.9 4 4.9 4.5 18.8 19 8.1 8 8.1 7.3 8.1 6.8 8.2 6 8.1 5.3 8.1 4.8 12.2 6.1 12.2 5 12.1 4.2 12.2 3.6 16.3 3.8 16.2 3.1 16.2 2.6 20.3 2.5 22.6 2.2"/>
<path d="M1518.8 346.2l12.2 -2.6 8.2 -2.2 8.1 -2.9 8.1 -3.4 8.1 -4.2 8.1 -4.9 8.2 -5.9 4 -3.3 8.1 -7.5 4.1 -4.2 8.1 -9.4 4.1 -5.2 4 -5.5 8.2 -12 20.4 -32.6 3.9 -5.6 4.1 -5.3 4.2 -4.7 3.9 -3.4 2.2 -1.4 1.9 -0.9 1.7 -0.7 2.5 -0.5 1.2 0 2.4 0.2 3.7 1.2 3.6 1.8 4.9 3.2 4.3 3.5 5.5 5 18.9 19.2 8.1 8 8.1 7.4 8.1 6.7 8.2 6 8.1 5.4 8.1 4.7 12.2 6.1 12.2 5.1 12.1 4.2 12.2 3.5 16.3 3.9 16.2 3.1 16.2 2.5 20.3 2.5 22.6 2.3"/>
<path d="M1518.8 347.8l12.2 -2.6 8.2 -2.3 8.1 -2.9 8.1 -3.5 8.1 -4.2 8.1 -5 8.2 -6 4 -3.4 8.1 -7.6 4.1 -4.2 8.1 -9.6 4.1 -5.3 4 -5.6 8.2 -12.2 20.3 -32.9 4 -5.9 4.1 -5.4 4.1 -4.7 4 -3.4 2.1 -1.4 2 -1 1.7 -0.6 2.4 -0.5 1.2 -0.1 2.4 0.3 3.7 1.1 3.7 1.8 4.8 3.3 4.4 3.6 5.4 5 19 19.4 8.1 8 8.1 7.4 8.1 6.8 8.2 6 8.1 5.4 8.1 4.7 12.2 6.1 12.2 5.1 12.1 4.2 12.2 3.5 16.3 3.9 16.2 3.1 16.2 2.5 20.3 2.6 22.6 2.2"/>
<path d="M1518.8 349l12.2 -3.2 8.2 -2.7 8.1 -3.2 8.1 -3.7 8.1 -4.3 8.1 -5.2 8.2 -6 4 -3.3 8.1 -7.7 4.1 -4.2 8.1 -9.5 4.1 -5.3 4 -5.6 8.2 -12.1 20.5 -33 3.8 -5.7 4.1 -5.3 4.2 -4.8 3.9 -3.4 2.2 -1.5 1.9 -0.9 1.8 -0.7 2.4 -0.5 1.2 -0.1 2.5 0.3 3.6 1.2 3.7 1.8 4.9 3.3 4.2 3.5 5.5 5.1 18.9 19.4 8.1 8 8.1 7.5 8.1 6.7 8.2 6.1 8.1 5.4 8.1 4.7 12.2 6.2 12.2 5 12.1 4.3 12.2 3.5 16.3 3.9 16.2 3.1 16.2 2.5 20.3 2.5 22.6 2.3"/>
<path d="M1518.8 352.5l12.2 -3.7 8.2 -3 12.1 -5.2 8.1 -4.2 8.2 -4.9 8.1 -5.6 8.1 -6.7 4.1 -3.7 8.1 -8.3 4 -4.6 4.1 -5 8.1 -10.9 8.2 -12.3 20.2 -33.3 4.4 -6.5 3.8 -5.2 4 -4.7 4.4 -4.1 3.8 -2.3 2.3 -1 2.4 -0.5 3.4 0.2 3.9 1.2 4.2 2.1 4 2.8 5.2 4.3 4.9 4.6 18.4 19 8.1 8.1 8.1 7.5 8.1 6.9 8.2 6.1 8.1 5.4 8.1 4.8 12.2 6.2 12.2 5.1 12.1 4.3 12.2 3.6 16.3 3.9 16.2 3.1 16.2 2.5 20.3 2.6 22.6 2.2"/>
<path d="M1518.8 350.4l12.2 -2.9 8.2 -2.5 8.1 -3 8.1 -3.7 8.1 -4.3 8.1 -5.1 8.2 -6.1 4 -3.4 8.1 -7.8 4.1 -4.3 8.1 -9.7 4.1 -5.4 4 -5.7 8.2 -12.4 20.5 -34.1 3.8 -5.7 4.1 -5.6 4 -4.8 4.1 -3.7 2.3 -1.6 1.8 -0.9 1.9 -0.7 2.4 -0.5 1.2 -0.1 2.4 0.3 3.7 1.1 3.7 1.9 4.8 3.3 4.9 4.1 4.9 4.6 18.8 19.6 8.1 8.1 8.1 7.5 4.1 3.5 8.1 6.5 4.1 2.9 8.1 5.5 8.1 4.8 12.2 6.1 12.2 5.1 12.1 4.3 12.2 3.5 16.3 3.9 16.2 3.1 16.2 2.5 20.3 2.6 22.6 2.2"/>
<path d="M1518.8 351.4l12.2 -3.9 8.2 -3 12.1 -5.3 8.1 -4.2 8.2 -4.9 8.1 -5.7 8.1 -6.6 4.1 -3.7 8.1 -8.3 4 -4.6 4.1 -5 8.1 -10.9 8.2 -12.3 20.2 -33.1 4.1 -6.1 4.1 -5.5 4 -4.7 4.1 -3.7 2.4 -1.7 1.7 -0.8 2 -0.8 2.4 -0.5 1.2 -0.1 2.4 0.3 3.7 1.2 4.5 2.4 4 2.8 4.9 4.1 4.9 4.7 18.7 19.5 8.1 8.2 8.1 7.5 4.1 3.6 8.1 6.5 4.1 2.9 8.1 5.5 8.1 4.8 12.2 6.2 12.2 5.1 12.1 4.3 12.2 3.5 16.3 3.9 16.2 3.1 16.2 2.6 20.3 2.5 22.6 2.3"/>
<path d="M1518.8 350.8l12.2 -3.3 8.2 -2.7 8.1 -3.3 8.1 -3.7 8.1 -4.5 8.1 -5.2 8.2 -6.1 8.1 -7.2 8.1 -8.4 4 -4.7 4.1 -5.1 8.1 -11.1 8.2 -12.4 20.2 -33.6 4.1 -6.2 4.1 -5.5 4.1 -4.9 4 -3.5 2.1 -1.5 2 -1 1.7 -0.7 2.4 -0.5 1.2 0 2.5 0.3 3.6 1.1 3.7 1.9 4.9 3.4 4.3 3.6 5.4 5.2 19 19.9 8.1 8.1 8.1 7.6 4.1 3.5 8.1 6.5 4.1 3 8.1 5.4 8.1 4.8 12.2 6.1 12.2 5.1 12.1 4.3 12.2 3.5 16.3 3.9 16.2 3.1 16.2 2.5 20.3 2.6 22.6 2.2"/>
<path d="M1518.8 349.5l12.2 -3.2 8.2 -2.7 8.1 -3.1 8.1 -3.7 8.1 -4.3 8.1 -5.1 8.2 -6 8.1 -7.1 8.1 -8.2 4 -4.6 4.1 -5 8.1 -10.9 8.2 -12.3 21 -34.5 3.6 -5.5 3.8 -5.2 4 -4.8 4.4 -4.1 3.8 -2.4 2.3 -0.9 2.4 -0.5 1.2 -0.1 2.2 0.2 3.9 1.3 4.2 2.2 4 2.8 5.2 4.4 4.9 4.7 18.4 19.5 8.1 8.2 8.1 7.7 8.1 6.9 8.2 6.2 8.1 5.5 8.1 4.9 12.2 6.2 12.2 5.2 12.1 4.2 12.2 3.6 16.3 3.9 16.2 3.2 16.2 2.5 20.3 2.6 22.6 2.2"/>
<path d="M1518.8 349.7l12.2 -2.8 8.2 -2.5 8.1 -2.9 8.1 -3.6 8.1 -4.3 8.1 -5.1 8.2 -6.1 8.1 -7.1 8.1 -8.3 4 -4.7 4.1 -5 8.1 -11.1 8.2 -12.5 20.8 -34.8 3.6 -5.7 4 -5.5 4 -4.8 4.2 -4 2.4 -1.7 1.6 -0.8 2.1 -0.9 2.4 -0.5 1.3 -0.1 2.3 0.3 3.7 1.2 4.4 2.4 4 2.9 5 4.2 4.9 4.8 18.6 19.7 8.1 8.3 8.1 7.6 4.1 3.6 8.1 6.6 4.1 3 8.1 5.5 8.1 4.9 12.2 6.2 12.2 5.1 12.1 4.3 12.2 3.6 16.3 3.9 16.2 3.2 16.2 2.5 20.3 2.6 22.6 2.2"/>
<path d="M1518.8 350.2l12.2 -3.6 8.2 -2.9 12.1 -5.1 8.1 -4.2 8.2 -4.8 8.1 -5.6 8.1 -6.6 4.1 -3.7 8.1 -8.3 4 -4.6 4.1 -5 8.1 -10.9 8.2 -12.3 20.8 -34.4 3.7 -5.6 3.9 -5.4 4 -4.8 4.3 -3.9 3.9 -2.5 2.1 -0.9 2.5 -0.5 1.2 0 2.3 0.2 4 1.4 4.7 2.6 4.8 3.6 4.9 4.4 4.9 4.9 17.3 18.5 8.1 8.3 8.1 7.7 4.1 3.6 8.1 6.6 8.1 5.8 8.1 5.2 8.1 4.6 8.2 4 12.2 5.2 12.1 4.3 12.2 3.6 16.3 3.9 16.2 3.1 16.2 2.6 20.3 2.5 22.6 2.3"/>
<path d="M1518.8 349.6l12.2 -3.3 8.2 -2.8 8.1 -3.2 8.1 -3.8 8.1 -4.4 8.1 -5.3 8.2 -6.1 8.1 -7.2 8.1 -8.4 4 -4.7 4.1 -5 8.1 -11.1 8.2 -12.5 20.2 -33.8 4.1 -6.2 4.1 -5.6 4 -4.7 4.1 -3.7 2 -1.3 2.1 -1.1 1.6 -0.6 2.4 -0.5 1.2 -0.1 2.4 0.3 2.5 0.7 2 0.9 4.1 2.3 4.8 3.7 3.7 3.2 4.9 4.8 19.1 20.5 8.1 8.3 8.1 7.6 4.1 3.6 8.1 6.6 8.1 5.8 8.1 5.1 8.1 4.6 8.2 4 12.2 5.1 12.1 4.2 12.2 3.6 16.3 3.9 16.2 3.1 16.2 2.5 20.3 2.6 22.6 2.2"/>
<path d="M1518.8 349.7l12.2 -3.6 8.2 -2.9 12.1 -5.1 8.1 -4.2 8.2 -4.8 8.1 -5.6 8.1 -6.6 4.1 -3.7 8.1 -8.3 4 -4.6 4.1 -5 8.1 -11.1 8.2 -12.3 20.6 -34.3 3.7 -5.6 4.1 -5.6 4 -4.8 4.1 -3.8 2.4 -1.7 1.7 -0.9 1.9 -0.8 2.5 -0.5 1.2 0 2.4 0.2 4.1 1.4 4.5 2.6 4.8 3.7 3.7 3.2 4.9 4.8 18.7 20.2 8.1 8.3 8.1 7.8 4.1 3.5 8.1 6.7 8.1 5.8 8.1 5.2 8.1 4.6 8.2 4 12.2 5.2 12.1 4.3 12.2 3.5 16.3 3.9 16.2 3.2 16.2 2.5 20.3 2.6 22.6 2.2"/>
<path d="M1518.8 351.5l12.2 -4 8.2 -3.1 12.1 -5.4 8.1 -4.2 8.2 -5 8.1 -5.7 8.1 -6.7 4.1 -3.8 8.1 -8.4 4 -4.7 4.1 -5 8.1 -11.2 8.2 -12.5 20.5 -34.3 3.8 -5.9 4.1 -5.7 4.3 -5 3.8 -3.6 2.3 -1.5 1.8 -1 1.8 -0.7 2.4 -0.5 1.3 -0.1 2.4 0.3 2.4 0.7 1.8 0.8 4.3 2.4 4.9 3.8 3.6 3.2 4.9 4.9 18.9 20.3 8.1 8.4 8.1 7.8 4.1 3.6 8.1 6.6 8.1 5.8 8.1 5.2 8.1 4.6 8.2 4 12.2 5.2 12.1 4.3 12.2 3.5 16.3 3.9 16.2 3.2 16.2 2.5 20.3 2.6 22.6 2.2"/>
<path d="M1518.8 348.9l12.2 -3.3 8.2 -2.6 8.1 -3.2 8.1 -3.8 8.1 -4.4 8.1 -5.2 8.2 -6.1 8.1 -7.1 8.1 -8.4 4 -4.7 4.1 -5.1 8.1 -11.1 8.2 -12.5 20.3 -34.2 4 -6.2 4.1 -5.6 4.1 -4.9 4 -3.6 2.1 -1.5 2 -1.1 1.6 -0.6 2.5 -0.5 1.2 -0.1 2.4 0.3 2.5 0.7 1.9 0.9 4.2 2.4 4.8 3.7 3.7 3.4 4.9 4.8 19 20.7 8.1 8.4 8.1 7.8 4.1 3.6 8.1 6.6 8.1 5.9 8.1 5.1 8.1 4.6 8.2 4 12.2 5.2 12.1 4.3 12.2 3.5 16.3 3.9 16.2 3.2 16.2 2.5 20.3 2.5 22.6 2.3"/>
<path d="M1518.8 352.5l12.2 -3.6 8.2 -2.9 8.1 -3.4 4 -1.8 8.1 -4.3 8.2 -4.9 8.1 -5.7 8.1 -6.7 4.1 -3.8 8.1 -8.5 4 -4.7 4.1 -5.2 8.1 -11.3 8.2 -12.7 20.8 -35.7 4.9 -7.5 3.7 -5.1 2.4 -3 2.4 -2.6 3.7 -3.2 3.6 -2.1 2.5 -0.8 1.2 -0.2 1.2 0 2.3 0.2 4 1.4 4.7 2.7 4.8 3.7 3.7 3.4 4.9 4.9 18.5 20.2 8.1 8.5 8.1 7.8 4.1 3.7 8.1 6.7 8.1 5.9 8.1 5.3 8.1 4.6 8.2 4.1 12.2 5.2 12.1 4.3 12.2 3.6 16.3 3.9 16.2 3.2 16.2 2.5 20.3 2.6 22.6 2.2"/>
<path d="M1518.8 350.6l12.2 -3 8.2 -2.6 8.1 -3.1 8.1 -3.7 8.1 -4.4 8.1 -5.3 8.2 -6.1 8.1 -7.3 8.1 -8.5 4 -4.8 4.1 -5.2 8.1 -11.4 8.2 -12.8 20.4 -35.2 3.9 -6.2 4.1 -5.9 4.2 -5.1 3.9 -3.7 2.2 -1.6 1.9 -1 1.7 -0.7 2.5 -0.5 1.2 -0.1 2.4 0.3 2.4 0.7 1.9 0.8 4.2 2.5 4.9 3.8 3.7 3.4 4.8 4.9 19 20.8 8.1 8.5 8.1 7.8 4.1 3.6 8.1 6.7 8.1 5.9 8.1 5.2 8.1 4.6 8.2 4.1 12.2 5.1 12.1 4.3 12.2 3.6 16.3 3.9 16.2 3.2 16.2 2.5 20.3 2.6 22.6 2.2"/>
<path d="M1518.8 351.3l12.2 -3.5 8.2 -2.8 8.1 -3.3 8.1 -3.8 8.1 -4.5 8.1 -5.3 8.2 -6.2 8.1 -7.2 8.1 -8.5 4 -4.8 4.1 -5.1 8.1 -11.3 8.2 -12.7 20.7 -35.6 4.9 -7.6 3.6 -5.1 2.5 -3 2.4 -2.6 3.7 -3.2 3.6 -2.1 2.4 -0.8 1.3 -0.2 1.2 -0.1 2.4 0.3 4 1.4 4.5 2.7 4.9 3.8 3.7 3.4 4.8 4.9 18.7 20.6 8.1 8.6 8.1 7.9 4.1 3.6 8.1 6.7 8.1 6 8.1 5.3 8.1 4.6 8.2 4.1 12.2 5.2 12.1 4.3 12.2 3.6 16.3 4 16.2 3.1 16.2 2.6 20.3 2.5 22.6 2.3"/>
<path d="M1518.8 349.5l12.2 -3 8.2 -2.6 8.1 -3.1 8.1 -3.7 8.1 -4.3 8.1 -5.2 8.2 -6 8.1 -7.2 8.1 -8.4 4 -4.7 4.1 -5.1 8.1 -11.2 4.1 -6.2 8.1 -13.2 16.9 -29.2 4.9 -7.6 3.7 -5.1 2.4 -3 2.4 -2.7 3.7 -3.2 3.6 -2.1 2.5 -0.8 1.2 -0.2 1.2 0 2.2 0.2 4 1.4 4.8 2.7 4.8 3.9 3.7 3.4 4.9 4.9 18.4 20.4 8.1 8.6 8.1 8 4.1 3.6 8.1 6.8 8.1 6 8.1 5.3 8.1 4.6 8.2 4.1 12.2 5.3 12.1 4.3 12.2 3.6 16.3 4 16.2 3.1 16.2 2.6 20.3 2.6 22.6 2.2"/>
<path d="M1518.8 353.5l12.2 -3.8 8.2 -3 8.1 -3.5 4 -1.9 8.1 -4.3 8.2 -5 8.1 -5.9 8.1 -6.8 4.1 -3.9 8.1 -8.6 4 -4.9 4.1 -5.2 8.1 -11.5 8.2 -13 20.5 -35.7 3.8 -6.2 4.1 -6 4.2 -5.2 3.9 -3.8 2.2 -1.6 1.9 -1.1 1.8 -0.7 2.4 -0.5 1.2 -0.1 2.5 0.3 2.4 0.7 1.8 0.8 4.3 2.6 4.9 3.9 3.6 3.4 4.9 5 18.9 21 8.1 8.6 8.1 7.9 4.1 3.7 8.1 6.7 8.1 6 8.1 5.2 8.1 4.7 8.2 4 12.2 5.2 12.1 4.3 12.2 3.6 16.3 4 16.2 3.1 16.2 2.5 20.3 2.6 22.6 2.2"/>
<path d="M1518.8 347.3l12.2 -2.5 8.2 -2.4 8.1 -2.8 8.1 -3.5 8.1 -4.2 8.1 -5.1 8.2 -6 8.1 -7.2 8.1 -8.4 4 -4.7 4.1 -5.1 8.1 -11.4 8.2 -12.7 20.5 -35.5 4.9 -7.6 3.7 -5.2 2.4 -3 2.4 -2.7 3.7 -3.2 3.6 -2.1 2.5 -0.8 1.2 -0.2 1.2 -0.1 2.4 0.3 2.5 0.8 1.7 0.8 4.4 2.6 4.8 3.9 3.7 3.4 4.9 5 18.8 21.1 8.1 8.7 8.1 7.9 4.1 3.7 8.1 6.8 8.1 6 8.1 5.3 8.1 4.6 8.2 4.1 12.2 5.2 12.1 4.4 12.2 3.6 16.3 3.9 16.2 3.1 16.2 2.6 20.3 2.6 22.6 2.2"/>
<path d="M1518.8 350.3l12.2 -3.6 8.2 -2.9 8.1 -3.4 4 -1.9 8.1 -4.2 8.2 -4.9 8.1 -5.7 8.1 -6.8 4.1 -3.8 8.1 -8.5 4 -4.8 4.1 -5.1 8.1 -11.4 8.2 -12.8 20.3 -35.1 4 -6.3 4.1 -5.8 4.1 -5.1 4 -3.8 2.1 -1.5 2 -1.1 1.6 -0.6 2.5 -0.6 1.2 0 2.4 0.3 2.5 0.7 1.9 0.9 4.2 2.5 4.8 3.9 3.7 3.5 4.9 5 19 21.4 8.1 8.7 8.1 7.9 4.1 3.7 8.1 6.8 8.1 6 8.1 5.2 8.1 4.7 8.2 4 12.2 5.3 12.1 4.3 12.2 3.6 16.3 3.9 16.2 3.1 16.2 2.6 20.3 2.5 22.6 2.2"/>
<path d="M1518.8 351.6l12.2 -3.6 8.2 -2.9 8.1 -3.3 4 -1.9 8.1 -4.2 8.2 -4.9 8.1 -5.8 8.1 -6.8 4.1 -3.8 8.1 -8.6 4 -4.8 8.2 -10.7 4 -5.9 8.2 -12.9 20.6 -36 4.9 -7.8 3.6 -5.2 2.4 -3.1 2.5 -2.7 3.6 -3.3 3.7 -2.1 2.4 -0.8 1.2 -0.2 1.3 -0.1 2.4 0.3 2.4 0.8 1.7 0.7 4.4 2.7 4.9 3.9 3.7 3.5 4.8 5.1 18.8 21.2 8.1 8.7 8.1 8 4.1 3.7 8.1 6.8 8.1 6.1 8.1 5.3 8.1 4.7 8.2 4.1 12.2 5.2 12.1 4.4 12.2 3.6 16.3 3.9 16.2 3.2 16.2 2.5 20.3 2.6 22.6 2.2"/>
<path d="M1518.8 352.3l12.2 -3.8 8.2 -3 12.1 -5.4 8.1 -4.2 8.2 -5 8.1 -5.8 8.1 -6.8 4.1 -3.8 8.1 -8.6 4 -4.8 8.2 -10.8 4 -5.9 4.1 -6.3 8.1 -13.5 16.7 -29.4 4.9 -7.8 3.6 -5.2 2.4 -3.1 2.5 -2.7 3.6 -3.3 3.7 -2.2 2.4 -0.8 1.2 -0.2 1.3 -0.1 2.4 0.3 4 1.5 4.5 2.8 4.9 3.9 3.7 3.5 4.8 5.1 18.7 21.2 8.1 8.8 8.1 8 4.1 3.8 8.1 6.8 8.1 6.1 8.1 5.3 8.1 4.7 8.2 4.1 12.2 5.3 12.1 4.3 12.2 3.7 16.3 3.9 16.2 3.2 16.2 2.5 20.3 2.6 22.6 2.2"/>
<path d="M1518.8 349.1l12.2 -3.3 8.2 -2.6 8.1 -3.2 8.1 -3.8 8.1 -4.4 8.1 -5.2 8.2 -6.2 8.1 -7.2 8.1 -8.6 4 -4.8 4.1 -5.1 8.1 -11.4 8.2 -12.9 20.4 -35.7 4.9 -7.7 3.6 -5.2 2.5 -3.1 2.4 -2.7 3.7 -3.3 3.6 -2.2 2.5 -0.8 1.2 -0.2 1.2 0 2.4 0.3 2.5 0.8 1.8 0.8 4.3 2.6 4.8 4 3.7 3.5 4.9 5.1 18.9 21.6 8.1 8.7 8.1 8.1 8.1 7.2 8.2 6.4 8.1 5.7 8.1 5 4 2.3 8.2 4.1 12.2 5.2 12.1 4.3 12.2 3.7 16.3 3.9 16.2 3.1 16.2 2.6 20.3 2.5 22.6 2.3"/>
<path d="M1518.8 351.7l12.2 -4 8.2 -3.1 12.1 -5.4 8.1 -4.3 8.2 -5 8.1 -5.9 8.1 -6.8 4.1 -3.8 8.1 -8.7 4 -4.8 8.2 -10.7 4 -6 8.2 -12.9 20.4 -35.8 4.9 -7.8 3.6 -5.3 2.5 -3.1 2.4 -2.7 3.7 -3.2 3.6 -2.2 2.5 -0.8 1.2 -0.2 1.2 -0.1 2.4 0.3 2.5 0.8 1.8 0.8 4.3 2.7 4.8 4 3.7 3.5 4.9 5.2 18.9 21.6 8.1 8.8 8.1 8.1 8.1 7.3 8.2 6.4 8.1 5.7 8.1 5 4 2.2 8.2 4.2 12.2 5.2 12.1 4.3 12.2 3.7 16.3 3.9 16.2 3.2 16.2 2.5 20.3 2.6 22.6 2.2"/>
<path d="M1518.8 350.4l12.2 -3 8.2 -2.6 8.1 -3.2 8.1 -3.7 8.1 -4.5 8.1 -5.3 8.2 -6.2 8.1 -7.4 8.1 -8.7 4 -4.9 4.1 -5.3 8.1 -11.7 8.2 -13.1 20.2 -36.2 4.9 -7.9 3.7 -5.4 2.4 -3.1 2.4 -2.8 3.7 -3.3 3.6 -2.3 2.5 -0.8 1.2 -0.2 1.2 -0.1 2.4 0.4 3.7 1.3 3.7 2.1 3.6 2.7 4.9 4.5 4.9 5.1 20.3 23.3 8.1 8.8 8.1 8.1 4.1 3.7 8.1 6.9 8.1 6 8.1 5.4 4.1 2.4 8.1 4.3 12.2 5.6 12.2 4.7 12.1 3.8 16.3 4.2 16.2 3.3 20.3 3.3 20.3 2.5 22.6 2.2"/>
<path d="M1518.8 350.9l12.2 -3.2 8.2 -2.7 8.1 -3.2 8.1 -3.8 8.1 -4.5 8.1 -5.3 8.2 -6.2 8.1 -7.4 8.1 -8.7 4 -4.9 8.2 -10.9 4 -6 8.2 -13.1 21.7 -38.7 3.6 -5.9 3.7 -5.4 2.4 -3.2 2.5 -2.7 3.6 -3.4 3.7 -2.2 2.4 -0.9 1.2 -0.2 2.5 0.1 3.6 1 3.7 1.9 4.8 3.5 4.9 4.5 4.9 5.1 20.1 23.1 8.1 8.9 8.1 8.1 4.1 3.8 8.1 6.9 8.1 6.1 8.1 5.3 4.1 2.5 8.1 4.4 12.2 5.6 12.2 4.6 12.1 3.9 16.3 4.2 16.2 3.3 20.3 3.3 20.3 2.6 22.6 2.2"/>
</g>
<line x1="1529.00" y1="21.85" x2="1529.00" y2="382.95" stroke="#000" stroke-width="3.4" stroke-linecap="butt" />
<line x1="1524.20" y1="351.65" x2="1529.00" y2="351.65" stroke="#000" stroke-width="3.2" stroke-linecap="butt" />
<line x1="1520.20" y1="321.80" x2="1529.00" y2="321.80" stroke="#000" stroke-width="3.2" stroke-linecap="butt" />
<line x1="1524.20" y1="291.95" x2="1529.00" y2="291.95" stroke="#000" stroke-width="3.2" stroke-linecap="butt" />
<line x1="1520.20" y1="262.10" x2="1529.00" y2="262.10" stroke="#000" stroke-width="3.2" stroke-linecap="butt" />
<line x1="1524.20" y1="232.25" x2="1529.00" y2="232.25" stroke="#000" stroke-width="3.2" stroke-linecap="butt" />
<line x1="1520.20" y1="202.40" x2="1529.00" y2="202.40" stroke="#000" stroke-width="3.2" stroke-linecap="butt" />
<line x1="1524.20" y1="172.55" x2="1529.00" y2="172.55" stroke="#000" stroke-width="3.2" stroke-linecap="butt" />
<line x1="1520.20" y1="142.70" x2="1529.00" y2="142.70" stroke="#000" stroke-width="3.2" stroke-linecap="butt" />
<line x1="1524.20" y1="112.85" x2="1529.00" y2="112.85" stroke="#000" stroke-width="3.2" stroke-linecap="butt" />
<line x1="1520.20" y1="83.00" x2="1529.00" y2="83.00" stroke="#000" stroke-width="3.2" stroke-linecap="butt" />
<line x1="1524.20" y1="53.15" x2="1529.00" y2="53.15" stroke="#000" stroke-width="3.2" stroke-linecap="butt" />
<g stroke="#F47878" stroke-width="2.45" stroke-linecap="butt" stroke-linejoin="round" clip-path="url(#clipCL)">
<path d="M1163.1 321.1l7.9 -2.3 8.2 -2.6 12.2 -4.6 12.2 -5.5 8.1 -4.3 4 -2.4 8.2 -5.3 4 -2.9 8.2 -6.6 8.1 -7.7 4.1 -4.3 4 -4.7 4.1 -5.1 4.1 -5.6 4 -6 4.1 -6.6 4.1 -7.1 4 -7.8 4.1 -8.5 4.1 -9.2 4 -9.9 4.7 -12.4 6.1 -17.5 11 -33.2 3.6 -10.2 3.7 -8.6 1.2 -2.2 1.2 -1.8 1.3 -1 1.2 0.3 1.2 0.9 1.2 1.4 1.2 2 1.3 2.5 1.8 4.6 3 9.9 4.9 19.7 11 50 5.5 23.1 4 15.4 4.1 13.8 4.1 12.2 4 10.7 4.1 9.5 4.1 8.3 4 7.3 4.1 6.4 4.1 5.6 4 5 4.1 4.4 4.1 3.9 4 3.4 4.1 3.1 4.1 2.8 4 2.5 8.2 4.3 8.1 3.5 8.1 2.9 8.2 2.4 8.1 2 8.1 1.8 12.2 2.2 12.2 1.7 12.2 1.4 12.2 1.2 16.3 1.3"/>
<path d="M1163.1 316.1l16.1 -4.4 8.1 -2.6 8.1 -2.9 12.2 -5 12.2 -6.1 8.1 -4.8 4.1 -2.7 8.1 -5.9 8.2 -6.9 4 -3.8 8.2 -8.7 4 -4.9 4.1 -5.2 4.1 -5.8 4 -6.2 4.1 -6.8 4.1 -7.4 4 -8 4.1 -8.6 4.1 -9.3 5.2 -13.1 6.1 -16.4 11 -30.8 3.6 -9.4 3.7 -7.9 1.2 -2 1.2 -1.6 1.3 -0.9 1.2 0.3 1.2 1 1.2 1.6 1.2 2.2 2.5 6.2 2.4 8.1 2.5 9.6 2.4 10.7 9.8 46.1 4.8 21.3 2.5 9.9 4.1 14.8 4 13 4.1 11.3 4.1 9.8 4 8.6 4.1 7.3 4.1 6.5 4 5.5 4.1 4.9 4.1 4.3 4 3.7 4.1 3.3 4.1 2.9 4 2.6 4.1 2.3 8.1 4 8.2 3.1 8.1 2.6 8.1 2.2 8.1 1.8 8.2 1.5 12.2 1.9 20.3 2.4 28.5 2.2"/>
<path d="M1163.1 318.9l16.1 -3.9 8.1 -2.3 8.1 -2.6 8.2 -3 8.1 -3.3 8.1 -3.8 4.1 -2.1 8.1 -4.8 4.1 -2.6 8.1 -6 8.1 -6.9 4.1 -4 4.1 -4.3 4 -4.7 4.1 -5.1 4.1 -5.7 4 -6.1 4.1 -6.8 4.1 -7.4 4 -8.2 4.1 -8.9 4.1 -9.7 7 -18.8 5.2 -15.4 10.6 -33.3 3.7 -10.4 1.9 -4.7 1.8 -3.6 1.2 -1.9 1.2 -1 1.2 0.3 1.2 1 1.3 1.6 1.2 2.2 2.4 6 2.5 8 2.3 9.1 2.5 11.1 9.7 45.2 5 21.8 3.1 12.4 4.1 14.6 4 12.8 4.1 11.1 4.1 9.7 4 8.4 4.1 7.2 4.1 6.4 4 5.5 4.1 4.8 4.1 4.2 4 3.7 4.1 3.3 4.1 2.9 4 2.6 4.1 2.3 8.1 3.9 8.2 3.2 8.1 2.6 8.1 2.2 8.1 1.8 8.2 1.5 12.2 1.9 20.3 2.4 28.5 2.2"/>
<path d="M1163.1 315.9l16.1 -3.9 8.1 -2.4 8.1 -2.6 8.2 -2.9 8.1 -3.4 8.1 -3.9 4.1 -2.1 8.1 -4.8 4.1 -2.7 8.1 -6 8.1 -7.1 4.1 -4.1 4.1 -4.4 4 -4.8 4.1 -5.3 4.1 -5.8 4 -6.3 4.1 -7 4.1 -7.7 4 -8.4 4.1 -9.2 5.9 -15 4.9 -13.7 4.9 -14.8 8.7 -27.7 4.1 -12.1 1.8 -4.9 2.2 -4.8 1.5 -2.4 1.2 -1.1 1.2 0.4 1.2 1 1.3 1.8 1.2 2.3 2.4 6.6 2.2 7.7 4.1 17.4 9.6 46.9 4.9 22.4 5.8 23.3 4.1 13.9 4 12.1 4.1 10.4 4.1 9 4 7.7 4.1 6.7 4.1 5.8 4 5.1 4.1 4.4 4.1 3.8 4 3.4 4.1 3 4.1 2.6 4 2.4 8.2 3.9 8.1 3.2 8.1 2.7 8.2 2.1 8.1 1.8 8.1 1.5 12.2 1.9 12.2 1.5 12.2 1.2 28.5 2"/>
<path d="M1163.1 319.1l16.1 -4 8.1 -2.4 8.1 -2.7 8.2 -3 8.1 -3.5 12.2 -6 8.1 -4.7 4.1 -2.6 8.1 -5.9 8.1 -6.8 4.1 -3.9 4.1 -4.1 4 -4.5 4.1 -4.9 4.1 -5.3 4 -5.8 4.1 -6.3 4.1 -6.8 4 -7.5 4.1 -8.1 4.1 -8.9 4 -9.6 5.6 -14.3 6.1 -17.2 11 -32.5 3.7 -10.1 3.6 -8.4 1.2 -2.2 1.3 -1.8 1.2 -0.9 1.2 0.4 1.2 1.2 1.2 1.9 1.3 2.8 1.2 3.3 2.4 8.7 3.7 16.4 11 57.8 4.8 23.6 3.4 14.3 4 15.5 4.1 13.3 4.1 11.4 4 9.8 4.1 8.4 4.1 7.2 4 6.2 4.1 5.3 4.1 4.6 4 4.1 4.1 3.5 4.1 3.1 4 2.7 4.1 2.4 8.1 4 4.1 1.8 8.1 2.9 8.2 2.4 8.1 1.9 8.1 1.7 12.2 2 12.2 1.5 12.2 1.3 28.5 2.1"/>
<path d="M1163.1 316.5l7.9 -2.2 8.2 -2.5 12.2 -4.4 12.2 -5.2 8.1 -4 4 -2.3 8.2 -5 4 -2.8 8.2 -6.2 8.1 -7.2 4.1 -4.1 4 -4.4 4.1 -4.8 4.1 -5.2 4 -5.6 4.1 -6.2 4.1 -6.7 4 -7.4 4.1 -8 4.1 -8.7 4 -9.4 4.1 -10.2 4.1 -10.9 4.8 -14.1 11 -33 3.7 -10.3 3.6 -8.5 1.3 -2.3 1.2 -1.8 1.2 -0.9 1.2 0.3 1.2 0.9 1.3 1.6 1.2 2.1 2.4 5.9 2.5 7.9 2.4 9.3 2.4 10.4 9.8 45.4 6.1 26.3 3.6 14 4.1 14 4.1 12.2 4 10.8 4.1 9.3 4.1 8.1 4 7 4.1 6.2 4.1 5.3 4 4.7 4.1 4.2 4.1 3.6 4 3.3 4.1 2.8 4.1 2.6 8.1 4.3 8.1 3.5 8.2 2.9 8.1 2.4 8.1 2 8.1 1.7 12.2 2 12.2 1.7 12.2 1.3 16.3 1.4 16.3 1.1"/>
<path d="M1163.1 317.6l16.1 -3.7 8.1 -2.2 8.1 -2.5 8.2 -2.8 8.1 -3.1 12.2 -5.6 8.1 -4.4 4.1 -2.4 8.1 -5.5 8.1 -6.4 4.1 -3.5 8.1 -8.1 4.1 -4.6 4.1 -5 4 -5.5 4.1 -5.9 4.1 -6.5 4 -7.1 4.1 -7.8 4.1 -8.4 4 -9.2 4.8 -11.7 6.1 -16.2 11 -31.2 3.6 -9.6 3.7 -8.2 1.2 -2.1 1.2 -1.7 1.3 -0.9 1.2 0.3 1.2 1.2 1.3 2 2.4 5.6 2.4 8.1 2.4 10 2.5 11.4 8.5 43 4.9 22.9 5.4 22.1 4 14.2 4.1 12.3 4.1 10.6 4 9 4.1 7.8 4.1 6.6 4 5.7 4.1 5 4.1 4.3 4 3.7 4.1 3.3 4.1 2.9 4 2.5 4.1 2.2 8.1 3.8 4.1 1.6 8.1 2.7 8.2 2.3 8.1 1.8 8.1 1.6 12.2 1.8 12.2 1.5 12.2 1.2 28.5 2"/>
<path d="M1163.1 320.8l24.2 -3 20.3 -3.4 16.3 -3.6 8.1 -2.2 8.1 -2.5 8.2 -3 8.1 -3.4 8.1 -4.1 4.1 -2.3 8.1 -5.4 4.1 -3.1 4.1 -3.4 4 -3.8 4.1 -4.3 4.1 -4.7 4 -5.3 4.1 -5.9 4.1 -6.7 4 -7.5 4.1 -8.4 5.8 -14 4.9 -13.5 4.9 -15 8.8 -29.3 3.4 -10.5 2.4 -6.1 1.3 -2.3 1.2 -1.2 1.2 0.3 1.2 0.9 1.2 1.6 1.3 2.1 2.4 5.9 2.4 7.6 3.7 14 9.7 42.2 3.7 15 5.5 20.2 4.1 12.8 4.1 11.2 4 9.6 4.1 8.3 4.1 7.1 4 6.2 4.1 5.3 4.1 4.7 4 4 4.1 3.5 4.1 3.1 4 2.7 4.1 2.4 8.1 4 4.1 1.7 8.1 2.9 8.1 2.4 8.2 1.9 8.1 1.6 8.1 1.4 8.2 1.1 12.2 1.5 24.4 2"/>
<path d="M1163.1 323.5l12 -1.9 12.2 -2.2 12.2 -2.6 8.1 -2 8.1 -2.3 8.2 -2.6 8.1 -3 8.1 -3.5 8.2 -4 4 -2.3 8.2 -5.2 4 -2.9 4.1 -3.3 4.1 -3.5 4 -3.9 4.1 -4.3 4.1 -4.8 4 -5.3 4.1 -5.9 4.1 -6.6 4 -7.3 4.1 -8.2 4.1 -9.2 4 -10.3 5.9 -17 4.8 -16.1 4.9 -17.9 8.8 -34.4 3.4 -12.1 2.5 -7.1 1.2 -2.6 1.2 -1.5 1.2 0.4 1.2 1 1.3 1.6 1.2 2.2 2.4 6.2 2.5 8.2 2.2 9.1 2.6 11.5 9.8 47.4 4.9 22.3 3.1 12.9 4 15.4 4.1 13.6 4.1 11.9 4 10.3 4.1 9 4.1 7.8 4 6.8 4.1 6 4.1 5.2 4 4.5 4.1 4.1 4.1 3.5 4 3.2 4.1 2.8 8.1 4.7 4.1 2 8.1 3.5 8.1 2.8 8.2 2.4 8.1 2 8.1 1.6 8.2 1.5 12.2 1.7 12.2 1.5 12.2 1.2"/>
<path d="M1163.1 320.2l20.1 -3.1 12.2 -2.4 8.2 -1.8 8.1 -2.1 8.1 -2.3 8.1 -2.7 8.2 -3.1 8.1 -3.6 4.1 -2.1 8.1 -4.6 4.1 -2.6 8.1 -5.9 4.1 -3.5 4 -3.7 4.1 -4.2 4.1 -4.6 4 -5.1 4.1 -5.7 4.1 -6.4 4 -7.1 4.1 -7.9 4.1 -8.9 4 -9.9 2.5 -6.5 6.1 -18 4.8 -16.3 9.8 -35.4 3.7 -12.1 2.4 -6.6 1.2 -2.4 1.2 -1.3 1.3 0.4 1.2 1.2 1.2 2 1.2 2.8 1.2 3.5 2.5 8.8 3.6 16.8 9.8 51.6 4.9 23.8 3.6 15.8 2.9 11 4 13.8 4.1 11.9 4.1 10.1 4 8.5 4.1 7.4 4.1 6.3 4 5.3 4.1 4.7 4.1 4 4 3.5 4.1 3.1 4.1 2.7 4 2.4 8.2 3.9 4 1.7 8.2 2.8 8.1 2.4 8.1 1.9 8.1 1.5 8.2 1.4 20.3 2.5 12.2 1.1 16.3 1.2"/>
<path d="M1163.1 319.8l12 -2.3 8.1 -1.7 8.2 -2 8.1 -2.2 8.1 -2.6 8.1 -2.8 12.2 -5.2 8.2 -4.1 4 -2.3 8.2 -5.3 4 -2.9 8.2 -6.8 4 -3.9 4.1 -4.3 4.1 -4.7 4 -5.2 4.1 -5.7 4.1 -6.4 4 -7.1 4.1 -7.9 4.1 -8.8 4 -9.8 4.1 -10.9 2.5 -7.2 5.6 -18.2 5.3 -19.2 9.8 -37.8 3.7 -12.9 2.4 -6.9 1.2 -2.5 1.2 -1.4 1.3 0.3 1.2 1 1.2 1.7 1.2 2.2 2.5 6.4 2.4 8.4 2.4 10 2.5 11.3 10.5 53.4 5.3 25.2 2.8 12.1 4.1 16 4.1 14.2 4 12.5 4.1 10.8 4.1 9.5 4 8.3 4.1 7.2 4.1 6.4 4 5.5 4.1 4.9 4.1 4.3 4 3.8 4.1 3.4 4.1 3.1 8.1 5.1 4.1 2.2 8.1 3.8 8.1 3 8.1 2.6 8.2 2.2 12.2 2.6 8.1 1.5 12.2 1.8 12.2 1.5 16.3 1.6"/>
<path d="M1163.1 316.4l12 -1.5 12.2 -1.8 12.2 -2.1 8.1 -1.6 8.1 -1.8 8.2 -2.1 8.1 -2.4 8.1 -2.8 8.2 -3.2 4 -1.8 8.2 -4.1 4 -2.3 8.2 -5.3 4 -3 4.1 -3.4 4.1 -3.7 4 -4.1 4.1 -4.5 4.1 -5 4 -5.6 4.1 -6.3 4.1 -7 4 -7.8 5.5 -11.9 6.1 -15.4 4.8 -13.8 9.8 -29.8 3.7 -10.1 2.6 -5.9 1 -1.6 1.2 -1.1 1.3 0.4 0.6 0.6 1.8 2.8 2.3 5.9 1.4 4.6 3.6 15.5 8.6 42.5 4.8 22.6 4.9 19.3 5.1 16.8 4.1 11 4.1 9.2 4 7.8 4.1 6.5 4.1 5.5 4 4.6 4.1 4 4.1 3.4 4 3 4.1 2.6 4.1 2.2 4 1.9 8.2 3.3 4 1.3 8.2 2.3 8.1 1.8 8.1 1.5 16.3 2.3 20.3 2 28.5 1.7"/>
<path d="M1163.1 323.4l20.1 -3.4 12.2 -2.6 8.2 -1.9 8.1 -2.3 8.1 -2.5 12.2 -4.6 8.1 -3.6 4.1 -2.1 8.1 -4.6 4.1 -2.6 8.1 -6 4.1 -3.4 4.1 -3.8 4 -4.1 4.1 -4.6 4.1 -5 4 -5.6 4.1 -6.2 4.1 -6.8 4 -7.7 4.1 -8.5 6.2 -14.8 6 -16.4 5 -15.3 8.5 -27.8 3.7 -11.3 2.4 -6.4 1.3 -2.6 1.2 -2.1 1.2 -1.2 1.2 0.4 1.2 1 1.3 1.7 1.2 2.4 2.4 6.5 1.9 6.5 4.1 16.9 8.7 40.9 4.8 21.7 3.7 14.5 3.1 11.2 4.1 12.9 4 11.1 4.1 9.5 4.1 8.2 4 7 4.1 6.1 4.1 5.2 4 4.5 4.1 3.9 4.1 3.4 4 3 4.1 2.7 4.1 2.3 8.1 3.9 4.1 1.7 8.1 2.8 8.1 2.3 8.1 1.9 8.2 1.5 12.2 2 20.3 2.3 12.2 1 16.3 1.1"/>
<path d="M1163.1 320.6l12 -2.1 8.1 -1.7 12.2 -2.9 8.2 -2.2 8.1 -2.5 8.1 -3 12.2 -5.2 8.1 -4.2 4.1 -2.4 8.1 -5.3 4.1 -3.1 4.1 -3.3 4 -3.7 4.1 -4 4.1 -4.5 4 -4.9 4.1 -5.4 4.1 -6 4 -6.7 4.1 -7.5 4.1 -8.3 4 -9.3 4.1 -10.3 5.6 -16 4.8 -15.9 4.9 -17.5 8.5 -32.2 3.7 -12.5 2.4 -6.7 1.3 -2.5 1.3 -1.3 1.1 0.4 1.2 1.4 1.8 3.4 1.9 5.6 2.1 8.4 4 19.2 8.5 48.1 4.9 25.5 4.9 22.2 2.1 8.7 4.1 14.5 4.1 12.4 4 10.4 4.1 8.9 4.1 7.5 4 6.5 4.1 5.5 4.1 4.7 4 4.1 4.1 3.6 4.1 3.1 4 2.7 4.1 2.4 8.1 4 4.1 1.6 8.1 2.9 8.2 2.3 8.1 1.9 8.1 1.5 12.2 1.9 12.2 1.5 12.2 1.2 28.5 2"/>
<path d="M1163.1 317l20.1 -3.7 16.3 -3.7 8.1 -2.2 8.1 -2.6 12.2 -4.5 8.2 -3.7 4 -2 8.2 -4.5 4 -2.6 8.2 -5.9 4 -3.3 4.1 -3.7 4.1 -4 4 -4.4 4.1 -4.8 4.1 -5.4 4 -5.9 4.1 -6.6 4.1 -7.3 4 -8.1 4.1 -8.9 3.9 -9.4 4.9 -13 4.9 -14.2 9.7 -30.6 3.7 -10.7 2.4 -6.2 1.2 -2.5 1.2 -2 1.3 -1.1 1.2 0.4 1.2 1.1 1.2 1.8 1.2 2.4 1.3 3.1 2.4 7.8 2.4 9.7 2.5 10.9 9.7 47.5 4.9 21.9 3.8 15.2 4.1 14.2 4.1 12.3 4 10.6 4.1 9.2 4.1 7.8 4 6.7 4.1 5.8 4.1 5 4 4.3 4.1 3.8 4.1 3.3 4 2.9 4.1 2.6 4.1 2.3 8.1 3.8 4.1 1.7 8.1 2.7 8.1 2.3 8.1 1.9 8.2 1.5 12.2 1.9 20.3 2.4 12.2 1 16.3 1.1"/>
<path d="M1163.1 318.2l20.1 -3.1 12.2 -2.4 8.2 -1.7 8.1 -2 8.1 -2.3 8.1 -2.6 8.2 -2.9 8.1 -3.4 8.1 -4 8.2 -4.6 4 -2.5 8.2 -5.9 4 -3.4 4.1 -3.6 4.1 -4 4 -4.4 4.1 -4.9 4.1 -5.3 4 -6 4.1 -6.5 4.1 -7.3 4 -8 4.1 -8.9 5.3 -13 6.1 -17 4.9 -15 8.5 -27.7 3.7 -11 2.4 -6.3 1.2 -2.6 1.3 -2.1 1.2 -1.1 1.2 0.4 0.8 0.7 1.6 2.6 1.3 2.8 1.1 3.5 2.5 9.1 3.7 17 9.7 52.3 3.7 18.3 4.8 21.6 4.1 15.6 4.1 13.3 4 11.4 4.1 9.7 4.1 8.3 4 7 4.1 6.1 4.1 5.1 4 4.5 4.1 3.9 4.1 3.4 4 3 4.1 2.6 4.1 2.3 4 2 8.2 3.5 8.1 2.7 8.1 2.3 8.1 1.8 8.2 1.6 8.1 1.3 12.2 1.6 12.2 1.2 16.3 1.4"/>
<path d="M1163.1 320.3l20.1 -3 12.2 -2.2 8.2 -1.7 8.1 -2 8.1 -2.2 8.1 -2.4 8.2 -2.9 8.1 -3.2 8.1 -3.8 8.2 -4.4 4 -2.5 8.2 -5.6 4 -3.2 4.1 -3.5 4.1 -3.8 4 -4.2 4.1 -4.6 4.1 -5.1 4 -5.6 4.1 -6.2 4.1 -6.9 4 -7.6 4.1 -8.3 4.1 -9.3 4.6 -11.6 4.9 -13.4 11 -32.4 3.8 -10.6 2.3 -5.3 1.2 -2.3 1.2 -1.9 1.3 -1 1.2 0.3 1.2 0.8 1.2 1.4 1.2 1.9 2.5 5.2 3 9 4.3 15.8 11 46.9 5 20.3 4.1 14.8 4.1 13.1 4 11.7 4.1 10.3 4.1 9 4 7.8 4.1 6.9 4.1 6 4 5.3 4.1 4.7 4.1 4.1 4 3.6 4.1 3.2 4.1 2.9 8.1 4.8 4.1 2.1 8.1 3.5 8.1 2.9 8.1 2.4 8.2 2.1 8.1 1.7 8.1 1.4 12.2 1.8 20.4 2.3"/>
<path d="M1163.1 325.7l20.1 -3 12.2 -2.1 8.2 -1.7 16.2 -4 8.1 -2.4 8.2 -2.8 8.1 -3.1 8.1 -3.7 8.2 -4.3 4 -2.5 8.2 -5.5 4 -3.2 4.1 -3.4 4.1 -3.8 4 -4.2 4.1 -4.6 4.1 -5 4 -5.7 4.1 -6.2 4.1 -6.9 4 -7.6 4.1 -8.5 4.1 -9.4 5.4 -13.9 6 -17.4 9.8 -29.8 3.1 -8.7 3 -6.6 1.2 -2 1.2 -1.1 1.3 0.5 1.2 1.3 1.2 2.2 1.2 3 2.5 8.1 3.6 16.1 8.6 44.5 3.6 18 4 17.3 4 15.5 4.1 13.1 4.1 10.9 4 9.3 4.1 7.7 4.1 6.5 4 5.5 4.1 4.7 4.1 4 4 3.4 4.1 2.9 4.1 2.6 4 2.3 4.1 1.9 4.1 1.8 8.1 2.8 8.1 2.3 8.1 1.9 8.2 1.5 8.1 1.3 12.2 1.5 12.2 1.2 28.5 1.9"/>
<path d="M1163.1 321.8l20.1 -3.4 16.3 -3.5 8.1 -2.1 8.1 -2.4 8.2 -2.7 8.1 -3.1 8.1 -3.6 4.1 -2 8.1 -4.6 4.1 -2.6 8.1 -5.8 4.1 -3.4 4.1 -3.6 4 -4 4.1 -4.4 4.1 -4.9 4 -5.3 4.1 -5.9 4.1 -6.6 4 -7.2 4.1 -8 5.7 -12.6 4.9 -12 5.7 -15.3 8.9 -25.8 3.7 -9.8 2.4 -5.5 1.2 -2.2 1.3 -1.9 1.2 -1 1.2 0.4 1.2 0.9 1.3 1.6 1.2 2.1 2.4 5.9 2.4 7.6 4.1 15.7 9.4 40.9 4.9 19.7 2.4 9 3.6 12.2 4.1 12 4 10.4 4.1 9 4.1 7.7 4 6.7 4.1 5.7 4.1 5 4 4.3 4.1 3.8 4.1 3.3 4 2.9 4.1 2.5 4.1 2.3 8.1 3.8 4.1 1.5 8.1 2.8 8.1 2.2 8.1 1.8 8.2 1.6 12.2 1.8 20.3 2.3 28.5 2.1"/>
<path d="M1163.1 315.8l20.1 -3.3 12.2 -2.5 8.2 -1.9 8.1 -2.1 8.1 -2.5 8.1 -2.7 8.2 -3.1 8.1 -3.6 8.1 -4.2 8.2 -4.9 4 -2.8 8.2 -6.3 4 -3.5 4.1 -4 4.1 -4.2 4 -4.8 4.1 -5.2 4.1 -5.7 4 -6.3 4.1 -7 4.1 -7.8 4 -8.5 4.1 -9.5 3.4 -8.6 4.7 -13.1 5.1 -15.3 9.7 -31.6 3.7 -11 1.8 -5 1.8 -3.9 1.2 -2 1.3 -1.2 1.2 0.3 1.2 1 1.2 1.5 1.2 2.2 2.5 5.9 2.4 7.8 2.3 8.7 2.6 11 9.8 45.4 4.8 21.3 3.1 12.4 4.1 14.7 4.1 13 4 11.4 4.1 9.9 4.1 8.6 4 7.5 4.1 6.5 4.1 5.7 4 5 4.1 4.4 4.1 3.8 4 3.4 4.1 3 4.1 2.7 4 2.4 4.1 2.2 8.1 3.7 8.1 3 8.2 2.5 8.1 2 8.1 1.8 8.2 1.5 12.2 1.8 12.2 1.5 12.2 1.2"/>
<path d="M1163.1 328.8l20.1 -3.3 12.2 -2.5 8.2 -1.8 8.1 -2.2 8.1 -2.4 8.1 -2.7 8.2 -3.1 8.1 -3.5 8.1 -4.2 8.2 -4.8 4 -2.7 8.2 -6.1 4 -3.5 4.1 -3.8 4.1 -4.2 4 -4.6 4.1 -5 4.1 -5.6 4 -6.1 4.1 -6.8 4.1 -7.5 4 -8.2 4.1 -9.1 4.1 -10 4.2 -11.3 4.8 -14.3 11 -34.7 3.7 -10.7 2.4 -6.1 1.2 -2.5 1.3 -2 1.2 -1.1 1.2 0.4 1.2 1.2 1.2 2 1.3 2.7 1.2 3.3 2.4 8.6 3.7 16.1 9.7 49.7 3.7 17.3 4.9 20.6 4.7 17 4.1 12.3 4 10.5 4.1 9 4.1 7.6 4 6.5 4.1 5.6 4.1 4.8 4 4.1 4.1 3.7 4.1 3.1 4 2.7 4.1 2.5 4.1 2.1 4 1.9 8.2 3.2 8.1 2.6 8.1 2.1 8.1 1.7 8.2 1.5 8.1 1.2 12.2 1.5 12.2 1.2 16.3 1.2"/>
<path d="M1163.1 319.2l12 -2.4 8.1 -1.9 8.2 -2.1 8.1 -2.4 8.1 -2.7 8.1 -3.1 12.2 -5.4 8.2 -4.3 4 -2.4 8.2 -5.5 4 -3 8.2 -7 4 -4 4.1 -4.3 4.1 -4.7 4 -5.2 4.1 -5.7 4.1 -6.3 4 -6.9 4.1 -7.6 4.1 -8.5 4 -9.2 4.1 -10.2 2.9 -7.9 4.9 -14.3 4.9 -15.6 9.7 -32.9 3.7 -11.3 2.4 -6.3 1.2 -2.8 1.3 -2.1 1.2 -1.2 0.3 0 0.9 0.3 1.2 0.9 1.2 1.4 1.3 1.9 2.4 5.4 1.2 3.3 2.5 8 4.8 19.4 11 49.8 6 25.3 4.1 15.3 4.1 13.8 4 12.2 4.1 10.8 4.1 9.5 4 8.4 4.1 7.3 4.1 6.5 4 5.7 4.1 5.1 4.1 4.4 4 4 4.1 3.5 4.1 3.2 4 2.8 8.2 4.9 4 2.1 8.2 3.6 8.1 2.9 8.1 2.5 8.1 2.2 8.2 1.8 8.1 1.5 12.2 1.9 12.2 1.6 16.3 1.7"/>
<path d="M1163.1 326.5l20.1 -3.5 12.2 -2.7 8.2 -2 8.1 -2.2 8.1 -2.6 8.1 -2.9 8.2 -3.3 8.1 -3.8 4.1 -2.1 8.1 -4.8 4.1 -2.6 8.1 -6 4.1 -3.4 4 -3.7 4.1 -4 4.1 -4.4 4 -4.8 4.1 -5.3 4.1 -5.8 4 -6.4 4.1 -7 4.1 -7.6 4 -8.5 4.1 -9.2 5.5 -13.8 4.9 -13.4 12.2 -36.1 3.6 -9.9 2.2 -5.1 1.5 -2.8 1.2 -1.8 1.4 -1 1.1 0.3 1.2 0.9 1.2 1.5 1.2 2 2.5 5.7 2.4 7.5 2.4 9 2.5 10 9.7 43.6 4.9 20.5 3.4 13.1 4.1 14.1 4.1 12.3 4 10.8 4.1 9.4 4.1 8.2 4 7.2 4.1 6.2 4.1 5.4 4 4.7 4.1 4.2 4.1 3.6 4 3.3 4.1 2.9 8.1 4.8 4.1 2 8.1 3.5 8.1 2.9 8.2 2.4 8.1 2 8.1 1.6 8.2 1.4 12.2 1.8 12.2 1.4 12.2 1.1"/>
<path d="M1163.1 319.5l20.1 -3.5 12.2 -2.5 8.2 -2 8.1 -2.2 8.1 -2.5 8.1 -2.9 8.2 -3.2 8.1 -3.7 4.1 -2.1 8.1 -4.6 4.1 -2.6 8.1 -5.8 4.1 -3.3 8.1 -7.5 4.1 -4.3 4 -4.7 4.1 -5.2 4.1 -5.6 4 -6.2 4.1 -6.9 4.1 -7.5 4 -8.3 4.1 -9.1 4.1 -10 4.4 -11.9 6.1 -17.8 9.8 -30.4 3.6 -10.4 2.5 -5.9 1.2 -2.4 1.2 -1.9 1.2 -1.1 1.2 0.4 1.3 1.2 1.2 2 1.2 2.7 1.2 3.4 2.5 8.6 3.6 16.2 8.6 43.8 4.8 23.5 4.9 20.6 4.5 16.1 4.1 12.5 4 10.5 4.1 9 4.1 7.7 4 6.6 4.1 5.6 4.1 4.8 4 4.1 4.1 3.6 4.1 3.2 4 2.7 4.1 2.5 4.1 2.1 4 1.9 8.2 3.2 8.1 2.6 8.1 2.1 8.1 1.7 8.2 1.4 8.1 1.2 12.2 1.5 12.2 1.2 16.3 1.2"/>
<path d="M1163.1 316.2l20.1 -3.7 16.3 -3.8 8.1 -2.3 8.1 -2.6 12.2 -4.5 8.2 -3.6 4 -2 8.2 -4.5 4 -2.5 8.2 -5.7 4 -3.2 8.2 -7.4 4 -4.1 4.1 -4.6 4.1 -5.1 4 -5.5 4.1 -6.1 4.1 -6.6 4 -7.4 4.1 -8 4.1 -8.8 4.5 -10.7 4.8 -12.5 12.2 -33.8 3.7 -9.3 2.4 -5.3 1.3 -2.2 1.2 -1.7 1.2 -0.9 1.2 0.4 1.2 1.4 1.3 2.2 1.5 4.1 2.1 7.2 3.7 16.5 8.5 45.6 4.9 24.2 4.9 20.8 4.4 15.8 4.1 12.2 4 10.2 4.1 8.6 4.1 7.2 4 6 4.1 5.2 4.1 4.4 4 3.8 4.1 3.2 4.1 2.8 4 2.5 4.1 2.1 8.1 3.6 4.1 1.5 8.1 2.5 8.2 2 8.1 1.6 8.1 1.4 12.2 1.6 12.2 1.3 12.2 1 28.5 1.7"/>
<path d="M1163.1 319.4l20.1 -3.5 16.3 -3.6 8.1 -2.2 8.1 -2.4 8.2 -2.7 8.1 -3 8.1 -3.5 8.2 -4.1 8.1 -4.7 4.1 -2.6 8.1 -5.9 4.1 -3.3 8.1 -7.5 4.1 -4.3 4 -4.8 4.1 -5.1 4.1 -5.7 4 -6.2 4.1 -6.8 4.1 -7.4 4 -8.3 4.1 -8.9 4.1 -9.9 4.6 -12.1 6.1 -17.5 9.6 -29 3.8 -10.6 2.4 -5.7 1.3 -2.3 1.2 -1.8 1.2 -1.1 1.2 0.4 1.2 0.9 1.3 1.6 1.2 2.2 2.4 6.1 2.5 8 2.4 9.5 2.3 9.9 9.9 46.5 4.9 21.4 5.5 21.3 4.1 13.6 4 11.9 4.1 10.4 4.1 8.9 4 7.8 4.1 6.8 4.1 5.9 4 5.1 4.1 4.6 4.1 3.9 4 3.5 4.1 3.1 4.1 2.7 4 2.5 4.1 2.2 8.1 3.7 8.1 3 8.2 2.5 8.1 2.1 8.1 1.8 8.2 1.5 12.2 1.8 12.2 1.5 12.2 1.2"/>
<path d="M1163.1 322.8l20.1 -3.9 16.3 -4 8.1 -2.4 8.1 -2.6 8.2 -3 8.1 -3.4 8.1 -3.9 4.1 -2.2 8.1 -4.8 4.1 -2.7 8.1 -6.1 4.1 -3.4 8.1 -7.7 4.1 -4.4 4.1 -4.8 4 -5.2 4.1 -5.7 4.1 -6.3 4 -6.8 4.1 -7.5 4.1 -8.2 4 -8.9 4.1 -9.6 4.1 -10.4 4.9 -13.5 9.7 -28 3.7 -9.8 3.7 -8.3 2.3 -3.8 1.3 -1 1.2 0.4 1.3 1 1.2 1.7 1.2 2.3 2.4 6.4 2.5 8.5 3.6 15.4 9.8 46.7 4.9 21.9 3.2 13 4 14.8 4.1 13 4.1 11.2 4 9.7 4.1 8.4 4.1 7.2 4 6.2 4.1 5.4 4.1 4.7 4 4.1 4.1 3.6 4.1 3.2 4 2.8 4.1 2.5 8.1 4.1 4.1 1.8 8.1 3 8.1 2.5 8.2 2.1 8.1 1.7 8.1 1.4 8.2 1.2 12.2 1.6 24.4 2.2"/>
<path d="M1163.1 315.9l12 -2.5 8.1 -1.8 16.3 -4.5 8.1 -2.6 8.1 -2.9 8.2 -3.4 8.1 -3.8 8.1 -4.4 4.1 -2.5 8.1 -5.4 4.1 -3.1 8.1 -6.9 4.1 -4 4.1 -4.2 4 -4.7 4.1 -5 4.1 -5.6 4 -6.1 4.1 -6.6 4.1 -7.3 4 -8.1 4.1 -8.7 4.1 -9.6 4 -10.5 4.1 -11.3 5.7 -17.1 10.6 -33.7 4 -11.8 2.5 -6 1.2 -2.5 1.2 -1.9 1.2 -1.1 1.2 0.5 0.8 0.8 1.7 2.9 1.2 3.2 1.2 3.9 2.5 10.1 3.6 18.7 8.6 49.2 3.6 19.7 4.9 23.1 5.3 20.9 4 13.3 4.1 11.2 4.1 9.6 4 8 4.1 6.8 4.1 5.8 4 5 4.1 4.3 4.1 3.7 4 3.2 4.1 2.8 4.1 2.5 8.1 4.1 4.1 1.7 8.1 2.9 8.1 2.3 8.1 1.9 8.2 1.6 12.2 1.9 20.3 2.3 12.2 1 16.3 1.1"/>
<path d="M1163.1 323.5l12 -2.8 8.1 -2.1 8.2 -2.3 8.1 -2.6 8.1 -3 8.1 -3.4 8.2 -3.8 4 -2.1 8.2 -4.7 4 -2.6 8.2 -5.9 4 -3.2 8.2 -7.4 4 -4.2 4.1 -4.6 4.1 -4.9 4 -5.5 4.1 -5.9 4.1 -6.5 4 -7 4.1 -7.8 4.1 -8.5 4 -9.3 4.1 -10.2 3.9 -10.6 3.7 -10.6 4.9 -15 9.7 -31.7 3.7 -11.2 3.6 -9.4 1.3 -2.5 1.2 -1.9 1.2 -1.1 1.2 0.4 1.2 1.4 1.3 2.2 1.2 3 1.2 3.8 2.4 9.6 3.7 17.9 8.5 47.7 4.9 25.2 4.9 21.8 5.4 20.1 4.1 12.5 4 10.6 4.1 8.9 4.1 7.6 4 6.5 4.1 5.5 4.1 4.8 4 4.1 4.1 3.5 4.1 3.1 4 2.7 4.1 2.4 8.1 4 4.1 1.6 8.1 2.8 8.2 2.3 8.1 1.9 8.1 1.5 12.2 1.9 12.2 1.5 12.2 1.1 28.5 2"/>
<path d="M1163.1 324.4l12 -2.7 8.1 -2.1 8.2 -2.4 8.1 -2.7 8.1 -2.9 8.1 -3.4 12.2 -5.9 8.2 -4.7 4 -2.6 8.2 -5.8 4 -3.2 8.2 -7.3 4 -4.1 4.1 -4.5 4.1 -4.9 4 -5.3 4.1 -5.8 4.1 -6.3 4 -7 4.1 -7.5 4.1 -8.3 4 -9.1 4.1 -9.9 4.1 -10.8 5 -14.6 6.1 -19.2 11 -36.6 3.6 -11 2.5 -6.2 1.2 -2.5 1.2 -2 1.2 -1.1 1.3 0.3 1.2 0.8 1.2 1.4 1.2 1.9 2.5 5.2 1.4 4 2.2 7.1 2.5 9 2.4 10.1 12.2 54.8 5.1 21.4 4.1 15.4 4 13.9 4.1 12.4 4.1 10.9 4 9.7 4.1 8.6 4.1 7.5 4 6.6 4.1 5.9 4.1 5.2 4 4.6 4.1 4.2 4.1 3.6 4 3.3 4.1 3 8.1 5 4.1 2.2 8.1 3.7 8.1 3.1 8.2 2.6 8.1 2.3 8.1 1.8 8.2 1.7 12.2 2 12.2 1.7 12.2 1.3"/>
<path d="M1163.1 321.9l16.1 -3.7 8.1 -2.1 8.1 -2.4 8.2 -2.7 8.1 -3 12.2 -5.3 8.1 -4.2 4.1 -2.3 8.1 -5.2 4.1 -2.8 8.1 -6.5 4.1 -3.7 8.1 -8.2 4.1 -4.7 4 -5.1 4.1 -5.5 4.1 -6.1 4 -6.6 4.1 -7.2 4.1 -7.9 4 -8.6 4.1 -9.4 5.6 -14 6.1 -16.9 12.2 -36 3.6 -9.7 2.5 -5.4 1.2 -2.3 1.3 -1.8 1.1 -0.9 1.2 0.5 1.3 1.4 1.2 2.4 1.2 3.3 2.4 8.8 3.8 18.3 9.6 55.4 4.9 25.5 4.9 21.8 5 18.5 4.1 12.4 4 10.4 4.1 8.8 4.1 7.5 4 6.3 4.1 5.3 4.1 4.6 4 3.9 4.1 3.4 4.1 3 4 2.6 4.1 2.3 8.1 3.7 4.1 1.6 8.1 2.7 8.2 2.1 8.1 1.8 8.1 1.4 12.2 1.8 12.2 1.4 12.2 1.1 28.5 1.8"/>
<path d="M1163.1 316.8l20.1 -3.7 16.3 -3.8 8.1 -2.2 8.1 -2.5 8.2 -2.9 8.1 -3.1 8.1 -3.7 8.2 -4.1 8.1 -4.8 4.1 -2.7 8.1 -6 4.1 -3.3 8.1 -7.7 4.1 -4.3 4 -4.7 4.1 -5.1 4.1 -5.5 4 -6.1 4.1 -6.7 4.1 -7.3 4 -7.9 4.1 -8.6 4.1 -9.3 4.2 -10.6 6.1 -16.3 10 -28 4 -10.5 1.9 -4.1 2.2 -4.3 1.4 -2 1.2 -0.9 1.3 0.3 1.2 0.9 1.2 1.4 1.2 2 2.5 5.4 2.4 7.2 2.4 8.6 2.5 9.7 10.9 47.6 4.9 19.7 3.5 12.8 4.1 13.4 4 11.9 4.1 10.5 4.1 9.1 4 7.9 4.1 6.9 4.1 6.1 4 5.3 4.1 4.6 4.1 4.1 4 3.6 4.1 3.2 4.1 2.9 8.1 4.8 4.1 2 8.1 3.5 8.1 2.9 8.1 2.4 8.2 2 8.1 1.6 8.1 1.5 12.2 1.7 20.4 2.3"/>
<path d="M1163.1 315.4l12 -2.5 8.1 -1.9 16.3 -4.4 8.1 -2.6 8.1 -2.9 8.2 -3.3 8.1 -3.7 8.1 -4.3 4.1 -2.3 8.1 -5.2 4.1 -2.9 8.1 -6.6 4.1 -3.6 8.1 -8.2 4.1 -4.7 4.1 -5.1 4 -5.5 4.1 -6 4.1 -6.5 4 -7.1 4.1 -7.8 4.1 -8.4 4 -9.1 4.1 -9.9 4.1 -10.7 5.5 -15.6 11 -32.5 3.8 -10.3 2.3 -5.5 1.7 -3.6 2 -2.9 1.2 -1 1.2 0.5 1.2 1.2 1.2 2.1 1.3 2.8 1.2 3.5 2.4 9 3.7 17.1 9.7 52.7 4.9 24.4 3.7 16.2 2.9 11.7 4.1 14.2 4.1 12.2 4 10.4 4.1 8.8 4.1 7.5 4 6.5 4.1 5.6 4.1 4.8 4 4.1 4.1 3.6 4.1 3.2 4 2.8 4.1 2.5 4.1 2.1 4 2 8.2 3.2 8.1 2.7 8.1 2.2 8.1 1.7 8.2 1.5 8.1 1.3 12.2 1.6 12.2 1.2 16.3 1.3"/>
<path d="M1163.1 326.5l12 -2.4 8.1 -1.8 16.3 -4.3 8.1 -2.5 8.1 -2.8 8.2 -3.2 8.1 -3.7 8.1 -4.1 4.1 -2.3 8.1 -5 4.1 -2.9 8.1 -6.3 4.1 -3.5 8.1 -8.1 4.1 -4.5 4.1 -4.9 4 -5.4 4.1 -5.8 4.1 -6.4 4 -6.9 4.1 -7.6 4.1 -8.2 4 -9 4.1 -9.8 4.9 -12.6 4.8 -13.7 12.2 -36.6 3.7 -10.2 3.6 -8.6 1.3 -2.3 1.2 -1.7 1.2 -1 1.2 0.4 1.2 1.3 1.3 2.2 1.2 2.9 1.2 3.7 2.4 9.3 3.7 17.5 8.5 47 4.9 25.1 4.9 21.8 1.6 6.6 4.1 14.6 4.1 12.5 4 10.6 4.1 9 4.1 7.6 4 6.6 4.1 5.5 4.1 4.8 4 4.2 4.1 3.6 4.1 3.1 4 2.8 4.1 2.4 4.1 2.2 4 1.9 8.2 3.2 8.1 2.6 8.1 2.1 8.1 1.7 8.2 1.5 8.1 1.2 12.2 1.5 12.2 1.2 16.3 1.2"/>
<path d="M1163.1 325l20.1 -3.5 12.2 -2.5 8.2 -1.9 16.2 -4.4 8.1 -2.6 8.2 -2.9 8.1 -3.2 8.1 -3.7 8.2 -4.2 4 -2.3 8.2 -5 4 -2.8 8.2 -6.3 4 -3.5 8.2 -7.7 4 -4.4 4.1 -4.7 4.1 -5 4 -5.5 4.1 -5.9 4.1 -6.4 4 -6.9 4.1 -7.4 4.1 -8 6.5 -13.8 5.6 -13.1 11.4 -27.3 4.9 -10.7 2.4 -4.5 1.7 -2.6 2 -2.4 1.2 -0.8 1.2 0.3 1.3 0.7 1.2 1.2 1.2 1.6 2.4 4.5 1.7 3.9 2 5.7 4.9 16.5 9.7 37.8 4.9 18.1 2.9 9.9 4 13 4.1 11.7 4.1 10.4 4 9.2 4.1 8.2 4.1 7.1 4 6.3 4.1 5.5 4.1 4.9 4 4.3 4.1 3.9 4.1 3.4 4 3 4.1 2.8 4 2.4 8.2 4.2 4 1.8 8.2 3.1 8.1 2.6 8.1 2.2 8.2 1.8 8.1 1.5 16.3 2.5"/>
<path d="M1163.1 323l12 -1.8 12.2 -2.2 12.2 -2.5 8.1 -1.8 16.3 -4.4 8.1 -2.5 8.1 -2.9 8.2 -3.2 8.1 -3.6 8.1 -4 4.1 -2.3 8.1 -4.9 4.1 -2.8 8.1 -6.1 4.1 -3.4 8.1 -7.5 8.2 -8.8 4 -4.9 4.1 -5.3 4.1 -5.7 4 -6.2 4.1 -6.6 4.1 -7.1 8.1 -15.6 6.3 -13.3 11 -24.3 4.8 -10.1 2.5 -4.5 2.4 -3.8 2.5 -2.8 1.2 -0.6 1.2 0.3 1.2 0.8 1.2 1.4 1.3 1.9 2.4 5.4 2.6 7.6 4.7 17.1 9.8 40.4 4.8 19 5.1 17.4 4.1 12.3 4.1 10.7 4 9.3 4.1 8.2 4.1 7 4 6.1 4.1 5.4 4.1 4.6 4 4.1 4.1 3.6 4.1 3.2 4 2.8 4.1 2.4 8.1 4.2 4.1 1.8 8.1 3.1 8.1 2.4 8.2 2.1 8.1 1.7 8.1 1.5 8.2 1.2 12.2 1.5"/>
<path d="M1163.1 321.9l20.1 -3 20.4 -3.7 12.1 -2.7 8.2 -2 16.2 -4.7 8.2 -2.8 8.1 -3.1 12.2 -5.3 8.1 -4.2 4.1 -2.3 8.1 -5.1 4.1 -2.7 8.1 -6.2 4.1 -3.4 8.1 -7.6 8.2 -8.7 8.1 -10.1 8.1 -11.4 8.1 -13 7 -12.1 13.4 -24.7 4.9 -8.3 2.4 -3.6 2.4 -3.1 2.5 -2.2 1.2 -0.5 1.2 0.2 1.2 0.8 1.2 1.3 1.3 1.8 2.4 4.8 2.4 6.4 3.7 11.8 11 40.5 4.9 16.7 6.1 18.1 4 10.2 4.1 9 4.1 7.8 4 6.7 4.1 5.8 4.1 5 4 4.4 4.1 3.9 4.1 3.3 4 2.9 4.1 2.6 4 2.3 4.1 2 8.1 3.5 4.1 1.4 8.1 2.5 12.2 2.9 8.2 1.6 8.1 1.3 16.3 2"/>
<path d="M1163.1 316.9l24.2 -3 20.3 -3.1 20.3 -4.1 16.3 -4 8.1 -2.4 8.2 -2.6 8.1 -3 8.1 -3.4 12.2 -5.9 8.2 -4.7 4 -2.6 8.2 -5.8 4 -3.2 8.2 -7.1 8.1 -8.3 8.1 -9.7 8.1 -11.1 8.2 -12.6 7.1 -12.3 13.2 -24.1 4.1 -6.8 2.2 -3.4 2.4 -3.1 2.5 -2.3 1.2 -0.5 1.2 0.2 1.2 0.8 1.3 1.3 1.2 1.8 2.4 4.9 2.5 6.4 2.2 7 2.6 9.2 8.6 31.9 4.9 17.3 4.2 13.5 4.1 11.5 4.1 10 4 8.7 4.1 7.6 4.1 6.5 4 5.7 4.1 4.9 4.1 4.2 4 3.8 4.1 3.2 4 2.9 4.1 2.5 8.1 4.3 4.1 1.8 8.1 3 12.2 3.5 8.2 1.8 8.1 1.5 16.3 2.4"/>
<path d="M1163.1 322.5l24.2 -3 12.2 -1.8 12.2 -2.1 20.3 -4.1 16.3 -4.1 8.1 -2.4 8.1 -2.7 8.2 -2.9 8.1 -3.4 12.2 -5.8 8.1 -4.6 4.1 -2.5 8.1 -5.5 4.1 -3 8.1 -6.8 8.2 -7.7 8.1 -8.8 8.1 -10.1 8.1 -11.4 7.8 -11.9 14.6 -23.8 4.9 -7.3 2.4 -3.2 2.5 -2.7 2.4 -1.9 1.2 -0.5 1.2 0.3 1.3 0.7 1.2 1.3 1.2 1.7 2.4 4.6 1.7 3.9 4.4 13.3 8.6 29.1 4.9 15.8 3.6 10.6 2.9 7.5 4 9.5 4.1 8.3 4.1 7.1 4 6.1 4.1 5.2 4.1 4.5 4 3.9 4.1 3.4 4 3 4.1 2.5 4.1 2.3 8.1 3.7 4.1 1.6 8.1 2.6 12.2 3 12.2 2.3 16.3 2.1"/>
<path d="M1163.1 328.5l24.2 -2.8 24.4 -3.6 20.3 -3.7 16.3 -3.8 16.2 -4.6 8.2 -2.7 8.1 -3 8.1 -3.4 8.2 -3.8 8.1 -4.4 4.1 -2.3 8.1 -5.3 4.1 -2.9 8.1 -6.4 8.1 -7.3 4.1 -4.1 8.1 -8.9 8.1 -10.2 8.2 -11.4 6.9 -10.6 12.2 -19.4 5.3 -7.9 3.2 -4.2 2.5 -2.6 2.4 -1.9 1.2 -0.4 1.2 0.2 1.3 0.7 1.2 1.2 1.2 1.6 2.4 4.4 2.5 5.9 2.4 6.9 2.5 7.7 8.5 29 4.1 13.1 4 12 4.1 10.7 4.1 9.3 4 8.2 4.1 7.1 4.1 6.1 4 5.3 4.1 4.6 4 4 4.1 3.5 4.1 3 4 2.7 8.2 4.5 8.1 3.5 4.1 1.4 8.1 2.6 12.2 2.9 8.1 1.5 8.2 1.3"/>
<path d="M1163.1 328.4l24.2 -2.8 24.4 -3.5 20.3 -3.6 12.2 -2.6 8.1 -2 16.3 -4.5 8.1 -2.6 8.2 -2.9 8.1 -3.3 8.1 -3.6 12.2 -6.3 8.2 -4.9 4 -2.6 8.2 -5.8 8.1 -6.6 4 -3.7 8.2 -7.9 8.1 -8.9 8.1 -9.9 8.2 -10.9 16.2 -23.2 5.7 -7.4 3.7 -4.2 2.4 -2.2 2.5 -1.6 1.2 -0.4 1.2 0.2 1.2 0.7 1.2 1.2 2.5 3.6 2.4 5 2.5 6.3 2 5.9 12.2 38.1 5.3 14.4 2.8 6.8 4.1 8.8 4.1 7.5 4 6.4 4.1 5.6 4 4.7 4.1 4.1 4.1 3.5 4 3.1 4.1 2.6 4.1 2.4 4 2 8.2 3.4 4 1.4 8.2 2.3 12.2 2.7 12.2 2"/>
<path d="M1163.1 320.8l28.3 -2.6 24.3 -2.9 20.4 -3.1 20.3 -3.7 16.3 -3.7 16.2 -4.5 8.2 -2.7 8.1 -2.9 12.2 -5.1 12.2 -6.1 8.1 -4.7 8.1 -5.3 4.1 -2.8 8.1 -6.4 8.2 -7.1 4 -3.9 8.2 -8.4 8.1 -9.1 14.8 -17.5 6.1 -6.6 3.5 -3.2 2.6 -2.1 2.5 -1.3 1.2 -0.3 1.2 0.2 1.2 0.5 1.3 0.8 1.2 1.2 2.4 3.2 2.5 4.2 2.4 5.1 2.4 5.7 13.4 34.4 6.4 14.2 4 8 4.1 7.1 4 6.2 4.1 5.5 4.1 4.7 4 4.2 4.1 3.6 4.1 3.2 4 2.8 4.1 2.5 4.1 2.2 8.1 3.6 8.1 2.9 8.2 2.4 12.2 2.7"/>
<path d="M1163.1 317.6l28.3 -2.1 24.3 -2.4 20.4 -2.4 20.3 -2.9 20.3 -3.6 16.3 -3.6 16.3 -4.3 12.2 -3.8 12.2 -4.5 12.1 -5.3 12.2 -6.2 8.2 -4.7 8.1 -5.3 12.2 -8.8 8.1 -6.6 19.8 -16.8 6 -4.8 3.7 -2.5 2.4 -1.4 2.5 -1.1 2.4 -0.6 1.2 0.2 1.3 0.5 1.4 1 2.2 2.4 2.5 3.7 2.4 4.6 2.4 5.3 12.2 29.4 3.7 8.1 3 6.3 4.1 7.4 4.1 6.6 4 5.7 4.1 5 4.1 4.3 4 3.7 4.1 3.2 4.1 2.8 4 2.5 8.2 4 8.1 3.1 8.1 2.5 8.2 2"/>
<path d="M1163.1 327l28.3 -2.4 28.4 -3.1 24.4 -3.3 20.3 -3.5 20.4 -4.2 16.2 -4.1 16.3 -4.9 8.1 -2.8 8.2 -3.1 12.1 -5.4 12.2 -6.2 12.2 -7.2 12.2 -8.4 8.2 -6.4 12.2 -10.6 8.1 -7.8 17.5 -17.4 6.1 -5.6 3.6 -3 3.7 -2.5 2.4 -1.3 2.5 -0.7 1.2 0.3 1.2 0.6 1.2 1 2.5 3.1 2.4 4.5 2.4 5.5 2.1 5.3 11.4 32.2 6.1 15.4 2.8 6.4 4.1 8.2 4 7 4.1 6.1 4.1 5.3 4 4.5 4.1 3.9 4.1 3.4 4 3 4.1 2.5 4.1 2.2 4 2 8.2 3.3"/>
<path d="M1163.1 328.6l28.3 -2.1 28.4 -2.7 24.4 -2.9 20.3 -2.9 20.4 -3.6 20.3 -4.5 16.3 -4.5 8.1 -2.5 8.1 -2.8 12.2 -4.9 12.2 -5.6 12.2 -6.6 12.2 -7.7 8.1 -5.8 12.2 -9.8 8.2 -7.2 18.5 -17.4 7.3 -6.3 3.6 -2.7 2.5 -1.5 2.4 -1.2 2.5 -0.7 1.2 0.2 1.2 0.7 1.4 1.3 2.3 3.1 1.8 3.3 4 9.5 10 26.7 4.9 11.7 2.4 5.2 3.1 5.9 4 6.9 4.1 5.8 4.1 4.9 4 4.2 4.1 3.5 4.1 3 4 2.6 4.1 2.2 4.1 1.9 4 1.6 8.2 2.7"/>
<path d="M1163.1 325.6l28.3 -2 28.4 -2.4 24.4 -2.6 24.4 -3.3 20.3 -3.4 20.4 -4.2 16.2 -4.1 16.3 -5 12.2 -4.5 12.2 -5.2 12.2 -6.1 12.2 -7.1 8.1 -5.4 12.2 -9 8.1 -6.7 19.5 -16.9 6.1 -4.9 3.7 -2.6 3.3 -2 2.8 -1.3 2.4 -0.6 1.3 0.1 1.2 0.5 2.4 1.8 2.5 2.8 2.4 3.7 4.9 9.4 9.7 21.3 6.1 12.2 4.9 8.5 4.1 6.2 4 5.4 4.1 4.6 4.1 4.1 4 3.5 4.1 3.1 4.1 2.6 4 2.3 8.2 3.8"/>
<path d="M1163.1 328.3l28.3 -2.1 28.4 -2.6 24.4 -2.7 24.4 -3.4 20.3 -3.5 20.4 -4.3 16.2 -4.2 16.3 -5 12.2 -4.4 12.2 -5.1 12.2 -5.9 12.2 -6.8 12.2 -7.9 12.2 -8.8 8.1 -6.5 19.3 -16 7.3 -5.6 3.7 -2.4 3.6 -2 2.7 -1.1 2.2 -0.5 1.2 0.1 1.3 0.5 1.2 0.9 1.2 1.1 2.4 3.2 2.5 4.2 4.2 9.1 10.4 25.3 5.9 13.3 4.1 8.1 4 7.1 4.1 6.3 4.1 5.5 4 4.7 4.1 4.1 4.1 3.5 4 3.1 4.1 2.7 4.1 2.4"/>
<path d="M1163.1 322.6l32.3 -2.1 28.5 -2.2 24.4 -2.5 24.4 -3 20.3 -3.1 20.3 -3.8 16.3 -3.7 16.2 -4.5 8.2 -2.6 8.1 -2.9 12.2 -4.8 12.2 -5.7 12.2 -6.5 8.1 -4.9 12.2 -8.3 8.2 -6 20.3 -15.8 6.3 -4.5 3.6 -2.4 3.7 -1.9 2.6 -1.1 2.3 -0.4 1.8 0.3 1.8 1.2 2.5 2.6 2.4 3.7 2.5 4.5 2.4 5.2 9.8 22.6 4.8 10.3 2.5 4.8 3.8 6.7 4.1 6.2 4.1 5.4 4 4.6 4.1 4 4.1 3.4 4 2.9 4.1 2.6 4.1 2.2"/>
<path d="M1163.1 319.6l24.2 -2.9 20.3 -3.1 20.3 -3.9 16.3 -3.9 8.1 -2.3 8.2 -2.6 12.2 -4.5 12.2 -5.4 8.1 -4.2 4.1 -2.4 8.1 -5.2 4.1 -2.9 8.1 -6.4 8.1 -7.4 8.2 -8.5 8.1 -9.8 8.1 -11.1 6.9 -10.4 13.4 -21.5 4.9 -7.2 2.5 -3.2 2.4 -2.7 2.4 -1.9 1.3 -0.5 1.2 0.2 1.2 0.6 1.2 0.9 1.2 1.4 2.5 3.6 3.6 7.8 4.9 13.2 9.8 29.6 4.8 14 4.9 12.6 4.1 9.3 4.1 8.2 4 7.3 4.1 6.4 4.1 5.5 4 4.9 4.1 4.3 4.1 3.8 4 3.3 4.1 2.9 4 2.6 4.1 2.3 8.1 3.9 4.1 1.7 8.1 2.8 12.2 3.3 8.2 1.7 8.1 1.5 16.3 2.3"/>
<path d="M1163.1 315.2l24.2 -2.2 24.4 -2.9 20.3 -3.1 16.3 -3 16.2 -3.6 16.3 -4.5 8.1 -2.7 8.2 -2.9 12.2 -5.2 12.2 -6.2 8.1 -4.9 8.1 -5.5 4.1 -3.1 8.1 -6.7 8.1 -7.6 8.2 -8.6 8.1 -9.4 14.8 -18.5 6.1 -7.1 3.5 -3.5 2.6 -2.2 2.5 -1.4 1.2 -0.4 1.2 0.2 1.2 0.5 1.3 0.8 1.2 1.1 2.4 3.1 2.5 4.2 2.4 5 3.7 8.6 9.7 25.5 4.7 11.6 4.1 9.2 4 8.3 4.1 7.5 4.1 6.6 4 5.7 4.1 5.1 4 4.5 4.1 3.9 4.1 3.4 4 3.1 4.1 2.7 4.1 2.3 8.1 4 8.1 3.2 8.2 2.6 12.2 3 12.2 2.3"/>
</g>
<g stroke="#5F9AEB" stroke-width="2.7" stroke-linecap="butt" stroke-linejoin="round" clip-path="url(#clipCL)">
<path d="M1158.8 323.1l18.5 -3.7 12.2 -3 8.2 -2.2 8.1 -2.5 8.1 -2.8 12.2 -4.9 12.2 -5.9 8.1 -4.6 4.1 -2.6 8.1 -5.6 4.1 -3.2 8.1 -7 8.2 -8.2 4 -4.6 4.1 -5 4.1 -5.4 4 -5.8 4.1 -6.3 4.1 -6.7 4 -7.3 4.1 -7.8 5.4 -11.1 6.1 -13.6 10.9 -25.5 4.9 -10.3 2.5 -4.5 2.7 -3.9 0.9 -0.9 1.2 -0.7 1.3 0 2.4 0.8 1.2 0.7 2.4 2.2 1.3 1.4 1.5 2.2 2.1 3.7 3.7 7.8 3.6 9.5 2.8 8.1 12.2 38.9 8.1 24.7 4.1 11.2 4.1 10.2 4 9.4 4.1 8.4 4.1 7.6 4 6.8 4.1 6.1 4.1 5.4 4 4.9 4.1 4.4 4.1 3.9 4 3.5 4.1 3.2 4.1 2.8 4 2.6 8.2 4.5 4 1.9 8.1 3.4 12.2 4.1 8.2 2.2 8.1 1.9 8.1 1.7 12.2 2.1 20.4 2.7"/>
<path d="M1158.8 323.3l18.5 -3.7 12.2 -3 8.2 -2.3 8.1 -2.5 8.1 -2.8 12.2 -4.9 12.2 -5.9 8.1 -4.6 4.1 -2.6 8.1 -5.7 4.1 -3.1 8.1 -7.1 8.2 -8.3 4 -4.6 4.1 -5 4.1 -5.4 4 -5.8 4.1 -6.3 4.1 -6.8 4 -7.4 4.1 -7.8 5.3 -11.1 6.1 -13.6 11 -25.7 4.9 -10.4 2.4 -4.5 2.8 -4 0.9 -0.9 1.2 -0.7 1.2 0.1 2.4 0.7 1.2 0.7 2.5 2.2 1.2 1.5 1.6 2.4 2.1 3.5 3.6 8 3.7 9.7 2.8 8.3 12.2 39.6 8.1 25 4.1 11.3 4.1 10.3 4 9.5 4.1 8.5 4.1 7.6 4 6.9 4.1 6.1 4.1 5.5 4 4.9 4.1 4.4 4.1 3.9 4 3.5 4.1 3.2 4.1 2.9 4 2.5 8.2 4.5 4 1.9 8.1 3.2 8.2 2.7 8.1 2.3 8.1 1.8 8.2 1.6 16.2 2.3 8.2 0.8 12.2 0.9"/>
<path d="M1158.8 323.3l18.5 -3.8 12.2 -3 8.2 -2.2 8.1 -2.6 8.1 -2.8 12.2 -4.9 12.2 -5.9 8.1 -4.6 4.1 -2.6 8.1 -5.7 4.1 -3.2 8.1 -7.1 8.2 -8.3 4 -4.6 4.1 -5.1 4.1 -5.4 4 -5.9 4.1 -6.3 4.1 -6.9 4 -7.3 4.1 -7.9 5.2 -10.9 6.1 -13.7 11 -25.8 4.8 -10.5 2.5 -4.5 2.4 -3.7 1.2 -1.3 1.2 -0.7 1.3 0.1 2.4 0.7 1.2 0.8 1.3 1 2.4 2.6 1.7 2.6 1.9 3.4 3.7 8 3.7 9.6 2.9 8.7 12.2 39.5 8.1 24.9 4.1 11.2 4.1 10.3 4 9.4 4.1 8.4 4.1 7.6 4 6.7 4.1 6.1 4.1 5.4 4 4.8 4.1 4.3 4.1 3.9 4 3.4 4.1 3.1 4.1 2.8 4 2.4 8.2 4.2 4 1.8 8.1 3 8.2 2.4 8.1 1.8 8.1 1.5 8.2 1 8.1 0.6 8.1 0.4 8.2 0 12.2 -0.5"/>
<path d="M1158.8 323.2l18.5 -3.8 12.2 -3 8.2 -2.2 8.1 -2.5 8.1 -2.8 12.2 -4.9 12.2 -5.9 8.1 -4.7 4.1 -2.5 8.1 -5.7 4.1 -3.2 8.1 -7.1 8.2 -8.2 4 -4.6 4.1 -5.1 4.1 -5.4 4 -5.8 4.1 -6.4 4.1 -6.8 4 -7.4 4.1 -7.9 5.4 -11.3 6.1 -13.8 11 -26 4.9 -10.5 2.4 -4.6 2.7 -4 1 -0.9 1.2 -0.8 1.2 0.1 2.4 0.8 1.3 0.7 2.4 2.2 1.2 1.5 1.5 2.2 2.2 3.8 3.6 8 2.5 6.3 3.9 11.5 12.2 39.6 8.1 25.1 4.1 11.3 4.1 10.4 4 9.4 4.1 8.5 4.1 7.6 4 6.9 4.1 6.1 4.1 5.4 4 4.9 4.1 4.4 4.1 3.9 4 3.5 4.1 3.1 4.1 2.8 4 2.6 8.2 4.3 4 1.8 8.1 3.2 8.2 2.6 8.1 2.1 8.1 1.7 8.2 1.3 8.1 1 8.1 0.8 8.2 0.5 12.2 0.4"/>
<path d="M1158.8 323.1l18.5 -3.8 12.2 -2.9 8.2 -2.3 8.1 -2.5 8.1 -2.8 12.2 -4.9 12.2 -5.9 8.1 -4.7 4.1 -2.5 8.1 -5.7 4.1 -3.2 8.1 -7.1 8.2 -8.3 4 -4.6 4.1 -5.1 4.1 -5.4 4 -5.9 4.1 -6.3 4.1 -6.9 4 -7.4 4.1 -8 5.4 -11.3 6.1 -13.8 10.9 -26.1 4.9 -10.7 2.5 -4.5 2.7 -4.1 0.9 -0.9 1.2 -0.8 1.3 0.1 2.4 0.8 1.2 0.7 2.5 2.3 1.2 1.5 1.5 2.2 2.1 3.8 3.7 8.1 2.4 6.4 4 11.7 12.2 40 8.1 25.2 4.1 11.4 4.1 10.4 4 9.4 4.1 8.6 4.1 7.6 4 6.9 4.1 6.1 4.1 5.5 4 4.9 4.1 4.3 4.1 3.9 4 3.5 4.1 3.2 4.1 2.8 4 2.5 8.2 4.3 4 1.8 8.1 3.2 8.2 2.5 8.1 2.1 8.1 1.6 8.2 1.3 8.1 1 8.1 0.7 8.2 0.4 12.2 0.2"/>
<path d="M1158.8 323.1l18.5 -3.8 12.2 -3 8.2 -2.2 8.1 -2.6 8.1 -2.8 12.2 -4.9 12.2 -6 8.1 -4.6 4.1 -2.6 8.1 -5.8 4.1 -3.2 8.1 -7.1 8.2 -8.4 4 -4.6 4.1 -5.1 4.1 -5.5 4 -5.9 4.1 -6.5 4.1 -6.9 4 -7.5 4.1 -8 5.1 -10.8 6.1 -13.9 10.9 -26.2 4.9 -10.8 2.5 -4.6 2.4 -3.7 1.2 -1.3 1.2 -0.7 1.3 0 2.4 0.8 1.2 0.8 1.4 1.1 2.3 2.6 1.8 2.8 1.8 3.3 3.7 8.1 3.7 9.9 3 9.2 12.2 40 8.1 25.2 4.1 11.3 4.1 10.3 4 9.4 4.1 8.4 4.1 7.6 4 6.8 4.1 6.1 4.1 5.5 4 4.8 4.1 4.4 4.1 3.9 4 3.5 4.1 3.2 4.1 2.8 8.1 4.9 4.1 2.1 8.1 3.7 8.1 3.1 8.1 2.6 8.2 2.2 8.1 2 8.1 1.6 12.2 2.2 20.4 2.9"/>
<path d="M1158.8 323.3l18.5 -3.8 12.2 -3 8.2 -2.3 8.1 -2.5 8.1 -2.8 12.2 -5 12.2 -5.9 8.1 -4.7 4.1 -2.6 8.1 -5.7 4.1 -3.3 8.1 -7.1 8.2 -8.4 4 -4.7 4.1 -5.1 4.1 -5.5 4 -6 4.1 -6.4 4.1 -7 4 -7.5 4.1 -8 5.1 -10.9 6.1 -14 11 -26.5 4.8 -10.8 2.5 -4.6 2.4 -3.7 1.2 -1.4 1.3 -0.7 1.2 0.1 2.4 0.7 1.2 0.8 1.4 1.2 2.3 2.6 1.8 2.7 1.9 3.4 3.6 8.2 3.7 9.9 3 9.3 12.2 40.3 8.1 25.3 4.1 11.3 4.1 10.4 4 9.4 4.1 8.5 4.1 7.6 4 6.8 4.1 6.1 4.1 5.5 4 4.8 4.1 4.4 4.1 3.9 4 3.4 4.1 3.2 4.1 2.8 4 2.5 8.2 4.4 4 1.8 8.1 3.2 8.2 2.7 8.1 2.2 8.1 1.8 8.2 1.4 16.2 2.2 8.2 0.7 12.2 0.8"/>
<path d="M1158.8 323.2l18.5 -3.7 12.2 -3 8.2 -2.3 8.1 -2.5 8.1 -2.8 12.2 -4.9 12.2 -5.9 8.1 -4.6 4.1 -2.6 8.1 -5.7 4.1 -3.2 8.1 -7.2 8.2 -8.3 4 -4.6 4.1 -5.1 4.1 -5.5 4 -5.9 4.1 -6.4 4.1 -6.9 4 -7.5 4.1 -8 5.5 -11.9 6.1 -14 11 -26.6 4.9 -10.9 2.4 -4.6 2.6 -4 1.1 -1.1 1.2 -0.8 1.2 0.1 2.5 0.8 1.2 0.7 2.4 2.3 1.2 1.6 1.4 2.1 2.3 4.1 3.6 8.4 2.5 6.6 3.8 11.5 12.2 41 8.1 25.9 4.1 11.6 4.1 10.7 4 9.6 4.1 8.8 4.1 7.8 4 7 4.1 6.2 4.1 5.6 4 5 4.1 4.5 4.1 4 4 3.6 4.1 3.3 4.1 2.9 4 2.6 8.2 4.5 4 2 8.1 3.4 12.2 4.1 8.2 2.3 8.1 1.9 8.1 1.6 12.2 2.1 20.4 2.7"/>
<path d="M1158.8 323.2l18.5 -3.8 12.2 -3 8.2 -2.3 8.1 -2.5 8.1 -2.8 12.2 -5 12.2 -6 8.1 -4.7 4.1 -2.6 8.1 -5.8 4.1 -3.2 8.1 -7.2 8.2 -8.5 4 -4.7 4.1 -5.1 4.1 -5.6 4 -6 4.1 -6.5 4.1 -7 4 -7.6 4.1 -8.2 5 -10.7 6.1 -14.1 10.9 -26.8 4.9 -10.9 2.4 -4.7 2.5 -3.8 1.2 -1.3 1.2 -0.8 1.2 0.1 2.5 0.8 1.2 0.8 1.5 1.3 2.2 2.5 1.9 3.1 1.7 3.2 3.7 8.4 2.7 7.5 3.4 10.1 12.9 43.4 8.1 25.7 4.1 11.4 4.1 10.5 4 9.5 4.1 8.6 4.1 7.6 4 6.9 4.1 6.1 4.1 5.5 4 4.9 4.1 4.3 4.1 3.9 4 3.5 4.1 3.1 4.1 2.9 4 2.5 8.2 4.3 4 1.9 8.1 3.2 8.2 2.6 8.1 2.1 8.1 1.7 8.2 1.4 8.1 1.1 8.1 0.8 8.2 0.6 12.2 0.5"/>
<path d="M1158.8 323.1l18.5 -3.8 12.2 -3 8.2 -2.2 8.1 -2.6 8.1 -2.8 12.2 -4.9 12.2 -6 8.1 -4.7 4.1 -2.6 8.1 -5.7 4.1 -3.2 8.1 -7.2 8.2 -8.4 4 -4.8 4.1 -5.1 4.1 -5.5 4 -6 4.1 -6.5 4.1 -7 4 -7.6 4.1 -8.1 5.2 -11.3 6.1 -14.2 11 -26.9 4.9 -11 2.4 -4.7 2.9 -4.4 0.8 -0.8 1.2 -0.8 1.2 0.1 2.5 0.8 1.2 0.8 1.2 1 2.4 2.8 1.7 2.6 2 3.6 3.7 8.3 3.6 10.1 2.9 8.8 12.2 40.7 8.1 25.4 4.1 11.4 4.1 10.4 4 9.5 4.1 8.4 4.1 7.7 4 6.8 4.1 6 4.1 5.5 4 4.8 4.1 4.3 4.1 3.9 4 3.4 4.1 3.1 4.1 2.8 4 2.5 8.2 4.2 4 1.8 8.1 3.1 8.2 2.6 8.1 2 8.1 1.6 8.2 1.2 8.1 1 8.1 0.6 8.2 0.5 12.2 0.2"/>
<path d="M1158.8 323.2l18.5 -3.8 12.2 -2.9 8.2 -2.3 8.1 -2.5 8.1 -2.8 12.2 -5 12.2 -5.9 8.1 -4.6 4.1 -2.6 8.1 -5.8 4.1 -3.1 8.1 -7.2 8.2 -8.4 4 -4.7 4.1 -5 4.1 -5.6 4 -5.9 4.1 -6.5 4.1 -7 4 -7.5 4.1 -8.1 5.6 -12.2 6.1 -14.3 11 -27 4.9 -11.1 2.4 -4.8 2.5 -3.9 1.2 -1.3 1.2 -0.7 1.2 0 2.5 0.8 1.2 0.8 2.4 2.3 1.2 1.6 1.3 1.9 2.4 4.3 3.7 8.4 2.4 6.6 3.7 11.3 12.2 40.9 8.1 25.8 4.1 11.5 4.1 10.6 4 9.6 4.1 8.6 4.1 7.8 4 6.9 4.1 6.2 4.1 5.5 4 4.9 4.1 4.3 4.1 4 4 3.4 4.1 3.2 4.1 2.8 4 2.5 8.2 4.3 4 1.8 8.1 3.1 8.2 2.4 8.1 2 8.1 1.5 8.2 1.2 8.1 0.8 8.1 0.6 8.2 0.2 12.2 0"/>
<path d="M1158.8 323.3l18.5 -3.8 12.2 -3 8.2 -2.3 8.1 -2.5 8.1 -2.9 12.2 -5 12.2 -6 8.1 -4.7 4.1 -2.6 8.1 -5.8 4.1 -3.3 8.1 -7.3 8.2 -8.5 4 -4.7 4.1 -5.2 4.1 -5.6 4 -6.1 4.1 -6.6 4.1 -7.1 4 -7.7 4.1 -8.2 4.9 -10.8 6.1 -14.4 11 -27.3 4.9 -11.1 2.4 -4.8 2.5 -3.9 1.2 -1.4 1.2 -0.7 1.2 0.1 2.5 0.8 1.2 0.8 1.5 1.4 2.1 2.5 2 3.2 1.7 3.2 3.7 8.6 2.7 7.8 3.4 10.3 12.9 44.3 4.1 13.4 4 12.6 4.1 11.7 4.1 10.6 4 9.6 4.1 8.6 4.1 7.7 4 7 4.1 6.1 4.1 5.5 4 4.9 4.1 4.4 4.1 3.9 4 3.5 4.1 3.2 4.1 2.8 4 2.6 8.2 4.3 4 1.9 8.1 3.2 8.2 2.6 8.1 2.2 8.1 1.7 8.2 1.4 8.1 1.2 8.1 0.8 8.2 0.7 12.2 0.6"/>
<path d="M1158.8 323.2l18.5 -3.8 12.2 -3 8.2 -2.3 8.1 -2.5 8.1 -2.8 12.2 -5 12.2 -6 8.1 -4.6 4.1 -2.6 8.1 -5.8 4.1 -3.3 8.1 -7.2 8.2 -8.5 4 -4.7 4.1 -5.2 4.1 -5.5 4 -6.1 4.1 -6.5 4.1 -7.1 4 -7.7 4.1 -8.2 5.3 -11.6 6.1 -14.4 11 -27.4 4.8 -11.2 2.5 -4.8 2.8 -4.4 0.8 -0.9 1.2 -0.8 1.3 0.1 2.4 0.8 1.2 0.8 2.5 2.4 1.2 1.6 1.6 2.5 2 3.9 3.7 8.6 3.7 10.4 2.8 9.1 12.2 41.9 8.1 26.2 4.1 11.7 4.1 10.7 4 9.7 4.1 8.8 4.1 7.8 4 6.9 4.1 6.3 4.1 5.5 4 5 4.1 4.5 4.1 3.9 4 3.6 4.1 3.2 4.1 2.9 4 2.6 8.2 4.5 4 2 8.1 3.4 12.2 4.1 8.2 2.2 8.1 1.9 8.1 1.7 12.2 2.1 20.4 2.8"/>
<path d="M1158.8 323.2l18.5 -3.8 12.2 -3 8.2 -2.2 8.1 -2.6 8.1 -2.8 12.2 -5 12.2 -5.9 8.1 -4.7 4.1 -2.6 8.1 -5.8 4.1 -3.3 8.1 -7.2 8.2 -8.5 4 -4.7 4.1 -5.2 4.1 -5.6 4 -6 4.1 -6.6 4.1 -7.1 4 -7.7 4.1 -8.3 5.3 -11.7 6.1 -14.5 11 -27.5 4.9 -11.3 2.4 -4.9 2.8 -4.3 0.9 -1 1.2 -0.8 1.2 0.1 2.5 0.8 1.2 0.8 2.4 2.3 1.2 1.6 1.6 2.5 2.1 3.9 3.7 8.5 2.4 6.8 3.7 11.2 12.5 42.5 4.1 13.4 4 12.5 4.1 11.6 4.1 10.5 4 9.6 4.1 8.6 4.1 7.7 4 6.9 4.1 6.1 4.1 5.4 4 4.9 4.1 4.4 4.1 3.8 4 3.5 4.1 3.1 4.1 2.8 4 2.5 8.2 4.3 4 1.8 8.1 3.1 8.2 2.6 8.1 2 8.1 1.6 8.2 1.3 8.1 1 8.1 0.7 8.2 0.5 12.2 0.3"/>
<path d="M1158.8 323.2l18.5 -3.8 12.2 -3 8.2 -2.3 8.1 -2.5 8.1 -2.8 12.2 -5 12.2 -5.9 8.1 -4.7 4.1 -2.6 8.1 -5.8 4.1 -3.3 8.1 -7.2 8.2 -8.5 4 -4.7 4.1 -5.2 4.1 -5.6 4 -6 4.1 -6.6 4.1 -7.1 4 -7.7 4.1 -8.3 5.5 -12 6 -14.6 11 -27.7 4.9 -11.3 2.4 -4.9 2.7 -4.3 1 -1.1 1.2 -0.8 1.2 0.1 2.5 0.8 1.2 0.8 2.4 2.4 1.3 1.7 1.4 2.3 2.2 4.2 3.7 8.7 2.4 6.8 3.9 12.2 12.2 42.2 4.1 13.5 4 12.8 4.1 11.8 4.1 10.7 4 9.8 4.1 8.7 4.1 7.8 4 7 4.1 6.2 4.1 5.6 4 5 4.1 4.4 4.1 3.9 4 3.6 4.1 3.1 4.1 2.9 4 2.5 8.2 4.3 4 1.9 8.1 3.2 8.2 2.6 8.1 2.1 8.1 1.7 8.2 1.3 8.1 1 8.1 0.8 8.2 0.6 12.2 0.3"/>
<path d="M1158.8 323.2l18.5 -3.7 12.2 -3 8.2 -2.3 8.1 -2.6 8.1 -2.8 12.2 -5 12.2 -6 8.1 -4.8 4.1 -2.6 8.1 -5.8 4.1 -3.3 8.1 -7.3 8.2 -8.5 4 -4.9 4.1 -5.2 4.1 -5.6 4 -6.2 4.1 -6.6 4.1 -7.2 4 -7.8 4.1 -8.3 5.1 -11.4 6.1 -14.7 11 -27.8 4.9 -11.4 2.4 -5 2.4 -3.9 1.3 -1.5 1.2 -0.8 1.2 0.1 2.4 0.9 1.3 0.8 1.3 1.2 2.3 2.8 1.8 3 1.9 3.6 3.6 8.8 2.6 7.4 3.5 11 12.8 44.4 4.1 13.6 4 12.7 4.1 11.8 4.1 10.7 4 9.7 4.1 8.7 4.1 7.8 4 6.9 4.1 6.2 4.1 5.6 4 4.9 4.1 4.4 4.1 4 4 3.5 4.1 3.2 4.1 2.9 8.1 5 4.1 2.1 8.1 3.7 8.1 3.1 8.1 2.6 8.2 2.3 8.1 1.9 8.1 1.7 12.2 2.1 20.4 3"/>
<path d="M1158.8 323.3l18.5 -3.8 12.2 -3 8.2 -2.2 8.1 -2.6 8.1 -2.8 12.2 -4.9 12.2 -6 8.1 -4.7 4.1 -2.6 8.1 -5.8 4.1 -3.2 8.1 -7.3 8.2 -8.5 4 -4.7 4.1 -5.2 4.1 -5.6 4 -6.1 4.1 -6.6 4.1 -7.1 4 -7.7 4.1 -8.4 5.7 -12.5 6.1 -14.8 12.1 -31 4.6 -10.3 1.5 -3.1 2.5 -4 1.2 -1.4 1.2 -0.8 1.2 0 2.5 0.9 1.2 0.8 2.4 2.5 1.3 1.6 1.2 2 2.4 4.6 3.7 8.9 2.4 6.9 3.7 11.7 12.2 42.7 4.1 13.7 4 12.9 4.1 12 4.1 10.8 4 9.9 4.1 8.8 4.1 7.9 4 7.1 4.1 6.3 4.1 5.6 4 5 4.1 4.4 4.1 4 4 3.5 4.1 3.2 4.1 2.8 4 2.6 8.2 4.3 4 1.8 8.1 3.2 8.2 2.5 8.1 2 8.1 1.5 8.2 1.2 8.1 0.8 8.1 0.6 8.2 0.3 12.2 -0.1"/>
<path d="M1158.8 323.1l18.5 -3.7 12.2 -3.1 8.2 -2.3 8.1 -2.5 8.1 -2.9 12.2 -5 12.2 -6 8.1 -4.8 4.1 -2.6 8.1 -5.9 4.1 -3.3 8.1 -7.3 8.2 -8.6 4 -4.9 4.1 -5.2 4.1 -5.7 4 -6.2 4.1 -6.7 4.1 -7.3 4 -7.8 4.1 -8.5 5 -11.1 6.1 -14.8 12.1 -31.2 3.7 -8.6 2.4 -4.9 2.5 -4.1 1.2 -1.4 1.2 -0.8 1.2 0.1 2.5 0.8 1.2 0.8 1.5 1.4 2.2 2.7 1.9 3.3 1.7 3.4 3.7 8.8 2.7 8 3.4 10.6 12.9 45.3 4.1 13.6 4 12.8 4.1 11.7 4.1 10.7 4 9.7 4.1 8.7 4.1 7.7 4 7 4.1 6.1 4.1 5.6 4 4.9 4.1 4.4 4.1 3.9 4 3.5 4.1 3.2 4.1 2.8 8.1 4.9 4.1 2.2 8.1 3.6 8.1 3.1 8.1 2.6 8.2 2.2 8.1 1.9 8.1 1.6 12.2 2.1 20.4 2.8"/>
<path d="M1158.8 323.3l18.5 -3.8 12.2 -3 8.2 -2.3 8.1 -2.6 8.1 -2.8 12.2 -5.1 12.2 -6 8.1 -4.8 4.1 -2.6 8.1 -5.9 4.1 -3.3 8.1 -7.4 8.2 -8.7 4 -4.8 4.1 -5.3 4.1 -5.7 4 -6.2 4.1 -6.8 4.1 -7.3 4 -7.9 4.1 -8.5 4.9 -11.1 6.1 -14.9 12.2 -31.3 3.7 -8.6 2.4 -5.1 2.4 -4 1.3 -1.5 1.2 -0.8 1.2 0.1 2.4 0.8 1.3 0.8 1.5 1.5 2.1 2.6 2 3.3 1.7 3.3 3.6 8.8 2.8 8 3.3 10.5 13 45 4.1 13.5 4 12.6 4.1 11.6 4.1 10.6 4 9.6 4.1 8.5 4.1 7.7 4 6.8 4.1 6 4.1 5.4 4 4.8 4.1 4.3 4.1 3.8 4 3.4 4.1 3.1 4.1 2.7 4 2.4 8.2 4.2 4 1.7 8.1 2.9 8.2 2.4 8.1 1.8 8.1 1.4 8.2 1 8.1 0.6 8.1 0.4 8.2 0 12.2 -0.4"/>
<path d="M1158.8 323.1l18.5 -3.8 12.2 -3 8.2 -2.3 8.1 -2.5 8.1 -2.9 12.2 -5 12.2 -6 8.1 -4.7 4.1 -2.7 8.1 -5.8 4.1 -3.3 8.1 -7.3 8.2 -8.6 4 -4.8 4.1 -5.3 4.1 -5.7 4 -6.1 4.1 -6.8 4.1 -7.2 4 -7.9 4.1 -8.4 5.3 -12 6.1 -14.9 12.2 -31.5 3.7 -8.7 2.4 -5 2.8 -4.6 0.9 -1 1.2 -0.8 1.2 0.1 2.4 0.9 1.2 0.8 2.5 2.5 1.2 1.7 1.6 2.6 2.1 4.1 3.6 8.9 2.5 7.1 3.6 11.7 12.6 44.5 4.1 13.8 4 12.9 4.1 11.9 4.1 10.8 4 9.8 4.1 8.8 4.1 7.9 4 7 4.1 6.2 4.1 5.6 4 4.9 4.1 4.4 4.1 4 4 3.5 4.1 3.2 4.1 2.9 4 2.5 8.2 4.5 4 1.9 8.1 3.2 12.2 4 8.2 2 8.1 1.8 8.1 1.5 12.2 1.7 20.4 2.1"/>
<path d="M1158.8 323.1l18.5 -3.7 12.2 -3.1 8.2 -2.3 8.1 -2.5 8.1 -2.9 12.2 -5 8.1 -3.9 4.1 -2.2 8.1 -4.8 4.1 -2.6 8.1 -5.9 4.1 -3.3 8.1 -7.5 8.2 -8.6 4 -4.9 4.1 -5.3 4.1 -5.8 4 -6.2 4.1 -6.8 4.1 -7.3 4 -8 4.1 -8.6 4.9 -11.2 6.1 -15 12.2 -31.7 3.7 -8.7 2.4 -5.1 2.5 -4.1 1.2 -1.4 1.2 -0.9 1.2 0.1 2.5 0.9 1.2 0.8 1.5 1.5 2.1 2.7 2 3.3 1.7 3.4 3.6 9.1 2.8 8.1 3.3 10.7 13 45.9 4.1 13.7 4 12.9 4.1 11.8 4.1 10.7 4 9.7 4.1 8.7 4.1 7.7 4 7 4.1 6.1 4.1 5.5 4 4.9 4.1 4.3 4.1 3.9 4 3.5 4.1 3.1 4.1 2.8 4 2.5 8.2 4.3 4 1.9 8.1 3.1 8.2 2.6 8.1 2.1 8.1 1.7 8.2 1.4 8.1 1.1 8.1 0.9 8.2 0.6 12.2 0.6"/>
<path d="M1158.8 323.2l18.5 -3.8 12.2 -3 8.2 -2.3 8.1 -2.6 8.1 -2.9 12.2 -5 8.1 -3.9 4.1 -2.2 8.1 -4.7 4.1 -2.7 8.1 -5.9 4.1 -3.3 8.1 -7.4 8.2 -8.7 4 -4.9 4.1 -5.3 4.1 -5.8 4 -6.2 4.1 -6.8 4.1 -7.3 4 -8 4.1 -8.6 5 -11.5 6.1 -15.1 12.2 -31.8 3.7 -8.8 2.4 -5.1 2.5 -4.1 1.2 -1.5 1.2 -0.9 1.2 0.1 2.5 0.9 1.2 0.8 1.4 1.4 2.2 2.8 1.9 3.2 1.8 3.5 3.7 9 2.6 7.8 3.4 11 12.9 45.3 4.1 13.7 4 12.8 4.1 11.7 4.1 10.7 4 9.7 4.1 8.6 4.1 7.8 4 6.9 4.1 6.1 4.1 5.5 4 4.8 4.1 4.4 4.1 3.9 4 3.5 4.1 3.1 4.1 2.8 4 2.5 8.2 4.4 4 1.9 8.1 3.3 12.2 3.9 8.2 2.2 8.1 1.8 8.1 1.5 12.2 2 20.4 2.5"/>
<path d="M1158.8 323.3l18.5 -3.8 12.2 -3 8.2 -2.3 8.1 -2.6 8.1 -2.8 12.2 -5 12.2 -6.1 8.1 -4.8 4.1 -2.6 8.1 -5.9 4.1 -3.3 8.1 -7.4 8.2 -8.6 4 -4.9 4.1 -5.3 4.1 -5.7 4 -6.3 4.1 -6.7 4.1 -7.4 4 -7.9 4.1 -8.6 5.3 -12.2 6.1 -15.1 12.2 -32.1 3.7 -8.8 2.4 -5.2 2.8 -4.6 0.9 -1 1.2 -0.8 1.2 0.1 1.2 0.3 1.2 0.5 1.3 0.9 2.4 2.5 1.2 1.7 1.6 2.7 2.1 4.1 3.6 9.1 2.5 7.2 3.6 11.9 12.6 44.8 4.1 13.9 4 13 4.1 12 4.1 10.9 4 9.8 4.1 8.8 4.1 7.9 4 7 4.1 6.2 4.1 5.6 4 4.9 4.1 4.5 4.1 3.9 4 3.6 4.1 3.1 4.1 2.9 8.1 4.9 4.1 2.1 8.1 3.7 8.1 3.1 8.1 2.6 8.2 2.2 8.1 1.9 8.1 1.6 12.2 2.1 20.4 2.8"/>
<path d="M1158.8 323.2l18.5 -3.8 12.2 -3 8.2 -2.2 8.1 -2.6 8.1 -2.8 12.2 -5 12.2 -6.1 8.1 -4.7 4.1 -2.6 8.1 -5.9 4.1 -3.3 8.1 -7.4 8.2 -8.6 4 -4.8 4.1 -5.3 4.1 -5.7 4 -6.2 4.1 -6.8 4.1 -7.3 4 -7.9 4.1 -8.6 5.6 -12.8 6.1 -15.2 12.2 -32.2 4.6 -10.9 2.7 -5.4 1.3 -2.1 1.1 -1.4 1.3 -0.8 1.2 0.1 1.2 0.3 1.2 0.5 1.2 0.9 2.5 2.6 1.2 1.7 1.3 2.2 2.4 4.6 3.6 9.2 2.4 7.2 3.7 12 12.3 44.2 4.1 14.1 4 13.1 4.1 12.1 4.1 11 4 9.9 4.1 8.9 4.1 7.9 4 7.1 4.1 6.3 4.1 5.6 4 4.9 4.1 4.5 4.1 3.9 4 3.6 4.1 3.1 4.1 2.8 4 2.6 8.2 4.3 4 1.8 8.1 3.1 8.2 2.5 8.1 2 8.1 1.6 8.2 1.3 8.1 0.9 8.1 0.6 8.2 0.4 12.2 0.1"/>
<path d="M1158.8 323.2l18.5 -3.8 12.2 -3 8.2 -2.3 8.1 -2.5 8.1 -2.9 12.2 -5 12.2 -6.1 8.1 -4.7 4.1 -2.7 8.1 -5.9 4.1 -3.3 8.1 -7.3 8.2 -8.7 4 -4.9 4.1 -5.3 4.1 -5.7 4 -6.3 4.1 -6.8 4.1 -7.3 4 -8 4.1 -8.6 5.5 -12.6 6.1 -15.3 12.2 -32.4 4.7 -11.2 2.6 -5.2 1.4 -2.2 1 -1.3 1.2 -0.8 1.3 0.1 1.2 0.3 1.2 0.6 1.2 0.8 2.5 2.6 1.2 1.7 1.4 2.5 2.2 4.5 3.7 9.2 2.4 7.3 3.7 12.1 12.4 44.8 4.1 14.1 4 13.2 4.1 12.1 4.1 11 4 9.9 4.1 8.9 4.1 8 4 7 4.1 6.3 4.1 5.6 4 5 4.1 4.5 4.1 3.9 4 3.6 4.1 3.1 4.1 2.9 4 2.6 8.2 4.3 4 1.9 8.1 3.2 8.2 2.7 8.1 2.1 8.1 1.8 8.2 1.4 16.2 2.1 8.2 0.8 12.2 0.7"/>
<path d="M1158.8 323.1l18.5 -3.8 12.2 -3 8.2 -2.3 8.1 -2.6 8.1 -2.9 12.2 -5 8.1 -3.9 4.1 -2.2 8.1 -4.7 4.1 -2.7 8.1 -5.9 4.1 -3.3 8.1 -7.5 8.2 -8.7 4 -4.9 4.1 -5.3 4.1 -5.8 4 -6.3 4.1 -6.8 4.1 -7.5 4 -8 4.1 -8.7 5.3 -12.2 6.1 -15.3 12.2 -32.6 4.8 -11.7 2.5 -4.7 1.6 -2.6 0.8 -0.9 1.2 -0.9 1.2 0.1 1.3 0.3 1.2 0.6 1.2 0.8 1.2 1.2 2.5 3.2 1.6 2.8 2 4.1 3.7 9.3 2.4 7.3 3.7 12 12.6 45.5 4.1 14 4 13.1 4.1 12 4.1 10.9 4 9.8 4.1 8.7 4.1 7.9 4 7 4.1 6.1 4.1 5.6 4 4.9 4.1 4.3 4.1 3.9 4 3.4 4.1 3.1 4.1 2.8 4 2.4 8.2 4.2 4 1.7 8.1 3 8.2 2.3 8.1 1.8 8.1 1.4 8.2 1 8.1 0.6 8.1 0.3 8.2 0 12.2 -0.6"/>
<path d="M1158.8 323.3l18.5 -3.8 12.2 -3 8.2 -2.3 8.1 -2.6 8.1 -2.8 12.2 -5 8.1 -3.9 4.1 -2.2 8.1 -4.8 4.1 -2.6 8.1 -6 4.1 -3.3 8.1 -7.4 8.2 -8.7 4 -4.9 4.1 -5.3 4.1 -5.8 4 -6.3 4.1 -6.8 4.1 -7.4 4 -8.1 4.1 -8.6 5.5 -12.8 6.1 -15.5 12.2 -32.7 4.7 -11.3 2.6 -5.3 1.4 -2.2 1 -1.3 1.3 -0.9 1.2 0.1 1.2 0.3 1.2 0.6 1.2 0.9 2.5 2.6 1.2 1.7 1.4 2.4 2.3 4.6 3.6 9.3 2.5 7.3 3.6 12.2 12.4 44.9 4.1 14.1 4 13.2 4.1 12.1 4.1 11 4 9.9 4.1 8.9 4.1 7.9 4 7 4.1 6.3 4.1 5.6 4 4.9 4.1 4.4 4.1 3.9 4 3.5 4.1 3.1 4.1 2.8 4 2.5 8.2 4.2 4 1.7 8.1 3 8.2 2.4 8.1 1.9 8.1 1.4 8.2 1 8.1 0.7 8.1 0.4 8.2 0 12.2 -0.4"/>
<path d="M1158.8 323.2l18.5 -3.8 12.2 -3 8.2 -2.3 8.1 -2.6 8.1 -2.9 12.2 -5 8.1 -3.9 4.1 -2.2 8.1 -4.8 4.1 -2.7 8.1 -5.9 4.1 -3.4 8.1 -7.5 8.2 -8.7 4 -5 4.1 -5.3 4.1 -5.9 4 -6.3 4.1 -6.9 4.1 -7.5 4 -8.1 4.1 -8.8 5.2 -12.1 6.1 -15.5 12.2 -32.9 4.9 -11.9 2.4 -4.8 1.7 -2.7 0.7 -0.9 1.2 -0.8 1.3 0 1.2 0.4 1.2 0.5 1.2 0.9 1.3 1.3 2.4 3.1 1.7 3 1.9 4 3.7 9.4 2.5 7.6 3.6 11.9 12.7 46.2 4.1 14.1 4 13.1 4.1 12.1 4.1 10.9 4 9.9 4.1 8.8 4.1 7.8 4 7 4.1 6.3 4.1 5.5 4 4.9 4.1 4.4 4.1 3.9 4 3.5 4.1 3.2 4.1 2.8 4 2.5 8.2 4.4 4 1.9 8.1 3.2 12.2 3.8 8.2 2.1 8.1 1.7 8.1 1.4 12.2 1.7 20.4 1.9"/>
<path d="M1158.8 323.2l18.5 -3.8 12.2 -3 8.2 -2.4 8.1 -2.5 8.1 -2.9 12.2 -5.1 8.1 -3.9 4.1 -2.2 8.1 -4.8 4.1 -2.6 8.1 -6 4.1 -3.3 8.1 -7.5 4.1 -4.2 4.1 -4.6 4 -5 4.1 -5.3 4.1 -5.9 4 -6.3 4.1 -7 4.1 -7.5 4 -8.1 4.1 -8.8 5.2 -12.3 6.1 -15.5 12.2 -33.1 4.9 -11.9 2.4 -4.9 1.7 -2.6 0.8 -1 1.2 -0.8 1.2 0.1 1.2 0.3 1.3 0.6 1.2 0.8 2.4 2.7 1.2 1.8 2.5 4.4 3.6 8.7 2.5 7 3.6 11.8 13.9 50.6 4.1 14.2 4 13.2 4.1 12.1 4.1 11 4 9.9 4.1 8.8 4.1 7.9 4 7.1 4.1 6.2 4.1 5.5 4 5 4.1 4.3 4.1 3.9 4 3.5 4.1 3.2 4.1 2.7 4 2.5 8.2 4.3 4 1.8 8.1 3.1 8.2 2.5 8.1 2 8.1 1.6 8.2 1.2 8.1 1 8.1 0.6 8.2 0.5 12.2 0.1"/>
<path d="M1158.8 323.3l18.5 -3.8 12.2 -3.1 8.2 -2.2 8.1 -2.6 8.1 -2.9 12.2 -5 8.1 -3.9 8.2 -4.5 8.1 -5.2 4.1 -2.8 8.1 -6.4 4.1 -3.6 8.1 -8.1 4.1 -4.5 4 -5 4.1 -5.3 4.1 -5.8 4 -6.4 4.1 -6.9 4.1 -7.5 4 -8.1 4.1 -8.7 5.5 -13.1 6.7 -17.1 11.6 -31.8 4.7 -11.4 2.6 -5.5 1.4 -2.2 1.1 -1.3 1.2 -0.9 1.2 0.1 1.2 0.3 1.3 0.6 1.2 0.9 2.4 2.6 1.2 1.8 2.5 4.5 3.6 8.7 2.5 7 3.6 11.9 13.6 49.7 4.1 14.3 4 13.3 4.1 12.2 4.1 11.1 4 9.9 4.1 9 4.1 7.9 4 7.1 4.1 6.3 4.1 5.5 4 5 4.1 4.4 4.1 3.9 4 3.5 4.1 3.1 4.1 2.7 4 2.5 8.2 4.2 4 1.8 8.1 2.9 8.2 2.3 8.1 1.9 8.1 1.3 8.2 1 8.1 0.5 8.1 0.3 8.2 0 12.2 -0.7"/>
<path d="M1158.8 323.3l18.5 -3.8 12.2 -3.1 8.2 -2.3 8.1 -2.6 8.1 -2.9 12.2 -5 8.1 -4 4.1 -2.2 8.1 -4.8 4.1 -2.7 8.1 -6.1 4.1 -3.3 8.1 -7.6 4.1 -4.2 4.1 -4.7 4 -5 4.1 -5.4 4.1 -5.9 4 -6.5 4.1 -7 4.1 -7.6 4 -8.2 4.1 -8.9 5 -11.8 6.1 -15.7 12.2 -33.5 4.8 -12.1 2.5 -4.9 1.9 -3 0.5 -0.6 1.2 -0.9 1.3 0.1 1.2 0.3 1.2 0.6 1.2 0.9 1.5 1.5 2.2 2.9 1.9 3.5 1.7 3.7 3.7 9.5 2.7 8.4 3.4 11.4 12.9 47.5 4.1 14.1 4 13.2 4.1 12.1 4.1 10.9 4 9.8 4.1 8.8 4.1 7.8 4 7 4.1 6.2 4.1 5.5 4 4.9 4.1 4.4 4.1 3.9 4 3.5 4.1 3.1 4.1 2.8 8.1 4.9 4.1 2.1 8.1 3.6 8.1 3 8.1 2.5 8.2 2.2 8.1 1.8 8.1 1.6 12.2 2.1 20.4 2.7"/>
<path d="M1158.8 323.2l18.5 -3.8 12.2 -3.1 8.2 -2.3 8.1 -2.5 8.1 -2.9 12.2 -5.1 8.1 -3.9 8.2 -4.5 8.1 -5.2 4.1 -2.9 8.1 -6.4 4.1 -3.6 8.1 -8.2 4.1 -4.6 4 -4.9 4.1 -5.4 4.1 -5.9 4 -6.4 4.1 -7 4.1 -7.5 4 -8.2 4.1 -8.9 5.3 -12.7 6.9 -17.8 11.4 -31.6 4.9 -12 2.5 -5.1 1.5 -2.5 0.9 -1.1 1.2 -0.9 1.2 0.1 1.3 0.3 1.2 0.6 1.2 0.9 2.4 2.8 1.2 1.8 1.6 2.8 2.1 4.5 3.7 9.7 2.4 7.5 3.7 12.6 12.5 47 4.1 14.5 4 13.5 4.1 12.3 4.1 11.2 4 10.1 4.1 9 4.1 8.1 4 7.1 4.1 6.4 4.1 5.6 4 5 4.1 4.5 4.1 4 4 3.6 4.1 3.2 4.1 2.9 8.1 4.9 4.1 2.1 8.1 3.7 8.1 3.1 8.1 2.5 8.2 2.2 8.1 1.8 8.1 1.6 12.2 2 20.4 2.6"/>
<path d="M1158.8 323.3l18.5 -3.8 12.2 -3 8.2 -2.3 8.1 -2.6 8.1 -2.9 12.2 -5 8.1 -3.9 8.2 -4.5 8.1 -5.2 4.1 -2.9 8.1 -6.4 4.1 -3.6 8.1 -8.1 4.1 -4.6 4 -4.9 4.1 -5.4 4.1 -5.9 4 -6.4 4.1 -6.9 4.1 -7.5 4 -8.2 4.1 -8.9 5.6 -13.4 6.6 -17.1 11.7 -32.5 4.6 -11.4 1.5 -3.4 2.5 -4.6 1.2 -1.5 1.2 -0.9 1.2 0.1 1.2 0.4 1.3 0.6 1.2 0.9 2.4 2.7 1.2 1.8 2.5 4.6 3.6 8.9 3.3 9.9 2.8 9.4 13.5 50.3 4.1 14.5 4 13.5 4.1 12.4 4.1 11.3 4 10.1 4.1 9 4.1 8 4 7.2 4.1 6.3 4.1 5.7 4 5 4.1 4.5 4.1 3.9 4 3.6 4.1 3.1 4.1 2.8 4 2.6 8.2 4.3 4 1.8 8.1 3.1 8.2 2.5 8.1 2 8.1 1.6 8.2 1.2 8.1 0.9 8.1 0.6 8.2 0.4 12.2 0.1"/>
<path d="M1158.8 323.2l18.5 -3.8 12.2 -3 8.2 -2.3 8.1 -2.6 8.1 -2.9 12.2 -5.1 8.1 -4 8.2 -4.5 8.1 -5.2 4.1 -2.9 8.1 -6.5 4.1 -3.6 8.1 -8.2 4.1 -4.7 4 -5 4.1 -5.4 4.1 -6 4 -6.4 4.1 -7.1 4.1 -7.6 4 -8.3 4.1 -9 5.2 -12.4 6.1 -15.9 12.2 -34 4.9 -12.2 2.4 -5.1 1.7 -2.8 0.7 -0.9 1.2 -0.8 1.3 0.1 1.2 0.3 1.2 0.6 1.2 0.9 1.3 1.3 2.4 3.3 1.7 3.1 1.9 4.2 3.7 9.8 2.5 7.9 3.6 12.4 12.7 47.7 4.1 14.4 4 13.5 4.1 12.3 4.1 11.1 4 10 4.1 9 4.1 7.9 4 7.1 4.1 6.3 4.1 5.6 4 4.9 4.1 4.4 4.1 4 4 3.5 4.1 3.1 4.1 2.8 8.1 4.8 4.1 2 8.1 3.5 8.1 2.9 8.1 2.3 8.2 1.9 8.1 1.5 8.1 1.3 12.2 1.3 8.2 0.6 12.2 0.6"/>
<path d="M1158.8 323.1l18.5 -3.8 12.2 -3 8.2 -2.3 8.1 -2.6 8.1 -2.9 12.2 -5 8.1 -4 8.2 -4.5 8.1 -5.2 4.1 -2.9 8.1 -6.5 4.1 -3.6 8.1 -8.2 4.1 -4.6 4 -5 4.1 -5.4 4.1 -5.9 4 -6.5 4.1 -7 4.1 -7.6 4 -8.3 4.1 -9 5.4 -13 6.8 -17.8 11.5 -32.3 4.8 -12 2.5 -5.3 1.5 -2.5 1 -1.2 1.2 -0.9 1.2 0.1 1.2 0.3 1.2 0.6 1.3 0.9 1.2 1.3 2.4 3.4 1.5 2.7 2.2 4.7 3.6 9.9 2.5 7.7 3.6 12.8 12.5 47.5 4.1 14.6 4 13.6 4.1 12.5 4.1 11.3 4 10.2 4.1 9 4.1 8.1 4 7.2 4.1 6.3 4.1 5.7 4 5 4.1 4.4 4.1 4 4 3.5 4.1 3.2 4.1 2.8 4 2.5 8.2 4.2 4 1.8 8.1 3.1 8.2 2.4 8.1 1.9 8.1 1.5 8.2 1.1 8.1 0.7 8.1 0.4 8.2 0.2 12.2 -0.3"/>
<path d="M1158.8 323.1l18.5 -3.8 12.2 -3 8.2 -2.3 8.1 -2.6 8.1 -2.9 12.2 -5 8.1 -4 8.2 -4.5 8.1 -5.2 4.1 -2.8 8.1 -6.5 4.1 -3.6 8.1 -8.2 4.1 -4.6 4 -5 4.1 -5.4 4.1 -5.9 4 -6.5 4.1 -7 4.1 -7.6 4 -8.3 4.1 -8.9 5.6 -13.5 6.6 -17.4 11.7 -32.9 4.6 -11.7 2.7 -5.8 1.3 -2.2 1.1 -1.5 1.3 -0.9 1.2 0.1 1.2 0.3 1.2 0.6 1.2 1 2.5 2.8 1.2 1.8 2.4 4.7 3.7 9.2 2.4 7.4 3.7 12.5 13.5 51.5 4.1 14.8 4 13.8 4.1 12.6 4.1 11.4 4 10.3 4.1 9.1 4.1 8.2 4 7.2 4.1 6.4 4.1 5.7 4 5.1 4.1 4.5 4.1 4 4 3.6 4.1 3.2 4.1 2.8 4 2.6 8.2 4.3 4 1.9 8.1 3.1 8.2 2.6 8.1 2 8.1 1.7 8.2 1.2 8.1 1 8.1 0.7 8.2 0.4 12.2 0.3"/>
<path d="M1158.8 323.2l18.5 -3.8 12.2 -3 8.2 -2.3 8.1 -2.6 8.1 -2.9 12.2 -5.1 8.1 -3.9 8.2 -4.6 8.1 -5.2 4.1 -2.9 8.1 -6.4 4.1 -3.7 8.1 -8.2 4.1 -4.6 4 -5 4.1 -5.5 4.1 -5.9 4 -6.5 4.1 -7 4.1 -7.7 4 -8.3 4.1 -9 5.5 -13.3 6.7 -17.8 11.6 -32.8 4.7 -12 2.6 -5.6 1.4 -2.4 1.1 -1.4 1.2 -0.9 1.2 0.1 1.2 0.3 1.2 0.7 1.3 0.9 2.4 2.8 1.2 1.8 2.5 4.7 3.6 9.1 2.5 7.3 3.6 12.4 13.6 51.3 4.1 14.6 4 13.6 4.1 12.5 4.1 11.2 4 10.2 4.1 9 4.1 8 4 7.2 4.1 6.3 4.1 5.7 4 5 4.1 4.4 4.1 4 4 3.6 4.1 3.1 4.1 2.9 8.1 4.8 4.1 2.1 8.1 3.6 8.1 3 8.1 2.4 8.2 2.1 8.1 1.7 8.1 1.4 12.2 1.7 20.4 2"/>
<path d="M1158.8 323.2l18.5 -3.9 12.2 -3 8.2 -2.3 8.1 -2.6 8.1 -2.9 12.2 -5.1 8.1 -4 8.2 -4.5 8.1 -5.2 4.1 -2.9 8.1 -6.5 4.1 -3.7 8.1 -8.2 4.1 -4.7 4 -5 4.1 -5.5 4.1 -6 4 -6.5 4.1 -7 4.1 -7.7 4 -8.4 4.1 -9.1 5.4 -13 6.8 -18.2 11.5 -32.7 4.8 -12.3 2.5 -5.4 1.5 -2.6 0.9 -1.1 1.3 -1 1.2 0.1 1.2 0.4 1.2 0.6 1.2 0.9 2.5 2.8 1.2 1.9 2.4 4.6 3.7 9.2 2.4 7.3 3.7 12.5 13.7 52 4.1 14.6 4 13.6 4.1 12.4 4.1 11.3 4 10 4.1 9 4.1 8 4 7.1 4.1 6.3 4.1 5.6 4 4.9 4.1 4.4 4.1 3.9 4 3.5 4.1 3.1 4.1 2.7 4 2.5 8.2 4.2 4 1.7 8.1 2.9 8.2 2.3 8.1 1.8 8.1 1.3 8.2 1 8.1 0.5 8.1 0.3 8.2 -0.1 12.2 -0.7"/>
<path d="M1158.8 323.1l18.5 -3.8 12.2 -3 8.2 -2.4 8.1 -2.6 8.1 -2.9 12.2 -5.1 8.1 -4 8.2 -4.5 8.1 -5.3 4.1 -2.9 8.1 -6.5 4.1 -3.7 8.1 -8.2 4.1 -4.7 4 -5.1 4.1 -5.5 4.1 -6 4 -6.6 4.1 -7.1 4.1 -7.7 4 -8.4 4.1 -9.2 5.2 -12.8 7 -18.6 11.3 -32.5 4.9 -12.6 2.5 -5.1 1.6 -2.8 0.8 -1 1.2 -1 1.2 0.1 1.2 0.4 1.3 0.6 1.2 1 2.4 2.8 1.2 1.9 2.5 4.7 3.6 9.4 2.5 7.4 3.6 12.6 13.9 53.3 4.1 14.8 4 13.7 4.1 12.5 4.1 11.4 4 10.1 4.1 9.1 4.1 8 4 7.2 4.1 6.3 4.1 5.6 4 5 4.1 4.4 4.1 4 4 3.5 4.1 3.1 4.1 2.8 4 2.4 8.2 4.2 4 1.8 8.1 3 8.2 2.3 8.1 1.9 8.1 1.4 8.2 1 8.1 0.6 8.1 0.3 8.2 0.1 12.2 -0.5"/>
<path d="M1158.8 323.3l18.5 -3.8 12.2 -3.1 8.2 -2.3 8.1 -2.6 8.1 -2.9 12.2 -5.1 8.1 -4 8.2 -4.5 8.1 -5.3 4.1 -2.9 8.1 -6.5 4.1 -3.7 8.1 -8.3 4.1 -4.6 4 -5.1 4.1 -5.5 4.1 -6 4 -6.6 4.1 -7.1 4.1 -7.8 4 -8.4 4.1 -9.1 5.4 -13.2 6.8 -18.4 12.2 -34.9 4.1 -10.5 2.5 -5.5 1.5 -2.6 0.9 -1.2 1.3 -0.9 1.2 0.1 1.2 0.3 1.2 0.6 1.2 1 2.5 2.8 1.2 1.9 2.4 4.8 3.7 9.3 2.4 7.5 3.7 12.7 13.7 52.9 4.1 14.8 4 13.8 4.1 12.6 4.1 11.3 4 10.2 4.1 9.1 4.1 8.1 4 7.2 4.1 6.3 4.1 5.7 4 5 4.1 4.4 4.1 4 4 3.5 4.1 3.1 4.1 2.8 4 2.5 8.2 4.2 4 1.8 8.1 3 8.2 2.4 8.1 1.8 8.1 1.4 8.2 1.1 8.1 0.7 8.1 0.4 8.2 0 12.2 -0.3"/>
<path d="M1158.8 323.2l18.5 -3.8 12.2 -3.1 8.2 -2.3 8.1 -2.6 8.1 -2.9 12.2 -5.1 8.1 -3.9 8.2 -4.6 8.1 -5.2 4.1 -2.9 8.1 -6.5 4.1 -3.7 8.1 -8.2 4.1 -4.7 4 -5 4.1 -5.5 4.1 -6 4 -6.5 4.1 -7.1 4.1 -7.8 4 -8.4 4.1 -9.1 5.6 -13.8 6.6 -17.7 12.2 -35.2 4.1 -10.6 1.5 -3.6 2.5 -4.7 1.2 -1.6 1.2 -0.9 1.2 0.1 1.2 0.3 1.2 0.7 1.3 0.9 2.4 2.9 1.2 1.9 2.5 4.9 3.6 9.4 3.3 10.6 2.8 9.8 13.5 52.6 4.1 15.1 4 13.9 4.1 12.8 4.1 11.6 4 10.4 4.1 9.2 4.1 8.2 4 7.3 4.1 6.5 4.1 5.7 4 5.1 4.1 4.5 4.1 4.1 4 3.6 4.1 3.2 4.1 2.8 8.1 4.9 4.1 2.1 8.1 3.6 8.1 2.9 8.1 2.3 8.2 2 8.1 1.5 8.1 1.2 12.2 1.4 8.2 0.6 12.2 0.6"/>
<path d="M1158.8 323.1l18.5 -3.8 12.2 -3 8.2 -2.4 8.1 -2.6 8.1 -2.9 8.2 -3.3 8.1 -3.7 8.1 -4.3 4.1 -2.3 8.1 -5.3 4.1 -2.9 8.1 -6.5 4.1 -3.7 8.1 -8.3 4.1 -4.7 4 -5.1 4.1 -5.5 4.1 -6 4 -6.6 4.1 -7.1 4.1 -7.8 4 -8.5 4.1 -9.2 5.4 -13.4 6.8 -18.3 12.2 -35.3 4.1 -10.6 2.6 -5.7 1.4 -2.5 1 -1.4 1.2 -0.9 1.2 0.1 1.3 0.3 1.2 0.7 1.2 0.9 2.4 2.9 1.3 1.9 2.4 4.8 3.6 9.4 2.5 7.6 3.6 12.7 13.7 52.9 4.1 14.8 4 13.8 4.1 12.6 4.1 11.4 4 10.3 4.1 9.1 4.1 8.1 4 7.2 4.1 6.3 4.1 5.7 4 5 4.1 4.5 4.1 4 4 3.6 4.1 3.2 4.1 2.8 8.1 5 4.1 2.1 8.1 3.6 8.1 3.1 8.1 2.5 8.2 2.2 8.1 1.8 8.1 1.6 12.2 2 20.4 2.7"/>
<path d="M1158.8 323.3l18.5 -3.8 12.2 -3.1 8.2 -2.3 8.1 -2.7 8.1 -2.9 8.2 -3.3 8.1 -3.8 8.1 -4.3 4.1 -2.3 8.1 -5.3 4.1 -3 8.1 -6.6 4.1 -3.7 8.1 -8.3 4.1 -4.8 4 -5.1 4.1 -5.6 4.1 -6.1 4 -6.6 4.1 -7.2 4.1 -7.9 4 -8.6 4.1 -9.2 6.4 -16 6.1 -16.9 10.9 -32 4.9 -12.9 2.5 -5.4 1.7 -3 0.7 -0.8 1.2 -1 1.2 0.1 1.3 0.4 1.2 0.6 1.2 1 2.4 2.9 1.3 1.9 2.4 4.9 3.7 9.6 2.4 7.6 3.7 12.9 13.9 54.7 4.1 15 4 13.9 4.1 12.7 4.1 11.4 4 10.3 4.1 9.1 4.1 8.1 4 7.2 4.1 6.4 4.1 5.6 4 5 4.1 4.5 4.1 4 4 3.6 4.1 3.1 4.1 2.9 8.1 4.8 4.1 2.1 8.1 3.6 8.1 2.9 8.1 2.5 8.2 2 8.1 1.6 8.1 1.4 12.2 1.7 8.2 0.8 12.2 1"/>
<path d="M1158.8 323.3l18.5 -3.9 12.2 -3.1 8.2 -2.3 8.1 -2.6 8.1 -3 8.2 -3.3 8.1 -3.7 8.1 -4.3 4.1 -2.4 8.1 -5.3 4.1 -3 8.1 -6.6 4.1 -3.7 8.1 -8.4 4.1 -4.7 4 -5.2 4.1 -5.6 4.1 -6.1 4 -6.6 4.1 -7.3 4.1 -7.9 4 -8.6 4.1 -9.3 6.3 -16 6.1 -16.9 11 -32.2 4.9 -13 2.4 -5.3 1.8 -3.1 0.7 -0.8 1.2 -1 1.2 0.1 1.2 0.4 1.2 0.6 1.3 1 2.4 2.9 1.2 1.9 2.5 4.9 3.6 9.5 2.5 7.6 3.6 12.9 14 54.4 4.1 14.9 4 13.8 4.1 12.6 4.1 11.3 4 10.2 4.1 9 4.1 8.1 4 7.1 4.1 6.3 4.1 5.6 4 5 4.1 4.4 4.1 4 4 3.5 4.1 3.2 4.1 2.8 8.1 4.9 4.1 2.1 8.1 3.6 8.1 2.9 8.1 2.5 8.2 2.1 8.1 1.8 8.1 1.5 12.2 1.9 20.4 2.4"/>
<path d="M1158.8 323.2l18.5 -3.8 12.2 -3.1 8.2 -2.3 8.1 -2.7 8.1 -2.9 8.2 -3.3 8.1 -3.8 8.1 -4.3 4.1 -2.4 8.1 -5.3 4.1 -3 8.1 -6.6 4.1 -3.7 8.1 -8.4 4.1 -4.8 4 -5.1 4.1 -5.6 4.1 -6.2 4 -6.6 4.1 -7.3 4.1 -7.9 4 -8.7 4.1 -9.3 6.3 -16 6.1 -17 11 -32.4 4.9 -13 2.4 -5.4 1.8 -3.1 0.6 -0.8 1.3 -0.9 1.2 0.1 1.2 0.3 1.2 0.7 1.2 0.9 2.5 3 1.2 2 2.4 4.9 3.7 9.6 2.4 7.7 3.7 13 14 55.2 4.1 15.1 4 13.9 4.1 12.7 4.1 11.4 4 10.2 4.1 9.2 4.1 8.1 4 7.2 4.1 6.3 4.1 5.7 4 5 4.1 4.5 4.1 3.9 4 3.6 4.1 3.2 4.1 2.8 8.1 4.9 4.1 2.1 8.1 3.7 8.1 3 8.1 2.5 8.2 2.1 8.1 1.8 8.1 1.6 12.2 1.9 20.4 2.5"/>
<path d="M1158.8 323.1l18.5 -3.8 12.2 -3.1 8.2 -2.4 8.1 -2.6 8.1 -2.9 8.2 -3.3 8.1 -3.8 8.1 -4.3 4.1 -2.4 8.1 -5.3 4.1 -2.9 8.1 -6.7 4.1 -3.7 8.1 -8.4 4.1 -4.7 4 -5.2 4.1 -5.6 4.1 -6.1 4 -6.7 4.1 -7.2 4.1 -8 4 -8.6 4.1 -9.3 7.7 -19.7 4.8 -13.7 11 -32.5 3.7 -10.1 3.6 -8.4 1.7 -3 0.8 -1 1.2 -0.9 2.1 0.3 1.5 0.8 1.3 1 1.2 1.3 1.2 1.6 1.2 2 2.5 4.9 3.6 9.6 2.5 7.7 3.6 13 13.9 54.6 4.1 15 4 13.9 4.1 12.6 4.1 11.4 4 10.3 4.1 9 4.1 8.1 4 7.1 4.1 6.4 4.1 5.6 4 4.9 4.1 4.4 4.1 3.9 4 3.5 4.1 3.1 4.1 2.8 8.1 4.6 4.1 2 8.1 3.3 8.1 2.6 8.1 2 8.2 1.6 8.1 1.2 8.1 0.7 12.2 0.6 8.2 0 12.2 -0.6"/>
<path d="M1158.8 323.1l18.5 -3.8 12.2 -3.1 8.2 -2.3 8.1 -2.6 8.1 -3 8.2 -3.3 8.1 -3.8 8.1 -4.3 4.1 -2.3 8.1 -5.3 4.1 -3 8.1 -6.6 4.1 -3.7 8.1 -8.4 4.1 -4.8 4 -5.1 4.1 -5.6 4.1 -6.2 4 -6.6 4.1 -7.3 4.1 -7.9 4 -8.7 4.1 -9.3 6.5 -16.7 6.1 -17.1 11.8 -34.9 4.1 -10.8 2.4 -5.6 1.6 -2.8 0.9 -1.1 1.2 -1 1.2 0.1 1.2 0.3 1.3 0.7 1.2 1 2.4 2.9 1.2 2 2.5 4.9 3.6 9.7 2.5 7.7 3.6 13 13.8 54.2 4.1 15 4 13.9 4.1 12.7 4.1 11.4 4 10.3 4.1 9.1 4.1 8.1 4 7.1 4.1 6.4 4.1 5.6 4 5 4.1 4.4 4.1 4 4 3.5 4.1 3.2 4.1 2.8 8.1 4.8 4.1 2.1 8.1 3.5 8.1 2.9 8.1 2.4 8.2 2 8.1 1.7 8.1 1.3 12.2 1.7 8.2 0.8 12.2 0.9"/>
<path d="M1158.8 323.1l18.5 -3.8 12.2 -3.1 8.2 -2.4 8.1 -2.6 8.1 -2.9 8.2 -3.3 8.1 -3.8 8.1 -4.3 4.1 -2.4 8.1 -5.3 4.1 -2.9 8.1 -6.7 4.1 -3.7 8.1 -8.4 4.1 -4.7 4 -5.2 4.1 -5.6 4.1 -6.2 4 -6.7 4.1 -7.3 4.1 -7.9 4 -8.7 4.1 -9.3 6.6 -16.8 6.1 -17.2 11.7 -35 4.1 -10.9 2.5 -5.6 1.5 -2.8 0.9 -1.2 1.2 -1 1.3 0.1 1.2 0.4 1.2 0.6 1.2 1 2.4 3 1.3 2 2.4 5.1 3.7 9.8 2.4 7.8 3.7 13.2 13.7 55 4.1 15.2 4 14.1 4.1 12.9 4.1 11.6 4 10.4 4.1 9.2 4.1 8.2 4 7.2 4.1 6.4 4.1 5.7 4 5 4.1 4.5 4.1 4 4 3.5 4.1 3.1 4.1 2.8 8.1 4.7 4.1 2 8.1 3.4 8.1 2.7 8.1 2.1 8.2 1.6 8.1 1.2 8.1 0.8 12.2 0.7 8.2 0 12.2 -0.4"/>
<path d="M1158.8 323.2l18.5 -3.8 12.2 -3.1 8.2 -2.3 8.1 -2.7 8.1 -2.9 8.2 -3.3 8.1 -3.8 8.1 -4.3 4.1 -2.4 8.1 -5.3 4.1 -3 8.1 -6.6 4.1 -3.7 8.1 -8.4 4.1 -4.8 4 -5.2 4.1 -5.6 4.1 -6.2 4 -6.7 4.1 -7.3 4.1 -8 4 -8.6 4.1 -9.5 6.6 -16.9 6.1 -17.3 11.7 -35 4.1 -11 2.5 -5.8 1.5 -2.7 0.9 -1.3 1.3 -1 1.2 0.1 1.2 0.4 1.2 0.7 1.2 1 2.5 3 1.2 2 2.4 5.1 3.7 9.8 2.4 7.9 3.7 13.3 13.7 55.2 4.1 15.3 4 14.2 4.1 12.9 4.1 11.7 4 10.4 4.1 9.3 4.1 8.2 4 7.3 4.1 6.5 4.1 5.7 4 5 4.1 4.6 4.1 4 4 3.5 4.1 3.2 4.1 2.9 8.1 4.9 4.1 2 8.1 3.6 8.1 2.9 8.1 2.4 8.2 2 8.1 1.6 8.1 1.4 12.2 1.5 8.2 0.8 12.2 0.8"/>
<path d="M1158.8 323.3l18.5 -3.9 12.2 -3.1 8.2 -2.3 8.1 -2.6 8.1 -3 8.2 -3.3 8.1 -3.8 8.1 -4.3 4.1 -2.4 8.1 -5.3 4.1 -3 8.1 -6.6 4.1 -3.8 8.1 -8.4 4.1 -4.8 4 -5.2 4.1 -5.6 4.1 -6.2 4 -6.7 4.1 -7.4 4.1 -8 4 -8.7 4.1 -9.5 6.6 -16.9 6.1 -17.4 11.7 -35.2 4.1 -11.1 2.5 -5.7 1.5 -2.8 0.9 -1.3 1.2 -1 1.3 0.1 1.2 0.4 1.2 0.7 1.2 1 2.5 3 1.2 2.1 2.4 5 3.7 9.9 2.4 7.9 3.7 13.4 13.7 55.3 4.1 15.3 4 14.2 4.1 12.9 4.1 11.6 4 10.4 4.1 9.3 4.1 8.2 4 7.3 4.1 6.4 4.1 5.7 4 5 4.1 4.5 4.1 4 4 3.5 4.1 3.2 4.1 2.8 8.1 4.8 4.1 2.1 8.1 3.5 8.1 2.8 8.1 2.2 8.2 1.9 8.1 1.4 8.1 1.2 12.2 1.2 8.2 0.5 12.2 0.3"/>
</g>
<text font-size="33" text-anchor="end" transform="translate(1153.10,391.60) scale(1,1.045)" >0</text>
<text font-size="33" transform="translate(1903.90,392.10) scale(1,1.045)" >0</text>
<text font-size="33" text-anchor="end" transform="translate(1153.10,331.90) scale(1,1.045)" >5</text>
<text font-size="33" transform="translate(1903.90,332.40) scale(1,1.045)" >5</text>
<text font-size="33" text-anchor="end" transform="translate(1153.10,272.20) scale(1,1.045)" >10</text>
<text font-size="33" transform="translate(1903.90,272.70) scale(1,1.045)" >10</text>
<text font-size="33" text-anchor="end" transform="translate(1153.10,212.50) scale(1,1.045)" >15</text>
<text font-size="33" transform="translate(1903.90,213.00) scale(1,1.045)" >15</text>
<text font-size="33" text-anchor="end" transform="translate(1153.10,152.80) scale(1,1.045)" >20</text>
<text font-size="33" transform="translate(1903.90,153.30) scale(1,1.045)" >20</text>
<text font-size="33" text-anchor="end" transform="translate(1153.10,93.10) scale(1,1.045)" >25</text>
<text font-size="33" transform="translate(1903.90,93.60) scale(1,1.045)" >25</text>
<text font-size="33" text-anchor="end" transform="translate(1153.10,33.40) scale(1,1.045)" >30</text>
<text font-size="33" transform="translate(1903.90,33.90) scale(1,1.045)" >30</text>
<text font-size="33" text-anchor="middle" transform="translate(1244.41,417.00) scale(1,1.045)" >-160</text>
<text font-size="33" text-anchor="middle" transform="translate(1346.05,417.00) scale(1,1.045)" >-150</text>
<text font-size="33" text-anchor="middle" transform="translate(1447.69,417.00) scale(1,1.045)" >-140</text>
<text font-size="33" text-anchor="middle" transform="translate(1610.20,417.00) scale(1,1.045)" >140</text>
<text font-size="33" text-anchor="middle" transform="translate(1711.70,417.00) scale(1,1.045)" >150</text>
<text font-size="33" text-anchor="middle" transform="translate(1813.20,417.00) scale(1,1.045)" >160</text>
<text x="1485" y="459.5" font-family='"Liberation Sans", sans-serif' font-size="39" fill="#000">I<tspan font-size="27" dy="10">dc</tspan><tspan dy="-10" font-size="39"> (</tspan><tspan font-family='"Liberation Serif", serif' font-size="39">μ</tspan><tspan>A)</tspan></text>
<text transform="translate(1105.6,273.5) rotate(-90)" font-size="40">dV/dI (<tspan font-family='"Liberation Serif", serif' dx="0.5">Ω</tspan><tspan dx="1">)</tspan></text>
<text transform="translate(1953.6,122.3) rotate(90)" font-size="40">dV/dI (<tspan font-family='"Liberation Serif", serif' dx="0.5">Ω</tspan><tspan dx="1">)</tspan></text>
<line x1="1187.70" y1="48.30" x2="1262.00" y2="48.30" stroke="#F47878" stroke-width="2.3" stroke-linecap="butt" />
<line x1="1187.70" y1="89.00" x2="1262.00" y2="89.00" stroke="#5F9AEB" stroke-width="2.1" stroke-linecap="butt" />
<text font-size="33" x="1271.20" y="58.90" >50 reps w/ TC</text>
<text font-size="33" x="1271.20" y="99.80" >50 reps w/o TC</text>
<line x1="1542.00" y1="44.70" x2="1616.50" y2="44.70" stroke="#F47878" stroke-width="2.3" stroke-linecap="butt" />
<line x1="1542.00" y1="86.00" x2="1616.50" y2="86.00" stroke="#5F9AEB" stroke-width="2.1" stroke-linecap="butt" />
<text font-size="33" x="1626.40" y="56.50" >50 reps w/ TC</text>
<text font-size="33" x="1626.40" y="97.20" >50 reps w/o TC</text>
<text font-size="48" font-weight="bold" x="1086.40" y="41.10" >c</text>
</g>
<g id="panel-d">
<path d="M1676.9 811.2L1679.1 813.4M1676.9 801.1L1689.2 813.4M1676.9 791.1L1699.2 813.4M1676.9 781.1L1706.3 810.5M1676.9 771.0L1706.3 800.4M1676.9 761.0L1706.3 790.4M1676.9 750.9L1706.3 780.3M1676.9 740.9L1706.3 770.3M1676.9 730.9L1706.3 760.3M1676.9 720.8L1706.3 750.2M1676.9 710.8L1706.3 740.2M1676.9 700.7L1706.3 730.1M1676.9 690.7L1706.3 720.1M1676.9 680.7L1706.3 710.1M1676.9 670.6L1706.3 700.0M1676.9 660.6L1706.3 690.0M1676.9 650.5L1706.3 679.9M1676.9 640.5L1706.3 669.9M1676.9 630.5L1706.3 659.9M1676.9 620.4L1706.3 649.8M1676.9 610.4L1706.3 639.8M1676.9 600.3L1706.3 629.7M1676.9 590.3L1706.3 619.7M1676.9 580.3L1706.3 609.7M1676.9 570.2L1706.3 599.6M1676.9 560.2L1706.3 589.6M1676.9 550.1L1706.3 579.5M1677.2 540.4L1706.3 569.5M1687.2 540.4L1706.3 559.5M1697.3 540.4L1706.3 549.4" stroke="#5F9AEB" stroke-width="1.7" stroke-linecap="butt"/>
<path d="M1676.9 813.4V540.4H1706.3V813.4" stroke="#5F9AEB" stroke-width="2.9" stroke-linecap="butt" stroke-linejoin="round"/>
<line x1="1166.00" y1="493.50" x2="1166.00" y2="814.85" stroke="#000" stroke-width="3.3" stroke-linecap="butt" />
<line x1="1896.00" y1="493.50" x2="1896.00" y2="814.85" stroke="#000" stroke-width="2.9" stroke-linecap="butt" />
<line x1="1166.00" y1="494.95" x2="1896.00" y2="494.95" stroke="#000" stroke-width="2.9" stroke-linecap="butt" />
<line x1="1166.00" y1="813.40" x2="1896.00" y2="813.40" stroke="#000" stroke-width="2.9" stroke-linecap="butt" />
<line x1="1185.55" y1="813.40" x2="1185.55" y2="809.60" stroke="#000" stroke-width="3.0" stroke-linecap="butt" />
<line x1="1185.55" y1="494.95" x2="1185.55" y2="498.75" stroke="#000" stroke-width="3.0" stroke-linecap="butt" />
<line x1="1218.14" y1="813.40" x2="1218.14" y2="805.80" stroke="#000" stroke-width="3.0" stroke-linecap="butt" />
<line x1="1218.14" y1="494.95" x2="1218.14" y2="502.55" stroke="#000" stroke-width="3.0" stroke-linecap="butt" />
<line x1="1250.73" y1="813.40" x2="1250.73" y2="809.60" stroke="#000" stroke-width="3.0" stroke-linecap="butt" />
<line x1="1250.73" y1="494.95" x2="1250.73" y2="498.75" stroke="#000" stroke-width="3.0" stroke-linecap="butt" />
<line x1="1283.32" y1="813.40" x2="1283.32" y2="805.80" stroke="#000" stroke-width="3.0" stroke-linecap="butt" />
<line x1="1283.32" y1="494.95" x2="1283.32" y2="502.55" stroke="#000" stroke-width="3.0" stroke-linecap="butt" />
<line x1="1315.91" y1="813.40" x2="1315.91" y2="809.60" stroke="#000" stroke-width="3.0" stroke-linecap="butt" />
<line x1="1315.91" y1="494.95" x2="1315.91" y2="498.75" stroke="#000" stroke-width="3.0" stroke-linecap="butt" />
<line x1="1348.50" y1="813.40" x2="1348.50" y2="805.80" stroke="#000" stroke-width="3.0" stroke-linecap="butt" />
<line x1="1348.50" y1="494.95" x2="1348.50" y2="502.55" stroke="#000" stroke-width="3.0" stroke-linecap="butt" />
<line x1="1381.09" y1="813.40" x2="1381.09" y2="809.60" stroke="#000" stroke-width="3.0" stroke-linecap="butt" />
<line x1="1381.09" y1="494.95" x2="1381.09" y2="498.75" stroke="#000" stroke-width="3.0" stroke-linecap="butt" />
<line x1="1413.68" y1="813.40" x2="1413.68" y2="805.80" stroke="#000" stroke-width="3.0" stroke-linecap="butt" />
<line x1="1413.68" y1="494.95" x2="1413.68" y2="502.55" stroke="#000" stroke-width="3.0" stroke-linecap="butt" />
<line x1="1446.27" y1="813.40" x2="1446.27" y2="809.60" stroke="#000" stroke-width="3.0" stroke-linecap="butt" />
<line x1="1446.27" y1="494.95" x2="1446.27" y2="498.75" stroke="#000" stroke-width="3.0" stroke-linecap="butt" />
<line x1="1478.86" y1="813.40" x2="1478.86" y2="805.80" stroke="#000" stroke-width="3.0" stroke-linecap="butt" />
<line x1="1478.86" y1="494.95" x2="1478.86" y2="502.55" stroke="#000" stroke-width="3.0" stroke-linecap="butt" />
<line x1="1511.45" y1="813.40" x2="1511.45" y2="809.60" stroke="#000" stroke-width="3.0" stroke-linecap="butt" />
<line x1="1511.45" y1="494.95" x2="1511.45" y2="498.75" stroke="#000" stroke-width="3.0" stroke-linecap="butt" />
<line x1="1589.40" y1="813.40" x2="1589.40" y2="805.80" stroke="#000" stroke-width="3.0" stroke-linecap="butt" />
<line x1="1589.40" y1="494.95" x2="1589.40" y2="502.55" stroke="#000" stroke-width="3.0" stroke-linecap="butt" />
<line x1="1662.40" y1="813.40" x2="1662.40" y2="809.60" stroke="#000" stroke-width="3.0" stroke-linecap="butt" />
<line x1="1662.40" y1="494.95" x2="1662.40" y2="498.75" stroke="#000" stroke-width="3.0" stroke-linecap="butt" />
<line x1="1735.40" y1="813.40" x2="1735.40" y2="805.80" stroke="#000" stroke-width="3.0" stroke-linecap="butt" />
<line x1="1735.40" y1="494.95" x2="1735.40" y2="502.55" stroke="#000" stroke-width="3.0" stroke-linecap="butt" />
<line x1="1808.40" y1="813.40" x2="1808.40" y2="809.60" stroke="#000" stroke-width="3.0" stroke-linecap="butt" />
<line x1="1808.40" y1="494.95" x2="1808.40" y2="498.75" stroke="#000" stroke-width="3.0" stroke-linecap="butt" />
<line x1="1881.40" y1="813.40" x2="1881.40" y2="805.80" stroke="#000" stroke-width="3.0" stroke-linecap="butt" />
<line x1="1881.40" y1="494.95" x2="1881.40" y2="502.55" stroke="#000" stroke-width="3.0" stroke-linecap="butt" />
<line x1="1166.00" y1="769.17" x2="1169.80" y2="769.17" stroke="#000" stroke-width="3.0" stroke-linecap="butt" />
<line x1="1166.00" y1="724.94" x2="1173.60" y2="724.94" stroke="#000" stroke-width="3.0" stroke-linecap="butt" />
<line x1="1166.00" y1="680.71" x2="1169.80" y2="680.71" stroke="#000" stroke-width="3.0" stroke-linecap="butt" />
<line x1="1166.00" y1="636.48" x2="1173.60" y2="636.48" stroke="#000" stroke-width="3.0" stroke-linecap="butt" />
<line x1="1166.00" y1="592.25" x2="1169.80" y2="592.25" stroke="#000" stroke-width="3.0" stroke-linecap="butt" />
<line x1="1166.00" y1="548.02" x2="1173.60" y2="548.02" stroke="#000" stroke-width="3.0" stroke-linecap="butt" />
<line x1="1166.00" y1="503.80" x2="1169.80" y2="503.80" stroke="#000" stroke-width="3.0" stroke-linecap="butt" />
<line x1="1896.00" y1="786.64" x2="1892.20" y2="786.64" stroke="#000" stroke-width="3.0" stroke-linecap="butt" />
<line x1="1896.00" y1="759.88" x2="1888.40" y2="759.88" stroke="#000" stroke-width="3.0" stroke-linecap="butt" />
<line x1="1896.00" y1="733.12" x2="1892.20" y2="733.12" stroke="#000" stroke-width="3.0" stroke-linecap="butt" />
<line x1="1896.00" y1="706.36" x2="1888.40" y2="706.36" stroke="#000" stroke-width="3.0" stroke-linecap="butt" />
<line x1="1896.00" y1="679.60" x2="1892.20" y2="679.60" stroke="#000" stroke-width="3.0" stroke-linecap="butt" />
<line x1="1896.00" y1="652.84" x2="1888.40" y2="652.84" stroke="#000" stroke-width="3.0" stroke-linecap="butt" />
<line x1="1896.00" y1="626.08" x2="1892.20" y2="626.08" stroke="#000" stroke-width="3.0" stroke-linecap="butt" />
<line x1="1896.00" y1="599.32" x2="1888.40" y2="599.32" stroke="#000" stroke-width="3.0" stroke-linecap="butt" />
<line x1="1896.00" y1="572.56" x2="1892.20" y2="572.56" stroke="#000" stroke-width="3.0" stroke-linecap="butt" />
<line x1="1896.00" y1="545.79" x2="1888.40" y2="545.79" stroke="#000" stroke-width="3.0" stroke-linecap="butt" />
<line x1="1896.00" y1="519.03" x2="1892.20" y2="519.03" stroke="#000" stroke-width="3.0" stroke-linecap="butt" />
<path d="M1192.1 801.1L1197.1 795.7M1194.1 814.1L1211.1 795.7M1208.1 814.1L1218.1 803.2" stroke="#F47878" stroke-width="1.7" stroke-linecap="butt"/>
<path d="M1218.1 531.0L1218.8 530.3M1218.1 546.2L1232.8 530.3M1218.1 561.3L1244.2 533.1M1218.1 576.4L1244.2 548.2M1218.1 591.5L1244.2 563.4M1218.1 606.6L1244.2 578.5M1218.1 621.8L1244.2 593.6M1218.1 636.9L1244.2 608.7M1218.1 652.0L1244.2 623.8M1218.1 667.1L1244.2 639.0M1218.1 682.2L1244.2 654.1M1218.1 697.4L1244.2 669.2M1218.1 712.5L1244.2 684.3M1218.1 727.6L1244.2 699.4M1218.1 742.7L1244.2 714.6M1218.1 757.8L1244.2 729.7M1218.1 773.0L1244.2 744.8M1218.1 788.1L1244.2 759.9M1218.1 803.2L1244.2 775.0M1222.1 814.1L1244.2 790.2M1236.1 814.1L1244.2 805.3" stroke="#F47878" stroke-width="1.7" stroke-linecap="butt"/>
<path d="M1244.2 623.8L1248.9 618.8M1244.2 639.0L1262.9 618.8M1244.2 654.1L1270.3 625.9M1244.2 669.2L1270.3 641.1M1244.2 684.3L1270.3 656.2M1244.2 699.4L1270.3 671.3M1244.2 714.6L1270.3 686.4M1244.2 729.7L1270.3 701.5M1244.2 744.8L1270.3 716.7M1244.2 759.9L1270.3 731.8M1244.2 775.0L1270.3 746.9M1244.2 790.2L1270.3 762.0M1244.2 805.3L1270.3 777.1M1250.1 814.1L1270.3 792.3M1264.1 814.1L1270.3 807.4" stroke="#F47878" stroke-width="1.7" stroke-linecap="butt"/>
<path d="M1270.3 746.9L1274.2 742.6M1270.3 762.0L1288.2 742.6M1270.3 777.1L1296.4 749.0M1270.3 792.3L1296.4 764.1M1270.3 807.4L1296.4 779.2M1278.1 814.1L1296.4 794.3M1292.1 814.1L1296.4 809.5" stroke="#F47878" stroke-width="1.7" stroke-linecap="butt"/>
<path d="M1296.4 673.4L1297.8 671.9M1296.4 688.5L1311.8 671.9M1296.4 703.6L1322.4 675.5M1296.4 718.7L1322.4 690.6M1296.4 733.9L1322.4 705.7M1296.4 749.0L1322.4 720.8M1296.4 764.1L1322.4 735.9M1296.4 779.2L1322.4 751.1M1296.4 794.3L1322.4 766.2M1296.4 809.5L1322.4 781.3M1306.1 814.1L1322.4 796.4M1320.1 814.1L1322.4 811.5" stroke="#F47878" stroke-width="1.7" stroke-linecap="butt"/>
<path d="M1322.4 796.4L1323.1 795.7M1322.4 811.5L1337.1 795.7M1334.1 814.1L1348.5 798.5M1348.1 814.1L1348.5 813.6" stroke="#F47878" stroke-width="1.7" stroke-linecap="butt"/>
<path d="M1348.5 783.4L1353.5 778.0M1348.5 798.5L1367.5 778.0M1348.5 813.6L1374.6 785.5M1362.1 814.1L1374.6 800.6" stroke="#F47878" stroke-width="1.7" stroke-linecap="butt"/>
<path d="M1400.6 802.7L1407.1 795.7M1404.1 814.1L1421.1 795.7M1418.1 814.1L1426.7 804.7" stroke="#F47878" stroke-width="1.7" stroke-linecap="butt"/>
<path d="M1426.7 804.7L1435.1 795.7M1432.1 814.1L1449.1 795.7M1446.1 814.1L1452.8 806.8" stroke="#F47878" stroke-width="1.7" stroke-linecap="butt"/>
<path d="M1452.8 806.8L1463.1 795.7M1460.1 814.1L1477.1 795.7M1474.1 814.1L1478.9 808.9" stroke="#F47878" stroke-width="1.7" stroke-linecap="butt"/>
<path d="M1478.9 763.6L1481.8 760.3M1478.9 778.7L1495.8 760.3M1478.9 793.8L1504.9 765.6M1478.9 808.9L1504.9 780.8M1488.1 814.1L1504.9 795.9M1502.1 814.1L1504.9 811.0" stroke="#F47878" stroke-width="1.7" stroke-linecap="butt"/>
<path d="M1504.9 811.0L1519.1 795.7M1516.1 814.1L1531.0 798.0M1530.1 814.1L1531.0 813.1" stroke="#F47878" stroke-width="1.7" stroke-linecap="butt"/>
<path d="M1192.1 814.1V795.7H1218.1V814.1" stroke="#F47878" stroke-width="2.6" stroke-linecap="butt" stroke-linejoin="round"/>
<path d="M1218.1 814.1V530.3H1244.2V814.1" stroke="#F47878" stroke-width="2.6" stroke-linecap="butt" stroke-linejoin="round"/>
<path d="M1244.2 814.1V618.8H1270.3V814.1" stroke="#F47878" stroke-width="2.6" stroke-linecap="butt" stroke-linejoin="round"/>
<path d="M1270.3 814.1V742.6H1296.4V814.1" stroke="#F47878" stroke-width="2.6" stroke-linecap="butt" stroke-linejoin="round"/>
<path d="M1296.4 814.1V671.9H1322.4V814.1" stroke="#F47878" stroke-width="2.6" stroke-linecap="butt" stroke-linejoin="round"/>
<path d="M1322.4 814.1V795.7H1348.5V814.1" stroke="#F47878" stroke-width="2.6" stroke-linecap="butt" stroke-linejoin="round"/>
<path d="M1348.5 814.1V778.0H1374.6V814.1" stroke="#F47878" stroke-width="2.6" stroke-linecap="butt" stroke-linejoin="round"/>
<path d="M1400.6 814.1V795.7H1426.7V814.1" stroke="#F47878" stroke-width="2.6" stroke-linecap="butt" stroke-linejoin="round"/>
<path d="M1426.7 814.1V795.7H1452.8V814.1" stroke="#F47878" stroke-width="2.6" stroke-linecap="butt" stroke-linejoin="round"/>
<path d="M1452.8 814.1V795.7H1478.9V814.1" stroke="#F47878" stroke-width="2.6" stroke-linecap="butt" stroke-linejoin="round"/>
<path d="M1478.9 814.1V760.3H1504.9V814.1" stroke="#F47878" stroke-width="2.6" stroke-linecap="butt" stroke-linejoin="round"/>
<path d="M1504.9 814.1V795.7H1531.0V814.1" stroke="#F47878" stroke-width="2.6" stroke-linecap="butt" stroke-linejoin="round"/>
<line x1="1531.00" y1="493.50" x2="1531.00" y2="814.85" stroke="#000" stroke-width="3.4" stroke-linecap="butt" />
<text font-size="33" text-anchor="end" transform="translate(1158.00,823.80) scale(1,1.045)" >0</text>
<text font-size="33" text-anchor="end" transform="translate(1158.00,735.34) scale(1,1.045)" >5</text>
<text font-size="33" text-anchor="end" transform="translate(1158.00,646.88) scale(1,1.045)" >10</text>
<text font-size="33" text-anchor="end" transform="translate(1158.00,558.42) scale(1,1.045)" >15</text>
<text font-size="33" transform="translate(1904.20,823.80) scale(1,1.045)" >0</text>
<text font-size="33" transform="translate(1904.20,770.28) scale(1,1.045)" >10</text>
<text font-size="33" transform="translate(1904.20,716.76) scale(1,1.045)" >20</text>
<text font-size="33" transform="translate(1904.20,663.24) scale(1,1.045)" >30</text>
<text font-size="33" transform="translate(1904.20,609.72) scale(1,1.045)" >40</text>
<text font-size="33" transform="translate(1904.20,556.19) scale(1,1.045)" >50</text>
<text font-size="33" text-anchor="middle" transform="translate(1218.14,848.00) scale(1,1.045)" >-10</text>
<text font-size="33" text-anchor="middle" transform="translate(1283.32,848.00) scale(1,1.045)" >-5</text>
<text font-size="33" text-anchor="middle" transform="translate(1348.50,848.00) scale(1,1.045)" >0</text>
<text font-size="33" text-anchor="middle" transform="translate(1413.68,848.00) scale(1,1.045)" >5</text>
<text font-size="33" text-anchor="middle" transform="translate(1478.86,848.00) scale(1,1.045)" >10</text>
<text font-size="33" text-anchor="middle" transform="translate(1589.40,848.00) scale(1,1.045)" >-10</text>
<text font-size="33" text-anchor="middle" transform="translate(1735.40,848.00) scale(1,1.045)" >0</text>
<text font-size="33" text-anchor="end" transform="translate(1897.50,848.00) scale(1,1.045)" >10</text>
<text x="1452.5" y="890" font-size="39">Δ<tspan dx="-2.5">I</tspan><tspan font-size="27" dy="10">c</tspan><tspan dy="-10" font-size="39" dx="-0.5"> (</tspan><tspan font-family='"Liberation Serif", serif' font-size="39" dx="0.5">μ</tspan><tspan dx="1.5">A</tspan><tspan dx="1.5">)</tspan></text>
<text transform="translate(1109.5,705) rotate(-90)" font-size="39">Count</text>
<text transform="translate(1952.5,603.5) rotate(90)" font-size="39">Count</text>
<text font-size="33" x="1232.00" y="527.70" >w/ thermal cycles</text>
<text font-size="33" x="1602.50" y="527.70" >w/o thermal cycles</text>
<text x="1314.5" y="665.4" font-size="33">s. d. = 7.16 <tspan font-family='"Liberation Serif", serif'>μ</tspan>A</text>
<text x="1677.5" y="665.4" font-size="33">s. d. = 0.07 <tspan font-family='"Liberation Serif", serif'>μ</tspan>A</text>
<text font-size="48" font-weight="bold" x="1083.60" y="544.30" >d</text>
</g>
</svg>
</body>
</html>
